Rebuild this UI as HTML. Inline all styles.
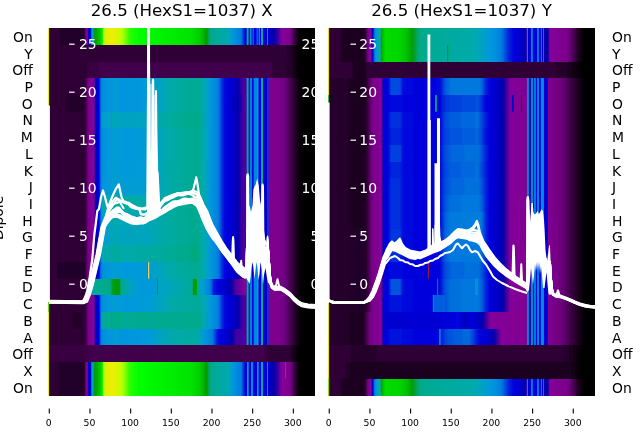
<!DOCTYPE html><html><head><meta charset="utf-8"><title>26.5 (HexS1=1037)</title><style>html,body{margin:0;padding:0;background:#fff}svg{display:block}</style></head><body><svg width="640" height="440" viewBox="0 0 640 440" font-family="'DejaVu Sans', 'Liberation Sans', sans-serif"><defs><linearGradient id="l0"><stop offset="0.0000" stop-color="#2f0035"/><stop offset="0.1332" stop-color="#2f0035"/><stop offset="0.1370" stop-color="#670075"/><stop offset="0.1388" stop-color="#7a008b"/><stop offset="0.1445" stop-color="#860097"/><stop offset="0.1482" stop-color="#0000b5"/><stop offset="0.1520" stop-color="#0000cd"/><stop offset="0.1557" stop-color="#0000dd"/><stop offset="0.1576" stop-color="#0013dd"/><stop offset="0.1595" stop-color="#0067dd"/><stop offset="0.1614" stop-color="#0092dd"/><stop offset="0.1651" stop-color="#00aa9d"/><stop offset="0.1689" stop-color="#00a13d"/><stop offset="0.1707" stop-color="#009d1d"/><stop offset="0.1726" stop-color="#009a08"/><stop offset="0.1764" stop-color="#00a400"/><stop offset="0.1895" stop-color="#00c200"/><stop offset="0.2008" stop-color="#00f400"/><stop offset="0.2026" stop-color="#58ff00"/><stop offset="0.2045" stop-color="#c0fd00"/><stop offset="0.2308" stop-color="#efed00"/><stop offset="0.2420" stop-color="#ecef00"/><stop offset="0.2739" stop-color="#bcff00"/><stop offset="0.2758" stop-color="#b0ff00"/><stop offset="0.2777" stop-color="#b0ff00"/><stop offset="0.2795" stop-color="#a1ff00"/><stop offset="0.2814" stop-color="#a1ff00"/><stop offset="0.2852" stop-color="#84ff00"/><stop offset="0.2871" stop-color="#84ff00"/><stop offset="0.2908" stop-color="#67ff00"/><stop offset="0.2927" stop-color="#67ff00"/><stop offset="0.2964" stop-color="#49ff00"/><stop offset="0.2983" stop-color="#49ff00"/><stop offset="0.3021" stop-color="#2cff00"/><stop offset="0.3058" stop-color="#2cff00"/><stop offset="0.3077" stop-color="#1dff00"/><stop offset="0.3171" stop-color="#1dff00"/><stop offset="0.3189" stop-color="#0fff00"/><stop offset="0.3302" stop-color="#0fff00"/><stop offset="0.3321" stop-color="#00ff00"/><stop offset="0.5347" stop-color="#00e200"/><stop offset="0.5666" stop-color="#00cc00"/><stop offset="0.5779" stop-color="#00ba00"/><stop offset="0.5910" stop-color="#009a00"/><stop offset="0.5929" stop-color="#009a08"/><stop offset="0.5985" stop-color="#00a248"/><stop offset="0.6023" stop-color="#00a668"/><stop offset="0.6041" stop-color="#00a97d"/><stop offset="0.6098" stop-color="#00aa90"/><stop offset="0.6754" stop-color="#00a7b3"/><stop offset="0.6886" stop-color="#0098dd"/><stop offset="0.7205" stop-color="#007ddd"/><stop offset="0.7223" stop-color="#0078dd"/><stop offset="0.7298" stop-color="#0038dd"/><stop offset="0.7373" stop-color="#0000dd"/><stop offset="0.7411" stop-color="#0000dd"/><stop offset="0.7430" stop-color="#00aa95"/><stop offset="0.7486" stop-color="#00aa95"/><stop offset="0.7505" stop-color="#0000dd"/><stop offset="0.7542" stop-color="#0000dd"/><stop offset="0.7561" stop-color="#008add"/><stop offset="0.7598" stop-color="#008add"/><stop offset="0.7617" stop-color="#0000dd"/><stop offset="0.7636" stop-color="#0000dd"/><stop offset="0.7655" stop-color="#008add"/><stop offset="0.7674" stop-color="#008add"/><stop offset="0.7692" stop-color="#0000dd"/><stop offset="0.7786" stop-color="#0000dd"/><stop offset="0.7805" stop-color="#008add"/><stop offset="0.7824" stop-color="#008add"/><stop offset="0.7842" stop-color="#0000dd"/><stop offset="0.7861" stop-color="#0000dd"/><stop offset="0.7880" stop-color="#008add"/><stop offset="0.7917" stop-color="#008add"/><stop offset="0.7936" stop-color="#0000dd"/><stop offset="0.7955" stop-color="#0000dd"/><stop offset="0.7974" stop-color="#00aa95"/><stop offset="0.8030" stop-color="#00aa95"/><stop offset="0.8049" stop-color="#0000dd"/><stop offset="0.8180" stop-color="#0000dd"/><stop offset="0.8199" stop-color="#0085dd"/><stop offset="0.8218" stop-color="#0085dd"/><stop offset="0.8236" stop-color="#0000cd"/><stop offset="0.8443" stop-color="#0300aa"/><stop offset="0.8499" stop-color="#1800a7"/><stop offset="0.8518" stop-color="#1800a7"/><stop offset="0.8555" stop-color="#2d00a4"/><stop offset="0.8574" stop-color="#2d00a4"/><stop offset="0.8687" stop-color="#6d009c"/><stop offset="0.8705" stop-color="#6d009c"/><stop offset="0.8762" stop-color="#870098"/><stop offset="0.9081" stop-color="#770088"/><stop offset="0.9174" stop-color="#4b0055"/><stop offset="0.9212" stop-color="#41004b"/><stop offset="0.9268" stop-color="#25002b"/><stop offset="0.9287" stop-color="#25002b"/><stop offset="0.9325" stop-color="#130015"/><stop offset="0.9381" stop-color="#09000b"/><stop offset="0.9400" stop-color="#000000"/><stop offset="1.0000" stop-color="#000000"/></linearGradient><linearGradient id="l1"><stop offset="0.0000" stop-color="#2f0035"/><stop offset="0.8912" stop-color="#2f0035"/><stop offset="0.8949" stop-color="#25002b"/><stop offset="0.9081" stop-color="#25002b"/><stop offset="0.9099" stop-color="#1c0020"/><stop offset="0.9193" stop-color="#1c0020"/><stop offset="0.9212" stop-color="#130015"/><stop offset="0.9268" stop-color="#130015"/><stop offset="0.9287" stop-color="#09000b"/><stop offset="0.9362" stop-color="#09000b"/><stop offset="0.9381" stop-color="#000000"/><stop offset="1.0000" stop-color="#000000"/></linearGradient><linearGradient id="l2"><stop offset="0.0000" stop-color="#2f0035"/><stop offset="0.1426" stop-color="#2f0035"/><stop offset="0.1445" stop-color="#380040"/><stop offset="0.1857" stop-color="#380040"/><stop offset="0.1876" stop-color="#41004b"/><stop offset="0.8349" stop-color="#41004b"/><stop offset="0.8368" stop-color="#380040"/><stop offset="0.8386" stop-color="#380040"/><stop offset="0.8405" stop-color="#2f0035"/><stop offset="0.8874" stop-color="#2f0035"/><stop offset="0.8912" stop-color="#25002b"/><stop offset="0.9118" stop-color="#25002b"/><stop offset="0.9137" stop-color="#1c0020"/><stop offset="0.9193" stop-color="#1c0020"/><stop offset="0.9212" stop-color="#130015"/><stop offset="0.9268" stop-color="#130015"/><stop offset="0.9287" stop-color="#09000b"/><stop offset="0.9343" stop-color="#09000b"/><stop offset="0.9362" stop-color="#000000"/><stop offset="1.0000" stop-color="#000000"/></linearGradient><linearGradient id="l3"><stop offset="0.0000" stop-color="#2f0035"/><stop offset="0.1332" stop-color="#2f0035"/><stop offset="0.1351" stop-color="#380040"/><stop offset="0.1370" stop-color="#380040"/><stop offset="0.1426" stop-color="#540060"/><stop offset="0.1445" stop-color="#670075"/><stop offset="0.1482" stop-color="#79008a"/><stop offset="0.1651" stop-color="#870098"/><stop offset="0.1689" stop-color="#83009a"/><stop offset="0.1707" stop-color="#63009e"/><stop offset="0.1745" stop-color="#0d00a8"/><stop offset="0.1764" stop-color="#0000b5"/><stop offset="0.1820" stop-color="#0000d5"/><stop offset="0.1857" stop-color="#0000dd"/><stop offset="0.1895" stop-color="#0013dd"/><stop offset="0.1932" stop-color="#005ddd"/><stop offset="0.1951" stop-color="#007add"/><stop offset="0.2026" stop-color="#0090dd"/><stop offset="0.2364" stop-color="#0098dd"/><stop offset="0.2533" stop-color="#009cd3"/><stop offset="0.2720" stop-color="#0095dd"/><stop offset="0.3752" stop-color="#009adb"/><stop offset="0.4559" stop-color="#00aaa8"/><stop offset="0.5553" stop-color="#00aa93"/><stop offset="0.5835" stop-color="#00a8af"/><stop offset="0.6041" stop-color="#009adb"/><stop offset="0.6323" stop-color="#0082dd"/><stop offset="0.6398" stop-color="#0070dd"/><stop offset="0.6417" stop-color="#005ddd"/><stop offset="0.6473" stop-color="#0041dd"/><stop offset="0.6510" stop-color="#0025dd"/><stop offset="0.6548" stop-color="#001cdd"/><stop offset="0.6585" stop-color="#0009dd"/><stop offset="0.6642" stop-color="#0009dd"/><stop offset="0.6679" stop-color="#0000dd"/><stop offset="0.6904" stop-color="#0000d1"/><stop offset="0.7111" stop-color="#0300aa"/><stop offset="0.7167" stop-color="#2300a6"/><stop offset="0.7186" stop-color="#2300a6"/><stop offset="0.7223" stop-color="#3800a3"/><stop offset="0.7242" stop-color="#3800a3"/><stop offset="0.7261" stop-color="#4300a2"/><stop offset="0.7317" stop-color="#4300a2"/><stop offset="0.7355" stop-color="#4d00a0"/><stop offset="0.7411" stop-color="#4d00a0"/><stop offset="0.7430" stop-color="#00aaa0"/><stop offset="0.7486" stop-color="#00aaa0"/><stop offset="0.7505" stop-color="#0000d1"/><stop offset="0.7542" stop-color="#0000d1"/><stop offset="0.7561" stop-color="#0080dd"/><stop offset="0.7617" stop-color="#0080dd"/><stop offset="0.7636" stop-color="#0000dd"/><stop offset="0.7674" stop-color="#0000dd"/><stop offset="0.7692" stop-color="#0085dd"/><stop offset="0.7805" stop-color="#0085dd"/><stop offset="0.7824" stop-color="#00aa88"/><stop offset="0.7842" stop-color="#00aa88"/><stop offset="0.7861" stop-color="#007ddd"/><stop offset="0.7880" stop-color="#0000dd"/><stop offset="0.7955" stop-color="#0000dd"/><stop offset="0.7974" stop-color="#00aa98"/><stop offset="0.8030" stop-color="#00aa98"/><stop offset="0.8049" stop-color="#0000cd"/><stop offset="0.8180" stop-color="#0000cd"/><stop offset="0.8199" stop-color="#0038dd"/><stop offset="0.8236" stop-color="#0038dd"/><stop offset="0.8255" stop-color="#830094"/><stop offset="0.8349" stop-color="#7d008e"/><stop offset="0.8780" stop-color="#770088"/><stop offset="0.8818" stop-color="#700080"/><stop offset="0.8837" stop-color="#700080"/><stop offset="0.8856" stop-color="#670075"/><stop offset="0.8893" stop-color="#670075"/><stop offset="0.8931" stop-color="#5d006b"/><stop offset="0.8949" stop-color="#5d006b"/><stop offset="0.8968" stop-color="#540060"/><stop offset="0.9006" stop-color="#540060"/><stop offset="0.9024" stop-color="#4b0055"/><stop offset="0.9099" stop-color="#41004b"/><stop offset="0.9118" stop-color="#380040"/><stop offset="0.9156" stop-color="#380040"/><stop offset="0.9174" stop-color="#2f0035"/><stop offset="0.9250" stop-color="#25002b"/><stop offset="0.9268" stop-color="#1c0020"/><stop offset="0.9306" stop-color="#1c0020"/><stop offset="0.9325" stop-color="#130015"/><stop offset="0.9362" stop-color="#130015"/><stop offset="0.9400" stop-color="#09000b"/><stop offset="0.9418" stop-color="#09000b"/><stop offset="0.9437" stop-color="#000000"/><stop offset="1.0000" stop-color="#000000"/></linearGradient><linearGradient id="l5"><stop offset="0.0000" stop-color="#2f0035"/><stop offset="0.1332" stop-color="#2f0035"/><stop offset="0.1351" stop-color="#380040"/><stop offset="0.1370" stop-color="#380040"/><stop offset="0.1426" stop-color="#540060"/><stop offset="0.1445" stop-color="#670075"/><stop offset="0.1482" stop-color="#79008a"/><stop offset="0.1651" stop-color="#870098"/><stop offset="0.1689" stop-color="#83009a"/><stop offset="0.1707" stop-color="#63009e"/><stop offset="0.1745" stop-color="#0d00a8"/><stop offset="0.1764" stop-color="#0000b5"/><stop offset="0.1820" stop-color="#0000d5"/><stop offset="0.1857" stop-color="#0000dd"/><stop offset="0.1895" stop-color="#0013dd"/><stop offset="0.1932" stop-color="#005ddd"/><stop offset="0.1951" stop-color="#007add"/><stop offset="0.1989" stop-color="#0092dd"/><stop offset="0.2026" stop-color="#009ecf"/><stop offset="0.2326" stop-color="#00a0c7"/><stop offset="0.2458" stop-color="#00a6b7"/><stop offset="0.2608" stop-color="#00a4bb"/><stop offset="0.2702" stop-color="#00a2c3"/><stop offset="0.3734" stop-color="#00a3bf"/><stop offset="0.4315" stop-color="#00aaa3"/><stop offset="0.5535" stop-color="#00aa88"/><stop offset="0.5722" stop-color="#00aa98"/><stop offset="0.5966" stop-color="#009ecf"/><stop offset="0.6060" stop-color="#0098dd"/><stop offset="0.6323" stop-color="#0082dd"/><stop offset="0.6398" stop-color="#0070dd"/><stop offset="0.6417" stop-color="#005ddd"/><stop offset="0.6473" stop-color="#0041dd"/><stop offset="0.6510" stop-color="#0025dd"/><stop offset="0.6548" stop-color="#001cdd"/><stop offset="0.6585" stop-color="#0009dd"/><stop offset="0.6642" stop-color="#0009dd"/><stop offset="0.6679" stop-color="#0000dd"/><stop offset="0.6904" stop-color="#0000d1"/><stop offset="0.7111" stop-color="#0300aa"/><stop offset="0.7167" stop-color="#2300a6"/><stop offset="0.7186" stop-color="#2300a6"/><stop offset="0.7223" stop-color="#3800a3"/><stop offset="0.7242" stop-color="#3800a3"/><stop offset="0.7261" stop-color="#4300a2"/><stop offset="0.7317" stop-color="#4300a2"/><stop offset="0.7355" stop-color="#4d00a0"/><stop offset="0.7411" stop-color="#4d00a0"/><stop offset="0.7430" stop-color="#00aaa0"/><stop offset="0.7486" stop-color="#00aaa0"/><stop offset="0.7505" stop-color="#0000d1"/><stop offset="0.7542" stop-color="#0000d1"/><stop offset="0.7561" stop-color="#0080dd"/><stop offset="0.7617" stop-color="#0080dd"/><stop offset="0.7636" stop-color="#0000dd"/><stop offset="0.7674" stop-color="#0000dd"/><stop offset="0.7692" stop-color="#0085dd"/><stop offset="0.7805" stop-color="#0085dd"/><stop offset="0.7824" stop-color="#00aa88"/><stop offset="0.7842" stop-color="#00aa88"/><stop offset="0.7861" stop-color="#007ddd"/><stop offset="0.7880" stop-color="#0000dd"/><stop offset="0.7955" stop-color="#0000dd"/><stop offset="0.7974" stop-color="#00aa98"/><stop offset="0.8030" stop-color="#00aa98"/><stop offset="0.8049" stop-color="#0000cd"/><stop offset="0.8180" stop-color="#0000cd"/><stop offset="0.8199" stop-color="#0038dd"/><stop offset="0.8236" stop-color="#0038dd"/><stop offset="0.8255" stop-color="#830094"/><stop offset="0.8349" stop-color="#7d008e"/><stop offset="0.8780" stop-color="#770088"/><stop offset="0.8818" stop-color="#700080"/><stop offset="0.8837" stop-color="#700080"/><stop offset="0.8856" stop-color="#670075"/><stop offset="0.8893" stop-color="#670075"/><stop offset="0.8931" stop-color="#5d006b"/><stop offset="0.8949" stop-color="#5d006b"/><stop offset="0.8968" stop-color="#540060"/><stop offset="0.9006" stop-color="#540060"/><stop offset="0.9024" stop-color="#4b0055"/><stop offset="0.9099" stop-color="#41004b"/><stop offset="0.9118" stop-color="#380040"/><stop offset="0.9156" stop-color="#380040"/><stop offset="0.9174" stop-color="#2f0035"/><stop offset="0.9250" stop-color="#25002b"/><stop offset="0.9268" stop-color="#1c0020"/><stop offset="0.9306" stop-color="#1c0020"/><stop offset="0.9325" stop-color="#130015"/><stop offset="0.9362" stop-color="#130015"/><stop offset="0.9400" stop-color="#09000b"/><stop offset="0.9418" stop-color="#09000b"/><stop offset="0.9437" stop-color="#000000"/><stop offset="1.0000" stop-color="#000000"/></linearGradient><linearGradient id="l6"><stop offset="0.0000" stop-color="#2f0035"/><stop offset="0.1332" stop-color="#2f0035"/><stop offset="0.1351" stop-color="#380040"/><stop offset="0.1370" stop-color="#380040"/><stop offset="0.1426" stop-color="#540060"/><stop offset="0.1445" stop-color="#670075"/><stop offset="0.1482" stop-color="#79008a"/><stop offset="0.1651" stop-color="#870098"/><stop offset="0.1689" stop-color="#83009a"/><stop offset="0.1707" stop-color="#63009e"/><stop offset="0.1745" stop-color="#0d00a8"/><stop offset="0.1764" stop-color="#0000b5"/><stop offset="0.1820" stop-color="#0000d5"/><stop offset="0.1857" stop-color="#0000dd"/><stop offset="0.1895" stop-color="#0013dd"/><stop offset="0.1932" stop-color="#005ddd"/><stop offset="0.1951" stop-color="#007add"/><stop offset="0.2026" stop-color="#0092dd"/><stop offset="0.2364" stop-color="#009adb"/><stop offset="0.2477" stop-color="#009ecf"/><stop offset="0.2627" stop-color="#009bd7"/><stop offset="0.2852" stop-color="#0098dd"/><stop offset="0.3752" stop-color="#009bd7"/><stop offset="0.4503" stop-color="#00aaa8"/><stop offset="0.5535" stop-color="#00aa90"/><stop offset="0.5816" stop-color="#00aaab"/><stop offset="0.6041" stop-color="#009adb"/><stop offset="0.6323" stop-color="#0082dd"/><stop offset="0.6398" stop-color="#0070dd"/><stop offset="0.6417" stop-color="#005ddd"/><stop offset="0.6473" stop-color="#0041dd"/><stop offset="0.6510" stop-color="#0025dd"/><stop offset="0.6548" stop-color="#001cdd"/><stop offset="0.6585" stop-color="#0009dd"/><stop offset="0.6642" stop-color="#0009dd"/><stop offset="0.6679" stop-color="#0000dd"/><stop offset="0.6904" stop-color="#0000d1"/><stop offset="0.7111" stop-color="#0300aa"/><stop offset="0.7167" stop-color="#2300a6"/><stop offset="0.7186" stop-color="#2300a6"/><stop offset="0.7223" stop-color="#3800a3"/><stop offset="0.7242" stop-color="#3800a3"/><stop offset="0.7261" stop-color="#4300a2"/><stop offset="0.7317" stop-color="#4300a2"/><stop offset="0.7355" stop-color="#4d00a0"/><stop offset="0.7411" stop-color="#4d00a0"/><stop offset="0.7430" stop-color="#00aaa0"/><stop offset="0.7486" stop-color="#00aaa0"/><stop offset="0.7505" stop-color="#0000d1"/><stop offset="0.7542" stop-color="#0000d1"/><stop offset="0.7561" stop-color="#0080dd"/><stop offset="0.7617" stop-color="#0080dd"/><stop offset="0.7636" stop-color="#0000dd"/><stop offset="0.7674" stop-color="#0000dd"/><stop offset="0.7692" stop-color="#0085dd"/><stop offset="0.7805" stop-color="#0085dd"/><stop offset="0.7824" stop-color="#00aa88"/><stop offset="0.7842" stop-color="#00aa88"/><stop offset="0.7861" stop-color="#007ddd"/><stop offset="0.7880" stop-color="#0000dd"/><stop offset="0.7955" stop-color="#0000dd"/><stop offset="0.7974" stop-color="#00aa98"/><stop offset="0.8030" stop-color="#00aa98"/><stop offset="0.8049" stop-color="#0000cd"/><stop offset="0.8180" stop-color="#0000cd"/><stop offset="0.8199" stop-color="#0038dd"/><stop offset="0.8236" stop-color="#0038dd"/><stop offset="0.8255" stop-color="#830094"/><stop offset="0.8349" stop-color="#7d008e"/><stop offset="0.8780" stop-color="#770088"/><stop offset="0.8818" stop-color="#700080"/><stop offset="0.8837" stop-color="#700080"/><stop offset="0.8856" stop-color="#670075"/><stop offset="0.8893" stop-color="#670075"/><stop offset="0.8931" stop-color="#5d006b"/><stop offset="0.8949" stop-color="#5d006b"/><stop offset="0.8968" stop-color="#540060"/><stop offset="0.9006" stop-color="#540060"/><stop offset="0.9024" stop-color="#4b0055"/><stop offset="0.9099" stop-color="#41004b"/><stop offset="0.9118" stop-color="#380040"/><stop offset="0.9156" stop-color="#380040"/><stop offset="0.9174" stop-color="#2f0035"/><stop offset="0.9250" stop-color="#25002b"/><stop offset="0.9268" stop-color="#1c0020"/><stop offset="0.9306" stop-color="#1c0020"/><stop offset="0.9325" stop-color="#130015"/><stop offset="0.9362" stop-color="#130015"/><stop offset="0.9400" stop-color="#09000b"/><stop offset="0.9418" stop-color="#09000b"/><stop offset="0.9437" stop-color="#000000"/><stop offset="1.0000" stop-color="#000000"/></linearGradient><linearGradient id="l8"><stop offset="0.0000" stop-color="#2f0035"/><stop offset="0.1332" stop-color="#2f0035"/><stop offset="0.1351" stop-color="#380040"/><stop offset="0.1370" stop-color="#380040"/><stop offset="0.1426" stop-color="#540060"/><stop offset="0.1445" stop-color="#670075"/><stop offset="0.1482" stop-color="#79008a"/><stop offset="0.1651" stop-color="#870098"/><stop offset="0.1689" stop-color="#83009a"/><stop offset="0.1707" stop-color="#63009e"/><stop offset="0.1745" stop-color="#0d00a8"/><stop offset="0.1764" stop-color="#0000b5"/><stop offset="0.1820" stop-color="#0000d5"/><stop offset="0.1857" stop-color="#0000dd"/><stop offset="0.1895" stop-color="#0013dd"/><stop offset="0.1932" stop-color="#005ddd"/><stop offset="0.1951" stop-color="#007add"/><stop offset="0.2008" stop-color="#0092dd"/><stop offset="0.2345" stop-color="#009adb"/><stop offset="0.2458" stop-color="#009ecf"/><stop offset="0.2608" stop-color="#009cd3"/><stop offset="0.2739" stop-color="#009adb"/><stop offset="0.3715" stop-color="#009bd7"/><stop offset="0.4503" stop-color="#00aaa5"/><stop offset="0.5553" stop-color="#00aa90"/><stop offset="0.5797" stop-color="#00aaa8"/><stop offset="0.6041" stop-color="#009adb"/><stop offset="0.6323" stop-color="#0082dd"/><stop offset="0.6398" stop-color="#0070dd"/><stop offset="0.6417" stop-color="#005ddd"/><stop offset="0.6473" stop-color="#0041dd"/><stop offset="0.6510" stop-color="#0025dd"/><stop offset="0.6548" stop-color="#001cdd"/><stop offset="0.6585" stop-color="#0009dd"/><stop offset="0.6642" stop-color="#0009dd"/><stop offset="0.6679" stop-color="#0000dd"/><stop offset="0.6904" stop-color="#0000d1"/><stop offset="0.7111" stop-color="#0300aa"/><stop offset="0.7167" stop-color="#2300a6"/><stop offset="0.7186" stop-color="#2300a6"/><stop offset="0.7223" stop-color="#3800a3"/><stop offset="0.7242" stop-color="#3800a3"/><stop offset="0.7261" stop-color="#4300a2"/><stop offset="0.7317" stop-color="#4300a2"/><stop offset="0.7355" stop-color="#4d00a0"/><stop offset="0.7411" stop-color="#4d00a0"/><stop offset="0.7430" stop-color="#00aaa0"/><stop offset="0.7486" stop-color="#00aaa0"/><stop offset="0.7505" stop-color="#0000d1"/><stop offset="0.7542" stop-color="#0000d1"/><stop offset="0.7561" stop-color="#0080dd"/><stop offset="0.7617" stop-color="#0080dd"/><stop offset="0.7636" stop-color="#0000dd"/><stop offset="0.7674" stop-color="#0000dd"/><stop offset="0.7692" stop-color="#0085dd"/><stop offset="0.7805" stop-color="#0085dd"/><stop offset="0.7824" stop-color="#00aa88"/><stop offset="0.7842" stop-color="#00aa88"/><stop offset="0.7861" stop-color="#007ddd"/><stop offset="0.7880" stop-color="#0000dd"/><stop offset="0.7955" stop-color="#0000dd"/><stop offset="0.7974" stop-color="#00aa98"/><stop offset="0.8030" stop-color="#00aa98"/><stop offset="0.8049" stop-color="#0000cd"/><stop offset="0.8180" stop-color="#0000cd"/><stop offset="0.8199" stop-color="#0038dd"/><stop offset="0.8236" stop-color="#0038dd"/><stop offset="0.8255" stop-color="#830094"/><stop offset="0.8349" stop-color="#7d008e"/><stop offset="0.8780" stop-color="#770088"/><stop offset="0.8818" stop-color="#700080"/><stop offset="0.8837" stop-color="#700080"/><stop offset="0.8856" stop-color="#670075"/><stop offset="0.8893" stop-color="#670075"/><stop offset="0.8931" stop-color="#5d006b"/><stop offset="0.8949" stop-color="#5d006b"/><stop offset="0.8968" stop-color="#540060"/><stop offset="0.9006" stop-color="#540060"/><stop offset="0.9024" stop-color="#4b0055"/><stop offset="0.9099" stop-color="#41004b"/><stop offset="0.9118" stop-color="#380040"/><stop offset="0.9156" stop-color="#380040"/><stop offset="0.9174" stop-color="#2f0035"/><stop offset="0.9250" stop-color="#25002b"/><stop offset="0.9268" stop-color="#1c0020"/><stop offset="0.9306" stop-color="#1c0020"/><stop offset="0.9325" stop-color="#130015"/><stop offset="0.9362" stop-color="#130015"/><stop offset="0.9400" stop-color="#09000b"/><stop offset="0.9418" stop-color="#09000b"/><stop offset="0.9437" stop-color="#000000"/><stop offset="1.0000" stop-color="#000000"/></linearGradient><linearGradient id="l9"><stop offset="0.0000" stop-color="#2f0035"/><stop offset="0.1332" stop-color="#2f0035"/><stop offset="0.1351" stop-color="#380040"/><stop offset="0.1370" stop-color="#380040"/><stop offset="0.1426" stop-color="#540060"/><stop offset="0.1445" stop-color="#670075"/><stop offset="0.1482" stop-color="#79008a"/><stop offset="0.1651" stop-color="#870098"/><stop offset="0.1689" stop-color="#83009a"/><stop offset="0.1707" stop-color="#63009e"/><stop offset="0.1745" stop-color="#0d00a8"/><stop offset="0.1764" stop-color="#0000b5"/><stop offset="0.1820" stop-color="#0000d5"/><stop offset="0.1857" stop-color="#0000dd"/><stop offset="0.1895" stop-color="#0013dd"/><stop offset="0.1932" stop-color="#005ddd"/><stop offset="0.1951" stop-color="#007add"/><stop offset="0.2026" stop-color="#0095dd"/><stop offset="0.2345" stop-color="#009bd7"/><stop offset="0.2495" stop-color="#009fcb"/><stop offset="0.2627" stop-color="#009cd3"/><stop offset="0.3734" stop-color="#009cd3"/><stop offset="0.4447" stop-color="#00aaa8"/><stop offset="0.5553" stop-color="#00aa90"/><stop offset="0.5797" stop-color="#00aaa8"/><stop offset="0.6041" stop-color="#009adb"/><stop offset="0.6323" stop-color="#0082dd"/><stop offset="0.6398" stop-color="#0070dd"/><stop offset="0.6417" stop-color="#005ddd"/><stop offset="0.6473" stop-color="#0041dd"/><stop offset="0.6510" stop-color="#0025dd"/><stop offset="0.6548" stop-color="#001cdd"/><stop offset="0.6585" stop-color="#0009dd"/><stop offset="0.6642" stop-color="#0009dd"/><stop offset="0.6679" stop-color="#0000dd"/><stop offset="0.6904" stop-color="#0000d1"/><stop offset="0.7111" stop-color="#0300aa"/><stop offset="0.7167" stop-color="#2300a6"/><stop offset="0.7186" stop-color="#2300a6"/><stop offset="0.7223" stop-color="#3800a3"/><stop offset="0.7242" stop-color="#3800a3"/><stop offset="0.7261" stop-color="#4300a2"/><stop offset="0.7317" stop-color="#4300a2"/><stop offset="0.7355" stop-color="#4d00a0"/><stop offset="0.7411" stop-color="#4d00a0"/><stop offset="0.7430" stop-color="#00aaa0"/><stop offset="0.7486" stop-color="#00aaa0"/><stop offset="0.7505" stop-color="#0000d1"/><stop offset="0.7542" stop-color="#0000d1"/><stop offset="0.7561" stop-color="#0080dd"/><stop offset="0.7617" stop-color="#0080dd"/><stop offset="0.7636" stop-color="#0000dd"/><stop offset="0.7674" stop-color="#0000dd"/><stop offset="0.7692" stop-color="#0085dd"/><stop offset="0.7805" stop-color="#0085dd"/><stop offset="0.7824" stop-color="#00aa88"/><stop offset="0.7842" stop-color="#00aa88"/><stop offset="0.7861" stop-color="#007ddd"/><stop offset="0.7880" stop-color="#0000dd"/><stop offset="0.7955" stop-color="#0000dd"/><stop offset="0.7974" stop-color="#00aa98"/><stop offset="0.8030" stop-color="#00aa98"/><stop offset="0.8049" stop-color="#0000cd"/><stop offset="0.8180" stop-color="#0000cd"/><stop offset="0.8199" stop-color="#0038dd"/><stop offset="0.8236" stop-color="#0038dd"/><stop offset="0.8255" stop-color="#830094"/><stop offset="0.8349" stop-color="#7d008e"/><stop offset="0.8780" stop-color="#770088"/><stop offset="0.8818" stop-color="#700080"/><stop offset="0.8837" stop-color="#700080"/><stop offset="0.8856" stop-color="#670075"/><stop offset="0.8893" stop-color="#670075"/><stop offset="0.8931" stop-color="#5d006b"/><stop offset="0.8949" stop-color="#5d006b"/><stop offset="0.8968" stop-color="#540060"/><stop offset="0.9006" stop-color="#540060"/><stop offset="0.9024" stop-color="#4b0055"/><stop offset="0.9099" stop-color="#41004b"/><stop offset="0.9118" stop-color="#380040"/><stop offset="0.9156" stop-color="#380040"/><stop offset="0.9174" stop-color="#2f0035"/><stop offset="0.9250" stop-color="#25002b"/><stop offset="0.9268" stop-color="#1c0020"/><stop offset="0.9306" stop-color="#1c0020"/><stop offset="0.9325" stop-color="#130015"/><stop offset="0.9362" stop-color="#130015"/><stop offset="0.9400" stop-color="#09000b"/><stop offset="0.9418" stop-color="#09000b"/><stop offset="0.9437" stop-color="#000000"/><stop offset="1.0000" stop-color="#000000"/></linearGradient><linearGradient id="l10"><stop offset="0.0000" stop-color="#2f0035"/><stop offset="0.1332" stop-color="#2f0035"/><stop offset="0.1351" stop-color="#380040"/><stop offset="0.1370" stop-color="#380040"/><stop offset="0.1426" stop-color="#540060"/><stop offset="0.1445" stop-color="#670075"/><stop offset="0.1482" stop-color="#79008a"/><stop offset="0.1651" stop-color="#870098"/><stop offset="0.1689" stop-color="#83009a"/><stop offset="0.1707" stop-color="#63009e"/><stop offset="0.1745" stop-color="#0d00a8"/><stop offset="0.1764" stop-color="#0000b5"/><stop offset="0.1820" stop-color="#0000d5"/><stop offset="0.1857" stop-color="#0000dd"/><stop offset="0.1895" stop-color="#0013dd"/><stop offset="0.1932" stop-color="#005ddd"/><stop offset="0.1951" stop-color="#007add"/><stop offset="0.1989" stop-color="#009bd7"/><stop offset="0.2008" stop-color="#00a4bb"/><stop offset="0.2045" stop-color="#00a7b3"/><stop offset="0.2345" stop-color="#00aaab"/><stop offset="0.2514" stop-color="#00aaa0"/><stop offset="0.2777" stop-color="#00aaab"/><stop offset="0.4109" stop-color="#00aaa3"/><stop offset="0.5572" stop-color="#00aa8d"/><stop offset="0.5779" stop-color="#00aaa3"/><stop offset="0.6041" stop-color="#009adb"/><stop offset="0.6323" stop-color="#0082dd"/><stop offset="0.6398" stop-color="#0070dd"/><stop offset="0.6417" stop-color="#005ddd"/><stop offset="0.6473" stop-color="#0041dd"/><stop offset="0.6510" stop-color="#0025dd"/><stop offset="0.6548" stop-color="#001cdd"/><stop offset="0.6585" stop-color="#0009dd"/><stop offset="0.6642" stop-color="#0009dd"/><stop offset="0.6679" stop-color="#0000dd"/><stop offset="0.6904" stop-color="#0000d1"/><stop offset="0.7111" stop-color="#0300aa"/><stop offset="0.7167" stop-color="#2300a6"/><stop offset="0.7186" stop-color="#2300a6"/><stop offset="0.7223" stop-color="#3800a3"/><stop offset="0.7242" stop-color="#3800a3"/><stop offset="0.7261" stop-color="#4300a2"/><stop offset="0.7317" stop-color="#4300a2"/><stop offset="0.7355" stop-color="#4d00a0"/><stop offset="0.7411" stop-color="#4d00a0"/><stop offset="0.7430" stop-color="#00aaa0"/><stop offset="0.7486" stop-color="#00aaa0"/><stop offset="0.7505" stop-color="#0000d1"/><stop offset="0.7542" stop-color="#0000d1"/><stop offset="0.7561" stop-color="#0080dd"/><stop offset="0.7617" stop-color="#0080dd"/><stop offset="0.7636" stop-color="#0000dd"/><stop offset="0.7674" stop-color="#0000dd"/><stop offset="0.7692" stop-color="#0085dd"/><stop offset="0.7805" stop-color="#0085dd"/><stop offset="0.7824" stop-color="#00aa88"/><stop offset="0.7842" stop-color="#00aa88"/><stop offset="0.7861" stop-color="#007ddd"/><stop offset="0.7880" stop-color="#0000dd"/><stop offset="0.7955" stop-color="#0000dd"/><stop offset="0.7974" stop-color="#00aa98"/><stop offset="0.8030" stop-color="#00aa98"/><stop offset="0.8049" stop-color="#0000cd"/><stop offset="0.8180" stop-color="#0000cd"/><stop offset="0.8199" stop-color="#0038dd"/><stop offset="0.8236" stop-color="#0038dd"/><stop offset="0.8255" stop-color="#830094"/><stop offset="0.8349" stop-color="#7d008e"/><stop offset="0.8780" stop-color="#770088"/><stop offset="0.8818" stop-color="#700080"/><stop offset="0.8837" stop-color="#700080"/><stop offset="0.8856" stop-color="#670075"/><stop offset="0.8893" stop-color="#670075"/><stop offset="0.8931" stop-color="#5d006b"/><stop offset="0.8949" stop-color="#5d006b"/><stop offset="0.8968" stop-color="#540060"/><stop offset="0.9006" stop-color="#540060"/><stop offset="0.9024" stop-color="#4b0055"/><stop offset="0.9099" stop-color="#41004b"/><stop offset="0.9118" stop-color="#380040"/><stop offset="0.9156" stop-color="#380040"/><stop offset="0.9174" stop-color="#2f0035"/><stop offset="0.9250" stop-color="#25002b"/><stop offset="0.9268" stop-color="#1c0020"/><stop offset="0.9306" stop-color="#1c0020"/><stop offset="0.9325" stop-color="#130015"/><stop offset="0.9362" stop-color="#130015"/><stop offset="0.9400" stop-color="#09000b"/><stop offset="0.9418" stop-color="#09000b"/><stop offset="0.9437" stop-color="#000000"/><stop offset="1.0000" stop-color="#000000"/></linearGradient><linearGradient id="l11"><stop offset="0.0000" stop-color="#2f0035"/><stop offset="0.1332" stop-color="#2f0035"/><stop offset="0.1351" stop-color="#380040"/><stop offset="0.1370" stop-color="#380040"/><stop offset="0.1426" stop-color="#540060"/><stop offset="0.1445" stop-color="#670075"/><stop offset="0.1482" stop-color="#79008a"/><stop offset="0.1651" stop-color="#870098"/><stop offset="0.1689" stop-color="#83009a"/><stop offset="0.1707" stop-color="#63009e"/><stop offset="0.1745" stop-color="#0d00a8"/><stop offset="0.1764" stop-color="#0000b5"/><stop offset="0.1820" stop-color="#0000d5"/><stop offset="0.1857" stop-color="#0000dd"/><stop offset="0.1895" stop-color="#0013dd"/><stop offset="0.1932" stop-color="#005ddd"/><stop offset="0.1951" stop-color="#007add"/><stop offset="0.1989" stop-color="#0098dd"/><stop offset="0.2026" stop-color="#00a2c3"/><stop offset="0.2326" stop-color="#00a4bb"/><stop offset="0.2477" stop-color="#00aaab"/><stop offset="0.2627" stop-color="#00a7b3"/><stop offset="0.2720" stop-color="#00a4bb"/><stop offset="0.3696" stop-color="#00a6b7"/><stop offset="0.4634" stop-color="#00aa9d"/><stop offset="0.5553" stop-color="#00aa8d"/><stop offset="0.5816" stop-color="#00aaab"/><stop offset="0.6041" stop-color="#009adb"/><stop offset="0.6323" stop-color="#0082dd"/><stop offset="0.6398" stop-color="#0070dd"/><stop offset="0.6417" stop-color="#005ddd"/><stop offset="0.6473" stop-color="#0041dd"/><stop offset="0.6510" stop-color="#0025dd"/><stop offset="0.6548" stop-color="#001cdd"/><stop offset="0.6585" stop-color="#0009dd"/><stop offset="0.6642" stop-color="#0009dd"/><stop offset="0.6679" stop-color="#0000dd"/><stop offset="0.6904" stop-color="#0000d1"/><stop offset="0.7111" stop-color="#0300aa"/><stop offset="0.7167" stop-color="#2300a6"/><stop offset="0.7186" stop-color="#2300a6"/><stop offset="0.7223" stop-color="#3800a3"/><stop offset="0.7242" stop-color="#3800a3"/><stop offset="0.7261" stop-color="#4300a2"/><stop offset="0.7317" stop-color="#4300a2"/><stop offset="0.7355" stop-color="#4d00a0"/><stop offset="0.7411" stop-color="#4d00a0"/><stop offset="0.7430" stop-color="#00aaa0"/><stop offset="0.7486" stop-color="#00aaa0"/><stop offset="0.7505" stop-color="#0000d1"/><stop offset="0.7542" stop-color="#0000d1"/><stop offset="0.7561" stop-color="#0080dd"/><stop offset="0.7617" stop-color="#0080dd"/><stop offset="0.7636" stop-color="#0000dd"/><stop offset="0.7674" stop-color="#0000dd"/><stop offset="0.7692" stop-color="#0085dd"/><stop offset="0.7805" stop-color="#0085dd"/><stop offset="0.7824" stop-color="#00aa88"/><stop offset="0.7842" stop-color="#00aa88"/><stop offset="0.7861" stop-color="#007ddd"/><stop offset="0.7880" stop-color="#0000dd"/><stop offset="0.7955" stop-color="#0000dd"/><stop offset="0.7974" stop-color="#00aa98"/><stop offset="0.8030" stop-color="#00aa98"/><stop offset="0.8049" stop-color="#0000cd"/><stop offset="0.8180" stop-color="#0000cd"/><stop offset="0.8199" stop-color="#0038dd"/><stop offset="0.8236" stop-color="#0038dd"/><stop offset="0.8255" stop-color="#830094"/><stop offset="0.8349" stop-color="#7d008e"/><stop offset="0.8780" stop-color="#770088"/><stop offset="0.8818" stop-color="#700080"/><stop offset="0.8837" stop-color="#700080"/><stop offset="0.8856" stop-color="#670075"/><stop offset="0.8893" stop-color="#670075"/><stop offset="0.8931" stop-color="#5d006b"/><stop offset="0.8949" stop-color="#5d006b"/><stop offset="0.8968" stop-color="#540060"/><stop offset="0.9006" stop-color="#540060"/><stop offset="0.9024" stop-color="#4b0055"/><stop offset="0.9099" stop-color="#41004b"/><stop offset="0.9118" stop-color="#380040"/><stop offset="0.9156" stop-color="#380040"/><stop offset="0.9174" stop-color="#2f0035"/><stop offset="0.9250" stop-color="#25002b"/><stop offset="0.9268" stop-color="#1c0020"/><stop offset="0.9306" stop-color="#1c0020"/><stop offset="0.9325" stop-color="#130015"/><stop offset="0.9362" stop-color="#130015"/><stop offset="0.9400" stop-color="#09000b"/><stop offset="0.9418" stop-color="#09000b"/><stop offset="0.9437" stop-color="#000000"/><stop offset="1.0000" stop-color="#000000"/></linearGradient><linearGradient id="l12"><stop offset="0.0000" stop-color="#2f0035"/><stop offset="0.1332" stop-color="#2f0035"/><stop offset="0.1351" stop-color="#380040"/><stop offset="0.1370" stop-color="#380040"/><stop offset="0.1426" stop-color="#540060"/><stop offset="0.1445" stop-color="#670075"/><stop offset="0.1482" stop-color="#79008a"/><stop offset="0.1651" stop-color="#870098"/><stop offset="0.1689" stop-color="#83009a"/><stop offset="0.1707" stop-color="#63009e"/><stop offset="0.1745" stop-color="#0d00a8"/><stop offset="0.1764" stop-color="#0000b5"/><stop offset="0.1820" stop-color="#0000d5"/><stop offset="0.1857" stop-color="#0000dd"/><stop offset="0.1895" stop-color="#0013dd"/><stop offset="0.1932" stop-color="#005ddd"/><stop offset="0.1951" stop-color="#007add"/><stop offset="0.1989" stop-color="#0095dd"/><stop offset="0.2026" stop-color="#009fcb"/><stop offset="0.2345" stop-color="#00a3bf"/><stop offset="0.2495" stop-color="#00a8af"/><stop offset="0.2608" stop-color="#00a6b7"/><stop offset="0.2739" stop-color="#00a3bf"/><stop offset="0.3734" stop-color="#00a4bb"/><stop offset="0.4503" stop-color="#00aaa0"/><stop offset="0.5553" stop-color="#00aa8d"/><stop offset="0.5816" stop-color="#00aaab"/><stop offset="0.6041" stop-color="#009adb"/><stop offset="0.6323" stop-color="#0082dd"/><stop offset="0.6398" stop-color="#0070dd"/><stop offset="0.6417" stop-color="#005ddd"/><stop offset="0.6473" stop-color="#0041dd"/><stop offset="0.6510" stop-color="#0025dd"/><stop offset="0.6548" stop-color="#001cdd"/><stop offset="0.6585" stop-color="#0009dd"/><stop offset="0.6642" stop-color="#0009dd"/><stop offset="0.6679" stop-color="#0000dd"/><stop offset="0.6904" stop-color="#0000d1"/><stop offset="0.7111" stop-color="#0300aa"/><stop offset="0.7167" stop-color="#2300a6"/><stop offset="0.7186" stop-color="#2300a6"/><stop offset="0.7223" stop-color="#3800a3"/><stop offset="0.7242" stop-color="#3800a3"/><stop offset="0.7261" stop-color="#4300a2"/><stop offset="0.7317" stop-color="#4300a2"/><stop offset="0.7355" stop-color="#4d00a0"/><stop offset="0.7411" stop-color="#4d00a0"/><stop offset="0.7430" stop-color="#00aaa0"/><stop offset="0.7486" stop-color="#00aaa0"/><stop offset="0.7505" stop-color="#0000d1"/><stop offset="0.7542" stop-color="#0000d1"/><stop offset="0.7561" stop-color="#0080dd"/><stop offset="0.7617" stop-color="#0080dd"/><stop offset="0.7636" stop-color="#0000dd"/><stop offset="0.7674" stop-color="#0000dd"/><stop offset="0.7692" stop-color="#0085dd"/><stop offset="0.7805" stop-color="#0085dd"/><stop offset="0.7824" stop-color="#00aa88"/><stop offset="0.7842" stop-color="#00aa88"/><stop offset="0.7861" stop-color="#007ddd"/><stop offset="0.7880" stop-color="#0000dd"/><stop offset="0.7955" stop-color="#0000dd"/><stop offset="0.7974" stop-color="#00aa98"/><stop offset="0.8030" stop-color="#00aa98"/><stop offset="0.8049" stop-color="#0000cd"/><stop offset="0.8180" stop-color="#0000cd"/><stop offset="0.8199" stop-color="#0038dd"/><stop offset="0.8236" stop-color="#0038dd"/><stop offset="0.8255" stop-color="#830094"/><stop offset="0.8349" stop-color="#7d008e"/><stop offset="0.8780" stop-color="#770088"/><stop offset="0.8818" stop-color="#700080"/><stop offset="0.8837" stop-color="#700080"/><stop offset="0.8856" stop-color="#670075"/><stop offset="0.8893" stop-color="#670075"/><stop offset="0.8931" stop-color="#5d006b"/><stop offset="0.8949" stop-color="#5d006b"/><stop offset="0.8968" stop-color="#540060"/><stop offset="0.9006" stop-color="#540060"/><stop offset="0.9024" stop-color="#4b0055"/><stop offset="0.9099" stop-color="#41004b"/><stop offset="0.9118" stop-color="#380040"/><stop offset="0.9156" stop-color="#380040"/><stop offset="0.9174" stop-color="#2f0035"/><stop offset="0.9250" stop-color="#25002b"/><stop offset="0.9268" stop-color="#1c0020"/><stop offset="0.9306" stop-color="#1c0020"/><stop offset="0.9325" stop-color="#130015"/><stop offset="0.9362" stop-color="#130015"/><stop offset="0.9400" stop-color="#09000b"/><stop offset="0.9418" stop-color="#09000b"/><stop offset="0.9437" stop-color="#000000"/><stop offset="1.0000" stop-color="#000000"/></linearGradient><linearGradient id="l13"><stop offset="0.0000" stop-color="#2f0035"/><stop offset="0.1332" stop-color="#2f0035"/><stop offset="0.1351" stop-color="#380040"/><stop offset="0.1370" stop-color="#380040"/><stop offset="0.1426" stop-color="#540060"/><stop offset="0.1445" stop-color="#670075"/><stop offset="0.1482" stop-color="#79008a"/><stop offset="0.1651" stop-color="#870098"/><stop offset="0.1689" stop-color="#83009a"/><stop offset="0.1707" stop-color="#63009e"/><stop offset="0.1745" stop-color="#0d00a8"/><stop offset="0.1764" stop-color="#0000b5"/><stop offset="0.1820" stop-color="#0000d5"/><stop offset="0.1857" stop-color="#0000dd"/><stop offset="0.1895" stop-color="#0013dd"/><stop offset="0.1932" stop-color="#005ddd"/><stop offset="0.1970" stop-color="#008ddd"/><stop offset="0.1989" stop-color="#009cd3"/><stop offset="0.2008" stop-color="#00a6b7"/><stop offset="0.2045" stop-color="#00a8af"/><stop offset="0.2383" stop-color="#00aaa3"/><stop offset="0.2570" stop-color="#00aa9d"/><stop offset="0.2777" stop-color="#00aaa8"/><stop offset="0.3996" stop-color="#00aaa0"/><stop offset="0.5366" stop-color="#00aa88"/><stop offset="0.5385" stop-color="#00a97d"/><stop offset="0.5553" stop-color="#00a97d"/><stop offset="0.5572" stop-color="#00aa88"/><stop offset="0.5722" stop-color="#00aa98"/><stop offset="0.5872" stop-color="#00a6b7"/><stop offset="0.6041" stop-color="#009adb"/><stop offset="0.6323" stop-color="#0082dd"/><stop offset="0.6398" stop-color="#0070dd"/><stop offset="0.6417" stop-color="#005ddd"/><stop offset="0.6473" stop-color="#0041dd"/><stop offset="0.6510" stop-color="#0025dd"/><stop offset="0.6548" stop-color="#001cdd"/><stop offset="0.6585" stop-color="#0009dd"/><stop offset="0.6642" stop-color="#0009dd"/><stop offset="0.6679" stop-color="#0000dd"/><stop offset="0.6904" stop-color="#0000d1"/><stop offset="0.7111" stop-color="#0300aa"/><stop offset="0.7167" stop-color="#2300a6"/><stop offset="0.7186" stop-color="#2300a6"/><stop offset="0.7223" stop-color="#3800a3"/><stop offset="0.7242" stop-color="#3800a3"/><stop offset="0.7261" stop-color="#4300a2"/><stop offset="0.7317" stop-color="#4300a2"/><stop offset="0.7355" stop-color="#4d00a0"/><stop offset="0.7411" stop-color="#4d00a0"/><stop offset="0.7430" stop-color="#00aaa0"/><stop offset="0.7486" stop-color="#00aaa0"/><stop offset="0.7505" stop-color="#0000d1"/><stop offset="0.7542" stop-color="#0000d1"/><stop offset="0.7561" stop-color="#0080dd"/><stop offset="0.7617" stop-color="#0080dd"/><stop offset="0.7636" stop-color="#0000dd"/><stop offset="0.7674" stop-color="#0000dd"/><stop offset="0.7692" stop-color="#0085dd"/><stop offset="0.7805" stop-color="#0085dd"/><stop offset="0.7824" stop-color="#00aa88"/><stop offset="0.7842" stop-color="#00aa88"/><stop offset="0.7861" stop-color="#007ddd"/><stop offset="0.7880" stop-color="#0000dd"/><stop offset="0.7955" stop-color="#0000dd"/><stop offset="0.7974" stop-color="#00aa98"/><stop offset="0.8030" stop-color="#00aa98"/><stop offset="0.8049" stop-color="#0000cd"/><stop offset="0.8180" stop-color="#0000cd"/><stop offset="0.8199" stop-color="#0038dd"/><stop offset="0.8236" stop-color="#0038dd"/><stop offset="0.8255" stop-color="#830094"/><stop offset="0.8349" stop-color="#7d008e"/><stop offset="0.8780" stop-color="#770088"/><stop offset="0.8818" stop-color="#700080"/><stop offset="0.8837" stop-color="#700080"/><stop offset="0.8856" stop-color="#670075"/><stop offset="0.8893" stop-color="#670075"/><stop offset="0.8931" stop-color="#5d006b"/><stop offset="0.8949" stop-color="#5d006b"/><stop offset="0.8968" stop-color="#540060"/><stop offset="0.9006" stop-color="#540060"/><stop offset="0.9024" stop-color="#4b0055"/><stop offset="0.9099" stop-color="#41004b"/><stop offset="0.9118" stop-color="#380040"/><stop offset="0.9156" stop-color="#380040"/><stop offset="0.9174" stop-color="#2f0035"/><stop offset="0.9250" stop-color="#25002b"/><stop offset="0.9268" stop-color="#1c0020"/><stop offset="0.9306" stop-color="#1c0020"/><stop offset="0.9325" stop-color="#130015"/><stop offset="0.9362" stop-color="#130015"/><stop offset="0.9400" stop-color="#09000b"/><stop offset="0.9418" stop-color="#09000b"/><stop offset="0.9437" stop-color="#000000"/><stop offset="1.0000" stop-color="#000000"/></linearGradient><linearGradient id="l14"><stop offset="0.0000" stop-color="#2f0035"/><stop offset="0.1332" stop-color="#2f0035"/><stop offset="0.1351" stop-color="#380040"/><stop offset="0.1370" stop-color="#380040"/><stop offset="0.1426" stop-color="#540060"/><stop offset="0.1445" stop-color="#670075"/><stop offset="0.1482" stop-color="#79008a"/><stop offset="0.1651" stop-color="#870098"/><stop offset="0.1689" stop-color="#83009a"/><stop offset="0.1707" stop-color="#63009e"/><stop offset="0.1745" stop-color="#0d00a8"/><stop offset="0.1764" stop-color="#0000b5"/><stop offset="0.1820" stop-color="#0000d5"/><stop offset="0.1857" stop-color="#0000dd"/><stop offset="0.1895" stop-color="#0013dd"/><stop offset="0.1932" stop-color="#005ddd"/><stop offset="0.1951" stop-color="#007add"/><stop offset="0.2026" stop-color="#0092dd"/><stop offset="0.2364" stop-color="#009adb"/><stop offset="0.2477" stop-color="#009ecf"/><stop offset="0.2627" stop-color="#009bd7"/><stop offset="0.2852" stop-color="#0098dd"/><stop offset="0.3752" stop-color="#009bd7"/><stop offset="0.4540" stop-color="#00aaa8"/><stop offset="0.5553" stop-color="#00aa93"/><stop offset="0.5835" stop-color="#00a8af"/><stop offset="0.6041" stop-color="#009adb"/><stop offset="0.6323" stop-color="#0082dd"/><stop offset="0.6398" stop-color="#0070dd"/><stop offset="0.6417" stop-color="#005ddd"/><stop offset="0.6473" stop-color="#0041dd"/><stop offset="0.6510" stop-color="#0025dd"/><stop offset="0.6548" stop-color="#001cdd"/><stop offset="0.6585" stop-color="#0009dd"/><stop offset="0.6642" stop-color="#0009dd"/><stop offset="0.6679" stop-color="#0000dd"/><stop offset="0.6904" stop-color="#0000d1"/><stop offset="0.7111" stop-color="#0300aa"/><stop offset="0.7167" stop-color="#2300a6"/><stop offset="0.7186" stop-color="#2300a6"/><stop offset="0.7223" stop-color="#3800a3"/><stop offset="0.7242" stop-color="#3800a3"/><stop offset="0.7261" stop-color="#4300a2"/><stop offset="0.7317" stop-color="#4300a2"/><stop offset="0.7355" stop-color="#4d00a0"/><stop offset="0.7411" stop-color="#4d00a0"/><stop offset="0.7430" stop-color="#00aaa0"/><stop offset="0.7486" stop-color="#00aaa0"/><stop offset="0.7505" stop-color="#0000d1"/><stop offset="0.7542" stop-color="#0000d1"/><stop offset="0.7561" stop-color="#0080dd"/><stop offset="0.7617" stop-color="#0080dd"/><stop offset="0.7636" stop-color="#0000dd"/><stop offset="0.7674" stop-color="#0000dd"/><stop offset="0.7692" stop-color="#0085dd"/><stop offset="0.7805" stop-color="#0085dd"/><stop offset="0.7824" stop-color="#00aa88"/><stop offset="0.7842" stop-color="#00aa88"/><stop offset="0.7861" stop-color="#007ddd"/><stop offset="0.7880" stop-color="#0000dd"/><stop offset="0.7955" stop-color="#0000dd"/><stop offset="0.7974" stop-color="#00aa98"/><stop offset="0.8030" stop-color="#00aa98"/><stop offset="0.8049" stop-color="#0000cd"/><stop offset="0.8180" stop-color="#0000cd"/><stop offset="0.8199" stop-color="#0038dd"/><stop offset="0.8236" stop-color="#0038dd"/><stop offset="0.8255" stop-color="#830094"/><stop offset="0.8349" stop-color="#7d008e"/><stop offset="0.8780" stop-color="#770088"/><stop offset="0.8818" stop-color="#700080"/><stop offset="0.8837" stop-color="#700080"/><stop offset="0.8856" stop-color="#670075"/><stop offset="0.8893" stop-color="#670075"/><stop offset="0.8931" stop-color="#5d006b"/><stop offset="0.8949" stop-color="#5d006b"/><stop offset="0.8968" stop-color="#540060"/><stop offset="0.9006" stop-color="#540060"/><stop offset="0.9024" stop-color="#4b0055"/><stop offset="0.9099" stop-color="#41004b"/><stop offset="0.9118" stop-color="#380040"/><stop offset="0.9156" stop-color="#380040"/><stop offset="0.9174" stop-color="#2f0035"/><stop offset="0.9250" stop-color="#25002b"/><stop offset="0.9268" stop-color="#1c0020"/><stop offset="0.9306" stop-color="#1c0020"/><stop offset="0.9325" stop-color="#130015"/><stop offset="0.9362" stop-color="#130015"/><stop offset="0.9400" stop-color="#09000b"/><stop offset="0.9418" stop-color="#09000b"/><stop offset="0.9437" stop-color="#000000"/><stop offset="1.0000" stop-color="#000000"/></linearGradient><linearGradient id="l15"><stop offset="0.0000" stop-color="#2f0035"/><stop offset="0.1388" stop-color="#2f0035"/><stop offset="0.1426" stop-color="#7a008b"/><stop offset="0.1463" stop-color="#83009a"/><stop offset="0.1501" stop-color="#0300aa"/><stop offset="0.1538" stop-color="#0000d5"/><stop offset="0.1557" stop-color="#002fdd"/><stop offset="0.1576" stop-color="#0078dd"/><stop offset="0.1614" stop-color="#009bd7"/><stop offset="0.1651" stop-color="#00aaa0"/><stop offset="0.1801" stop-color="#00aa90"/><stop offset="0.2308" stop-color="#00aa88"/><stop offset="0.2326" stop-color="#00a668"/><stop offset="0.2364" stop-color="#00a13d"/><stop offset="0.2383" stop-color="#009d1d"/><stop offset="0.2420" stop-color="#009d1d"/><stop offset="0.2458" stop-color="#009b13"/><stop offset="0.2514" stop-color="#009b13"/><stop offset="0.2533" stop-color="#009a08"/><stop offset="0.2627" stop-color="#009a08"/><stop offset="0.2645" stop-color="#009a00"/><stop offset="0.2664" stop-color="#009e28"/><stop offset="0.2702" stop-color="#00aa8b"/><stop offset="0.3039" stop-color="#00a4bb"/><stop offset="0.3152" stop-color="#009fcb"/><stop offset="0.3490" stop-color="#0098dd"/><stop offset="0.3996" stop-color="#009bd7"/><stop offset="0.4034" stop-color="#009cd3"/><stop offset="0.4053" stop-color="#00a4bb"/><stop offset="0.4071" stop-color="#009d1d"/><stop offset="0.4090" stop-color="#009d1d"/><stop offset="0.4109" stop-color="#00a4bb"/><stop offset="0.4128" stop-color="#00a0c7"/><stop offset="0.4859" stop-color="#00a8af"/><stop offset="0.5366" stop-color="#00aa95"/><stop offset="0.5385" stop-color="#00aa8b"/><stop offset="0.5422" stop-color="#009b13"/><stop offset="0.5441" stop-color="#009a00"/><stop offset="0.5535" stop-color="#009f00"/><stop offset="0.5553" stop-color="#009f33"/><stop offset="0.5572" stop-color="#00aa8d"/><stop offset="0.5666" stop-color="#00a4bb"/><stop offset="0.5816" stop-color="#009adb"/><stop offset="0.6060" stop-color="#007add"/><stop offset="0.6098" stop-color="#0067dd"/><stop offset="0.6173" stop-color="#0025dd"/><stop offset="0.6210" stop-color="#0013dd"/><stop offset="0.6248" stop-color="#0013dd"/><stop offset="0.6285" stop-color="#0009dd"/><stop offset="0.6323" stop-color="#0009dd"/><stop offset="0.6360" stop-color="#0000dd"/><stop offset="0.6585" stop-color="#0000cd"/><stop offset="0.6848" stop-color="#0300aa"/><stop offset="0.6886" stop-color="#1800a7"/><stop offset="0.6904" stop-color="#1800a7"/><stop offset="0.6998" stop-color="#4d00a0"/><stop offset="0.7017" stop-color="#4d00a0"/><stop offset="0.7036" stop-color="#58009f"/><stop offset="0.7073" stop-color="#58009f"/><stop offset="0.7092" stop-color="#63009e"/><stop offset="0.7148" stop-color="#63009e"/><stop offset="0.7167" stop-color="#6d009c"/><stop offset="0.7205" stop-color="#6d009c"/><stop offset="0.7223" stop-color="#78009b"/><stop offset="0.7280" stop-color="#78009b"/><stop offset="0.7298" stop-color="#83009a"/><stop offset="0.7392" stop-color="#870098"/><stop offset="0.7411" stop-color="#4d00a0"/><stop offset="0.7430" stop-color="#00aaa0"/><stop offset="0.7486" stop-color="#00aaa0"/><stop offset="0.7505" stop-color="#0000d1"/><stop offset="0.7542" stop-color="#0000d1"/><stop offset="0.7561" stop-color="#0080dd"/><stop offset="0.7617" stop-color="#0080dd"/><stop offset="0.7636" stop-color="#0000dd"/><stop offset="0.7674" stop-color="#0000dd"/><stop offset="0.7692" stop-color="#0085dd"/><stop offset="0.7805" stop-color="#0085dd"/><stop offset="0.7824" stop-color="#00aa88"/><stop offset="0.7842" stop-color="#00aa88"/><stop offset="0.7861" stop-color="#007ddd"/><stop offset="0.7880" stop-color="#0000dd"/><stop offset="0.7955" stop-color="#0000dd"/><stop offset="0.7974" stop-color="#00aa98"/><stop offset="0.8030" stop-color="#00aa98"/><stop offset="0.8049" stop-color="#0000cd"/><stop offset="0.8180" stop-color="#0000cd"/><stop offset="0.8199" stop-color="#0038dd"/><stop offset="0.8236" stop-color="#0038dd"/><stop offset="0.8255" stop-color="#830094"/><stop offset="0.8349" stop-color="#7d008e"/><stop offset="0.8780" stop-color="#770088"/><stop offset="0.8818" stop-color="#700080"/><stop offset="0.8837" stop-color="#700080"/><stop offset="0.8856" stop-color="#670075"/><stop offset="0.8893" stop-color="#670075"/><stop offset="0.8931" stop-color="#5d006b"/><stop offset="0.8949" stop-color="#5d006b"/><stop offset="0.8968" stop-color="#540060"/><stop offset="0.9006" stop-color="#540060"/><stop offset="0.9024" stop-color="#4b0055"/><stop offset="0.9099" stop-color="#41004b"/><stop offset="0.9118" stop-color="#380040"/><stop offset="0.9156" stop-color="#380040"/><stop offset="0.9174" stop-color="#2f0035"/><stop offset="0.9250" stop-color="#25002b"/><stop offset="0.9268" stop-color="#1c0020"/><stop offset="0.9306" stop-color="#1c0020"/><stop offset="0.9325" stop-color="#130015"/><stop offset="0.9362" stop-color="#130015"/><stop offset="0.9400" stop-color="#09000b"/><stop offset="0.9418" stop-color="#09000b"/><stop offset="0.9437" stop-color="#000000"/><stop offset="1.0000" stop-color="#000000"/></linearGradient><linearGradient id="l16"><stop offset="0.0000" stop-color="#2f0035"/><stop offset="0.1332" stop-color="#2f0035"/><stop offset="0.1351" stop-color="#380040"/><stop offset="0.1370" stop-color="#380040"/><stop offset="0.1426" stop-color="#540060"/><stop offset="0.1445" stop-color="#670075"/><stop offset="0.1482" stop-color="#79008a"/><stop offset="0.1651" stop-color="#870098"/><stop offset="0.1689" stop-color="#83009a"/><stop offset="0.1707" stop-color="#63009e"/><stop offset="0.1745" stop-color="#0d00a8"/><stop offset="0.1764" stop-color="#0000b5"/><stop offset="0.1820" stop-color="#0000d5"/><stop offset="0.1857" stop-color="#0000dd"/><stop offset="0.1895" stop-color="#0013dd"/><stop offset="0.1932" stop-color="#005ddd"/><stop offset="0.1951" stop-color="#007add"/><stop offset="0.2026" stop-color="#0092dd"/><stop offset="0.2364" stop-color="#009adb"/><stop offset="0.2477" stop-color="#009ecf"/><stop offset="0.2627" stop-color="#009bd7"/><stop offset="0.2852" stop-color="#0098dd"/><stop offset="0.3752" stop-color="#009bd7"/><stop offset="0.4615" stop-color="#00aaa8"/><stop offset="0.5572" stop-color="#00aa98"/><stop offset="0.5835" stop-color="#00a8af"/><stop offset="0.6041" stop-color="#009adb"/><stop offset="0.6323" stop-color="#0082dd"/><stop offset="0.6398" stop-color="#0070dd"/><stop offset="0.6417" stop-color="#005ddd"/><stop offset="0.6473" stop-color="#0041dd"/><stop offset="0.6510" stop-color="#0025dd"/><stop offset="0.6548" stop-color="#001cdd"/><stop offset="0.6585" stop-color="#0009dd"/><stop offset="0.6642" stop-color="#0009dd"/><stop offset="0.6679" stop-color="#0000dd"/><stop offset="0.6904" stop-color="#0000d1"/><stop offset="0.7111" stop-color="#0300aa"/><stop offset="0.7167" stop-color="#2300a6"/><stop offset="0.7186" stop-color="#2300a6"/><stop offset="0.7223" stop-color="#3800a3"/><stop offset="0.7242" stop-color="#3800a3"/><stop offset="0.7261" stop-color="#4300a2"/><stop offset="0.7317" stop-color="#4300a2"/><stop offset="0.7355" stop-color="#4d00a0"/><stop offset="0.7411" stop-color="#4d00a0"/><stop offset="0.7430" stop-color="#00aaa0"/><stop offset="0.7486" stop-color="#00aaa0"/><stop offset="0.7505" stop-color="#0000d1"/><stop offset="0.7542" stop-color="#0000d1"/><stop offset="0.7561" stop-color="#0080dd"/><stop offset="0.7617" stop-color="#0080dd"/><stop offset="0.7636" stop-color="#0000dd"/><stop offset="0.7674" stop-color="#0000dd"/><stop offset="0.7692" stop-color="#0085dd"/><stop offset="0.7805" stop-color="#0085dd"/><stop offset="0.7824" stop-color="#00aa88"/><stop offset="0.7842" stop-color="#00aa88"/><stop offset="0.7861" stop-color="#007ddd"/><stop offset="0.7880" stop-color="#0000dd"/><stop offset="0.7955" stop-color="#0000dd"/><stop offset="0.7974" stop-color="#00aa98"/><stop offset="0.8030" stop-color="#00aa98"/><stop offset="0.8049" stop-color="#0000cd"/><stop offset="0.8180" stop-color="#0000cd"/><stop offset="0.8199" stop-color="#0038dd"/><stop offset="0.8236" stop-color="#0038dd"/><stop offset="0.8255" stop-color="#830094"/><stop offset="0.8349" stop-color="#7d008e"/><stop offset="0.8780" stop-color="#770088"/><stop offset="0.8818" stop-color="#700080"/><stop offset="0.8837" stop-color="#700080"/><stop offset="0.8856" stop-color="#670075"/><stop offset="0.8893" stop-color="#670075"/><stop offset="0.8931" stop-color="#5d006b"/><stop offset="0.8949" stop-color="#5d006b"/><stop offset="0.8968" stop-color="#540060"/><stop offset="0.9006" stop-color="#540060"/><stop offset="0.9024" stop-color="#4b0055"/><stop offset="0.9099" stop-color="#41004b"/><stop offset="0.9118" stop-color="#380040"/><stop offset="0.9156" stop-color="#380040"/><stop offset="0.9174" stop-color="#2f0035"/><stop offset="0.9250" stop-color="#25002b"/><stop offset="0.9268" stop-color="#1c0020"/><stop offset="0.9306" stop-color="#1c0020"/><stop offset="0.9325" stop-color="#130015"/><stop offset="0.9362" stop-color="#130015"/><stop offset="0.9400" stop-color="#09000b"/><stop offset="0.9418" stop-color="#09000b"/><stop offset="0.9437" stop-color="#000000"/><stop offset="1.0000" stop-color="#000000"/></linearGradient><linearGradient id="l17"><stop offset="0.0000" stop-color="#2f0035"/><stop offset="0.1332" stop-color="#2f0035"/><stop offset="0.1351" stop-color="#380040"/><stop offset="0.1370" stop-color="#380040"/><stop offset="0.1426" stop-color="#540060"/><stop offset="0.1445" stop-color="#670075"/><stop offset="0.1482" stop-color="#79008a"/><stop offset="0.1651" stop-color="#870098"/><stop offset="0.1689" stop-color="#83009a"/><stop offset="0.1707" stop-color="#63009e"/><stop offset="0.1745" stop-color="#0d00a8"/><stop offset="0.1764" stop-color="#0000b5"/><stop offset="0.1820" stop-color="#0000d5"/><stop offset="0.1857" stop-color="#0000dd"/><stop offset="0.1895" stop-color="#0013dd"/><stop offset="0.1932" stop-color="#005ddd"/><stop offset="0.1970" stop-color="#0092dd"/><stop offset="0.2008" stop-color="#00aaa0"/><stop offset="0.2045" stop-color="#00aa98"/><stop offset="0.2364" stop-color="#00aa90"/><stop offset="0.2552" stop-color="#00aa88"/><stop offset="0.2758" stop-color="#00aa93"/><stop offset="0.5197" stop-color="#00aa90"/><stop offset="0.5572" stop-color="#00aa8b"/><stop offset="0.5760" stop-color="#00aaa0"/><stop offset="0.6041" stop-color="#009adb"/><stop offset="0.6323" stop-color="#0082dd"/><stop offset="0.6398" stop-color="#0070dd"/><stop offset="0.6417" stop-color="#005ddd"/><stop offset="0.6473" stop-color="#0041dd"/><stop offset="0.6510" stop-color="#0025dd"/><stop offset="0.6548" stop-color="#001cdd"/><stop offset="0.6585" stop-color="#0009dd"/><stop offset="0.6642" stop-color="#0009dd"/><stop offset="0.6679" stop-color="#0000dd"/><stop offset="0.6904" stop-color="#0000d1"/><stop offset="0.7111" stop-color="#0300aa"/><stop offset="0.7167" stop-color="#2300a6"/><stop offset="0.7186" stop-color="#2300a6"/><stop offset="0.7223" stop-color="#3800a3"/><stop offset="0.7242" stop-color="#3800a3"/><stop offset="0.7261" stop-color="#4300a2"/><stop offset="0.7317" stop-color="#4300a2"/><stop offset="0.7355" stop-color="#4d00a0"/><stop offset="0.7411" stop-color="#4d00a0"/><stop offset="0.7430" stop-color="#00aaa0"/><stop offset="0.7486" stop-color="#00aaa0"/><stop offset="0.7505" stop-color="#0000d1"/><stop offset="0.7542" stop-color="#0000d1"/><stop offset="0.7561" stop-color="#0080dd"/><stop offset="0.7617" stop-color="#0080dd"/><stop offset="0.7636" stop-color="#0000dd"/><stop offset="0.7674" stop-color="#0000dd"/><stop offset="0.7692" stop-color="#0085dd"/><stop offset="0.7805" stop-color="#0085dd"/><stop offset="0.7824" stop-color="#00aa88"/><stop offset="0.7842" stop-color="#00aa88"/><stop offset="0.7861" stop-color="#007ddd"/><stop offset="0.7880" stop-color="#0000dd"/><stop offset="0.7955" stop-color="#0000dd"/><stop offset="0.7974" stop-color="#00aa98"/><stop offset="0.8030" stop-color="#00aa98"/><stop offset="0.8049" stop-color="#0000cd"/><stop offset="0.8180" stop-color="#0000cd"/><stop offset="0.8199" stop-color="#0038dd"/><stop offset="0.8236" stop-color="#0038dd"/><stop offset="0.8255" stop-color="#830094"/><stop offset="0.8349" stop-color="#7d008e"/><stop offset="0.8780" stop-color="#770088"/><stop offset="0.8818" stop-color="#700080"/><stop offset="0.8837" stop-color="#700080"/><stop offset="0.8856" stop-color="#670075"/><stop offset="0.8893" stop-color="#670075"/><stop offset="0.8931" stop-color="#5d006b"/><stop offset="0.8949" stop-color="#5d006b"/><stop offset="0.8968" stop-color="#540060"/><stop offset="0.9006" stop-color="#540060"/><stop offset="0.9024" stop-color="#4b0055"/><stop offset="0.9099" stop-color="#41004b"/><stop offset="0.9118" stop-color="#380040"/><stop offset="0.9156" stop-color="#380040"/><stop offset="0.9174" stop-color="#2f0035"/><stop offset="0.9250" stop-color="#25002b"/><stop offset="0.9268" stop-color="#1c0020"/><stop offset="0.9306" stop-color="#1c0020"/><stop offset="0.9325" stop-color="#130015"/><stop offset="0.9362" stop-color="#130015"/><stop offset="0.9400" stop-color="#09000b"/><stop offset="0.9418" stop-color="#09000b"/><stop offset="0.9437" stop-color="#000000"/><stop offset="1.0000" stop-color="#000000"/></linearGradient><linearGradient id="l18"><stop offset="0.0000" stop-color="#2f0035"/><stop offset="0.1332" stop-color="#2f0035"/><stop offset="0.1351" stop-color="#380040"/><stop offset="0.1370" stop-color="#380040"/><stop offset="0.1426" stop-color="#540060"/><stop offset="0.1445" stop-color="#670075"/><stop offset="0.1482" stop-color="#79008a"/><stop offset="0.1651" stop-color="#870098"/><stop offset="0.1689" stop-color="#83009a"/><stop offset="0.1707" stop-color="#63009e"/><stop offset="0.1745" stop-color="#0d00a8"/><stop offset="0.1764" stop-color="#0000b5"/><stop offset="0.1820" stop-color="#0000d5"/><stop offset="0.1857" stop-color="#0000dd"/><stop offset="0.1895" stop-color="#0013dd"/><stop offset="0.1932" stop-color="#005ddd"/><stop offset="0.1951" stop-color="#007add"/><stop offset="0.2026" stop-color="#0090dd"/><stop offset="0.2364" stop-color="#0098dd"/><stop offset="0.2533" stop-color="#009cd3"/><stop offset="0.2720" stop-color="#0095dd"/><stop offset="0.3771" stop-color="#009adb"/><stop offset="0.4184" stop-color="#00a2c3"/><stop offset="0.4203" stop-color="#00aaa3"/><stop offset="0.4221" stop-color="#00aaa3"/><stop offset="0.4240" stop-color="#00a3bf"/><stop offset="0.4803" stop-color="#00aaa8"/><stop offset="0.5347" stop-color="#00aaa0"/><stop offset="0.5460" stop-color="#00aaa0"/><stop offset="0.5553" stop-color="#00aaa0"/><stop offset="0.5797" stop-color="#009adb"/><stop offset="0.6098" stop-color="#0082dd"/><stop offset="0.6173" stop-color="#0070dd"/><stop offset="0.6210" stop-color="#0054dd"/><stop offset="0.6248" stop-color="#0041dd"/><stop offset="0.6285" stop-color="#0025dd"/><stop offset="0.6323" stop-color="#001cdd"/><stop offset="0.6360" stop-color="#0009dd"/><stop offset="0.6417" stop-color="#0009dd"/><stop offset="0.6454" stop-color="#0000dd"/><stop offset="0.6679" stop-color="#0000d1"/><stop offset="0.6886" stop-color="#0300aa"/><stop offset="0.6942" stop-color="#2300a6"/><stop offset="0.6979" stop-color="#2d00a4"/><stop offset="0.6998" stop-color="#3800a3"/><stop offset="0.7017" stop-color="#3800a3"/><stop offset="0.7036" stop-color="#4300a2"/><stop offset="0.7205" stop-color="#4300a2"/><stop offset="0.7242" stop-color="#4d00a0"/><stop offset="0.7411" stop-color="#4d00a0"/><stop offset="0.7430" stop-color="#00aaa0"/><stop offset="0.7486" stop-color="#00aaa0"/><stop offset="0.7505" stop-color="#0000d1"/><stop offset="0.7542" stop-color="#0000d1"/><stop offset="0.7561" stop-color="#0080dd"/><stop offset="0.7617" stop-color="#0080dd"/><stop offset="0.7636" stop-color="#0000dd"/><stop offset="0.7674" stop-color="#0000dd"/><stop offset="0.7692" stop-color="#0085dd"/><stop offset="0.7805" stop-color="#0085dd"/><stop offset="0.7824" stop-color="#00aa88"/><stop offset="0.7842" stop-color="#00aa88"/><stop offset="0.7861" stop-color="#007ddd"/><stop offset="0.7880" stop-color="#0000dd"/><stop offset="0.7955" stop-color="#0000dd"/><stop offset="0.7974" stop-color="#00aa98"/><stop offset="0.8030" stop-color="#00aa98"/><stop offset="0.8049" stop-color="#0000cd"/><stop offset="0.8180" stop-color="#0000cd"/><stop offset="0.8199" stop-color="#0038dd"/><stop offset="0.8236" stop-color="#0038dd"/><stop offset="0.8255" stop-color="#830094"/><stop offset="0.8349" stop-color="#7d008e"/><stop offset="0.8780" stop-color="#770088"/><stop offset="0.8818" stop-color="#700080"/><stop offset="0.8837" stop-color="#700080"/><stop offset="0.8856" stop-color="#670075"/><stop offset="0.8893" stop-color="#670075"/><stop offset="0.8931" stop-color="#5d006b"/><stop offset="0.8949" stop-color="#5d006b"/><stop offset="0.8968" stop-color="#540060"/><stop offset="0.9006" stop-color="#540060"/><stop offset="0.9024" stop-color="#4b0055"/><stop offset="0.9099" stop-color="#41004b"/><stop offset="0.9118" stop-color="#380040"/><stop offset="0.9156" stop-color="#380040"/><stop offset="0.9174" stop-color="#2f0035"/><stop offset="0.9250" stop-color="#25002b"/><stop offset="0.9268" stop-color="#1c0020"/><stop offset="0.9306" stop-color="#1c0020"/><stop offset="0.9325" stop-color="#130015"/><stop offset="0.9362" stop-color="#130015"/><stop offset="0.9400" stop-color="#09000b"/><stop offset="0.9418" stop-color="#09000b"/><stop offset="0.9437" stop-color="#000000"/><stop offset="1.0000" stop-color="#000000"/></linearGradient><linearGradient id="l19"><stop offset="0.0000" stop-color="#380040"/><stop offset="0.1445" stop-color="#380040"/><stop offset="0.1463" stop-color="#41004b"/><stop offset="0.8049" stop-color="#41004b"/><stop offset="0.8068" stop-color="#380040"/><stop offset="0.8218" stop-color="#380040"/><stop offset="0.8236" stop-color="#2f0035"/><stop offset="0.9043" stop-color="#2f0035"/><stop offset="0.9081" stop-color="#25002b"/><stop offset="0.9118" stop-color="#25002b"/><stop offset="0.9137" stop-color="#1c0020"/><stop offset="0.9193" stop-color="#1c0020"/><stop offset="0.9212" stop-color="#130015"/><stop offset="0.9268" stop-color="#130015"/><stop offset="0.9287" stop-color="#09000b"/><stop offset="0.9343" stop-color="#09000b"/><stop offset="0.9362" stop-color="#000000"/><stop offset="1.0000" stop-color="#000000"/></linearGradient><linearGradient id="l20"><stop offset="0.0000" stop-color="#2f0035"/><stop offset="0.1332" stop-color="#2f0035"/><stop offset="0.1370" stop-color="#670075"/><stop offset="0.1388" stop-color="#7a008b"/><stop offset="0.1445" stop-color="#860097"/><stop offset="0.1482" stop-color="#0000b5"/><stop offset="0.1520" stop-color="#0000cd"/><stop offset="0.1557" stop-color="#0000dd"/><stop offset="0.1576" stop-color="#0013dd"/><stop offset="0.1595" stop-color="#0067dd"/><stop offset="0.1614" stop-color="#0092dd"/><stop offset="0.1651" stop-color="#00aa9d"/><stop offset="0.1689" stop-color="#00a13d"/><stop offset="0.1707" stop-color="#009d1d"/><stop offset="0.1726" stop-color="#009a08"/><stop offset="0.1764" stop-color="#00a400"/><stop offset="0.1895" stop-color="#00c200"/><stop offset="0.2008" stop-color="#00f400"/><stop offset="0.2026" stop-color="#58ff00"/><stop offset="0.2045" stop-color="#c0fd00"/><stop offset="0.2308" stop-color="#efed00"/><stop offset="0.2420" stop-color="#ecef00"/><stop offset="0.2739" stop-color="#bcff00"/><stop offset="0.2758" stop-color="#b0ff00"/><stop offset="0.2777" stop-color="#b0ff00"/><stop offset="0.2795" stop-color="#a1ff00"/><stop offset="0.2814" stop-color="#a1ff00"/><stop offset="0.2852" stop-color="#84ff00"/><stop offset="0.2871" stop-color="#84ff00"/><stop offset="0.2908" stop-color="#67ff00"/><stop offset="0.2927" stop-color="#67ff00"/><stop offset="0.2964" stop-color="#49ff00"/><stop offset="0.2983" stop-color="#49ff00"/><stop offset="0.3021" stop-color="#2cff00"/><stop offset="0.3058" stop-color="#2cff00"/><stop offset="0.3077" stop-color="#1dff00"/><stop offset="0.3171" stop-color="#1dff00"/><stop offset="0.3189" stop-color="#0fff00"/><stop offset="0.3302" stop-color="#0fff00"/><stop offset="0.3321" stop-color="#00ff00"/><stop offset="0.5347" stop-color="#00e200"/><stop offset="0.5666" stop-color="#00cc00"/><stop offset="0.5779" stop-color="#00ba00"/><stop offset="0.5910" stop-color="#009a00"/><stop offset="0.5929" stop-color="#009a08"/><stop offset="0.5985" stop-color="#00a248"/><stop offset="0.6023" stop-color="#00a668"/><stop offset="0.6041" stop-color="#00a97d"/><stop offset="0.6098" stop-color="#00aa90"/><stop offset="0.6754" stop-color="#00a7b3"/><stop offset="0.6886" stop-color="#0098dd"/><stop offset="0.7205" stop-color="#007ddd"/><stop offset="0.7223" stop-color="#0078dd"/><stop offset="0.7298" stop-color="#0038dd"/><stop offset="0.7373" stop-color="#0000dd"/><stop offset="0.7430" stop-color="#0000d9"/><stop offset="0.7448" stop-color="#00a3bf"/><stop offset="0.7486" stop-color="#00a3bf"/><stop offset="0.7505" stop-color="#0000dd"/><stop offset="0.7580" stop-color="#0000dd"/><stop offset="0.7598" stop-color="#008add"/><stop offset="0.7655" stop-color="#008add"/><stop offset="0.7674" stop-color="#0000dd"/><stop offset="0.7805" stop-color="#0000dd"/><stop offset="0.7824" stop-color="#0098dd"/><stop offset="0.7861" stop-color="#0098dd"/><stop offset="0.7880" stop-color="#0000dd"/><stop offset="0.7955" stop-color="#0000dd"/><stop offset="0.7974" stop-color="#00a7b3"/><stop offset="0.8030" stop-color="#00a7b3"/><stop offset="0.8049" stop-color="#0000dd"/><stop offset="0.8180" stop-color="#0000dd"/><stop offset="0.8199" stop-color="#0085dd"/><stop offset="0.8218" stop-color="#0085dd"/><stop offset="0.8236" stop-color="#0000cd"/><stop offset="0.8443" stop-color="#0300aa"/><stop offset="0.8499" stop-color="#1800a7"/><stop offset="0.8518" stop-color="#1800a7"/><stop offset="0.8555" stop-color="#2d00a4"/><stop offset="0.8574" stop-color="#2d00a4"/><stop offset="0.8687" stop-color="#6d009c"/><stop offset="0.8705" stop-color="#6d009c"/><stop offset="0.8762" stop-color="#870098"/><stop offset="0.9081" stop-color="#770088"/><stop offset="0.9174" stop-color="#4b0055"/><stop offset="0.9212" stop-color="#41004b"/><stop offset="0.9268" stop-color="#25002b"/><stop offset="0.9287" stop-color="#25002b"/><stop offset="0.9325" stop-color="#130015"/><stop offset="0.9381" stop-color="#09000b"/><stop offset="0.9400" stop-color="#000000"/><stop offset="1.0000" stop-color="#000000"/></linearGradient><linearGradient id="r0"><stop offset="0.0000" stop-color="#2f0035"/><stop offset="0.0414" stop-color="#2f0035"/><stop offset="0.0451" stop-color="#25002b"/><stop offset="0.0470" stop-color="#25002b"/><stop offset="0.0489" stop-color="#1c0020"/><stop offset="0.1335" stop-color="#1c0020"/><stop offset="0.1410" stop-color="#41004b"/><stop offset="0.1466" stop-color="#79008a"/><stop offset="0.1579" stop-color="#870098"/><stop offset="0.1598" stop-color="#63009e"/><stop offset="0.1617" stop-color="#1800a7"/><stop offset="0.1635" stop-color="#0000b9"/><stop offset="0.1654" stop-color="#0000d5"/><stop offset="0.1692" stop-color="#0041dd"/><stop offset="0.1711" stop-color="#0070dd"/><stop offset="0.1748" stop-color="#0088dd"/><stop offset="0.1805" stop-color="#009bd7"/><stop offset="0.1917" stop-color="#00aa93"/><stop offset="0.1936" stop-color="#00aa88"/><stop offset="0.1955" stop-color="#00a55d"/><stop offset="0.1974" stop-color="#009d1d"/><stop offset="0.1992" stop-color="#00a200"/><stop offset="0.2030" stop-color="#00bf00"/><stop offset="0.2124" stop-color="#00dc00"/><stop offset="0.2613" stop-color="#00d700"/><stop offset="0.2914" stop-color="#00c200"/><stop offset="0.3102" stop-color="#00a200"/><stop offset="0.3139" stop-color="#009a08"/><stop offset="0.3233" stop-color="#00a13d"/><stop offset="0.3252" stop-color="#00a13d"/><stop offset="0.3327" stop-color="#00a668"/><stop offset="0.3346" stop-color="#00a668"/><stop offset="0.3365" stop-color="#00a773"/><stop offset="0.3421" stop-color="#00a97d"/><stop offset="0.3440" stop-color="#00aa88"/><stop offset="0.3797" stop-color="#00aa95"/><stop offset="0.5451" stop-color="#00aaab"/><stop offset="0.5752" stop-color="#00a2c3"/><stop offset="0.6071" stop-color="#0098dd"/><stop offset="0.6353" stop-color="#0088dd"/><stop offset="0.6504" stop-color="#0078dd"/><stop offset="0.6560" stop-color="#0067dd"/><stop offset="0.6598" stop-color="#0054dd"/><stop offset="0.6635" stop-color="#004bdd"/><stop offset="0.6692" stop-color="#0038dd"/><stop offset="0.6729" stop-color="#002fdd"/><stop offset="0.6786" stop-color="#001cdd"/><stop offset="0.6861" stop-color="#0013dd"/><stop offset="0.6898" stop-color="#0009dd"/><stop offset="0.6974" stop-color="#0000dd"/><stop offset="0.7237" stop-color="#0000c9"/><stop offset="0.7368" stop-color="#0300aa"/><stop offset="0.7387" stop-color="#0d00a8"/><stop offset="0.7406" stop-color="#2300a6"/><stop offset="0.7425" stop-color="#2300a6"/><stop offset="0.7444" stop-color="#0085dd"/><stop offset="0.7481" stop-color="#0085dd"/><stop offset="0.7500" stop-color="#0000d5"/><stop offset="0.7575" stop-color="#0000d5"/><stop offset="0.7594" stop-color="#0078dd"/><stop offset="0.7650" stop-color="#0078dd"/><stop offset="0.7669" stop-color="#0000dd"/><stop offset="0.7820" stop-color="#0000dd"/><stop offset="0.7838" stop-color="#0078dd"/><stop offset="0.7876" stop-color="#0078dd"/><stop offset="0.7895" stop-color="#0000dd"/><stop offset="0.7951" stop-color="#0000dd"/><stop offset="0.7970" stop-color="#007ddd"/><stop offset="0.7989" stop-color="#007ddd"/><stop offset="0.8008" stop-color="#0000dd"/><stop offset="0.8045" stop-color="#0000dd"/><stop offset="0.8064" stop-color="#0078dd"/><stop offset="0.8083" stop-color="#0078dd"/><stop offset="0.8102" stop-color="#0300aa"/><stop offset="0.8233" stop-color="#0300aa"/><stop offset="0.8252" stop-color="#2300a6"/><stop offset="0.8271" stop-color="#6d009c"/><stop offset="0.8327" stop-color="#870098"/><stop offset="0.8985" stop-color="#770088"/><stop offset="0.9060" stop-color="#670075"/><stop offset="0.9117" stop-color="#5d006b"/><stop offset="0.9135" stop-color="#540060"/><stop offset="0.9154" stop-color="#540060"/><stop offset="0.9173" stop-color="#4b0055"/><stop offset="0.9229" stop-color="#41004b"/><stop offset="0.9248" stop-color="#380040"/><stop offset="0.9267" stop-color="#380040"/><stop offset="0.9286" stop-color="#2f0035"/><stop offset="0.9342" stop-color="#25002b"/><stop offset="0.9361" stop-color="#1c0020"/><stop offset="0.9398" stop-color="#1c0020"/><stop offset="0.9417" stop-color="#130015"/><stop offset="0.9455" stop-color="#130015"/><stop offset="0.9474" stop-color="#09000b"/><stop offset="0.9530" stop-color="#09000b"/><stop offset="0.9549" stop-color="#000000"/><stop offset="1.0000" stop-color="#000000"/></linearGradient><linearGradient id="r2"><stop offset="0.0000" stop-color="#2f0035"/><stop offset="0.0865" stop-color="#2f0035"/><stop offset="0.0921" stop-color="#1c0020"/><stop offset="0.1353" stop-color="#1c0020"/><stop offset="0.1372" stop-color="#25002b"/><stop offset="0.1447" stop-color="#2f0035"/><stop offset="0.8515" stop-color="#2f0035"/><stop offset="0.8553" stop-color="#25002b"/><stop offset="0.8929" stop-color="#25002b"/><stop offset="0.8947" stop-color="#1c0020"/><stop offset="0.9135" stop-color="#1c0020"/><stop offset="0.9154" stop-color="#130015"/><stop offset="0.9286" stop-color="#130015"/><stop offset="0.9323" stop-color="#09000b"/><stop offset="0.9417" stop-color="#09000b"/><stop offset="0.9436" stop-color="#000000"/><stop offset="1.0000" stop-color="#000000"/></linearGradient><linearGradient id="r3"><stop offset="0.0000" stop-color="#25002b"/><stop offset="0.0752" stop-color="#25002b"/><stop offset="0.0771" stop-color="#1c0020"/><stop offset="0.1372" stop-color="#1c0020"/><stop offset="0.1391" stop-color="#25002b"/><stop offset="0.1429" stop-color="#2f0035"/><stop offset="0.1447" stop-color="#380040"/><stop offset="0.1466" stop-color="#380040"/><stop offset="0.1523" stop-color="#540060"/><stop offset="0.1541" stop-color="#540060"/><stop offset="0.1617" stop-color="#770088"/><stop offset="0.1955" stop-color="#870098"/><stop offset="0.1992" stop-color="#63009e"/><stop offset="0.2011" stop-color="#4300a2"/><stop offset="0.2030" stop-color="#0300aa"/><stop offset="0.2049" stop-color="#0000c9"/><stop offset="0.2086" stop-color="#0000d9"/><stop offset="0.2199" stop-color="#0000dd"/><stop offset="0.2237" stop-color="#0009dd"/><stop offset="0.2274" stop-color="#0013dd"/><stop offset="0.2312" stop-color="#0038dd"/><stop offset="0.2350" stop-color="#004bdd"/><stop offset="0.2669" stop-color="#004bdd"/><stop offset="0.2744" stop-color="#0025dd"/><stop offset="0.2782" stop-color="#0009dd"/><stop offset="0.3158" stop-color="#0009dd"/><stop offset="0.3195" stop-color="#0000dd"/><stop offset="0.4023" stop-color="#0000dd"/><stop offset="0.4060" stop-color="#0009dd"/><stop offset="0.4173" stop-color="#0009dd"/><stop offset="0.4248" stop-color="#0025dd"/><stop offset="0.4305" stop-color="#0041dd"/><stop offset="0.4342" stop-color="#004bdd"/><stop offset="0.4380" stop-color="#005ddd"/><stop offset="0.4417" stop-color="#005ddd"/><stop offset="0.4455" stop-color="#0067dd"/><stop offset="0.4492" stop-color="#0067dd"/><stop offset="0.4530" stop-color="#0070dd"/><stop offset="0.4624" stop-color="#0078dd"/><stop offset="0.5677" stop-color="#0078dd"/><stop offset="0.5771" stop-color="#005ddd"/><stop offset="0.5865" stop-color="#002fdd"/><stop offset="0.5902" stop-color="#0025dd"/><stop offset="0.6053" stop-color="#0000dd"/><stop offset="0.6372" stop-color="#0000c5"/><stop offset="0.6541" stop-color="#0300aa"/><stop offset="0.6579" stop-color="#1800a7"/><stop offset="0.6598" stop-color="#1800a7"/><stop offset="0.6673" stop-color="#4300a2"/><stop offset="0.6711" stop-color="#4d00a0"/><stop offset="0.6805" stop-color="#83009a"/><stop offset="0.7425" stop-color="#810092"/><stop offset="0.7444" stop-color="#0085dd"/><stop offset="0.7500" stop-color="#0085dd"/><stop offset="0.7519" stop-color="#2d00a4"/><stop offset="0.7575" stop-color="#2d00a4"/><stop offset="0.7594" stop-color="#0085dd"/><stop offset="0.7669" stop-color="#0085dd"/><stop offset="0.7688" stop-color="#0000dd"/><stop offset="0.7707" stop-color="#0000dd"/><stop offset="0.7726" stop-color="#0080dd"/><stop offset="0.7763" stop-color="#0080dd"/><stop offset="0.7782" stop-color="#0000dd"/><stop offset="0.7801" stop-color="#0000dd"/><stop offset="0.7820" stop-color="#0080dd"/><stop offset="0.7895" stop-color="#0080dd"/><stop offset="0.7914" stop-color="#0000dd"/><stop offset="0.7951" stop-color="#0000dd"/><stop offset="0.7970" stop-color="#008ddd"/><stop offset="0.8064" stop-color="#008ddd"/><stop offset="0.8083" stop-color="#0000d1"/><stop offset="0.8233" stop-color="#0000d1"/><stop offset="0.8252" stop-color="#810092"/><stop offset="0.8402" stop-color="#79008a"/><stop offset="0.8590" stop-color="#770088"/><stop offset="0.8628" stop-color="#700080"/><stop offset="0.8703" stop-color="#700080"/><stop offset="0.8722" stop-color="#670075"/><stop offset="0.8797" stop-color="#670075"/><stop offset="0.8835" stop-color="#5d006b"/><stop offset="0.8853" stop-color="#5d006b"/><stop offset="0.8872" stop-color="#540060"/><stop offset="0.8929" stop-color="#540060"/><stop offset="0.8947" stop-color="#4b0055"/><stop offset="0.9004" stop-color="#4b0055"/><stop offset="0.9041" stop-color="#41004b"/><stop offset="0.9079" stop-color="#41004b"/><stop offset="0.9098" stop-color="#380040"/><stop offset="0.9154" stop-color="#380040"/><stop offset="0.9173" stop-color="#2f0035"/><stop offset="0.9229" stop-color="#2f0035"/><stop offset="0.9267" stop-color="#25002b"/><stop offset="0.9305" stop-color="#25002b"/><stop offset="0.9323" stop-color="#1c0020"/><stop offset="0.9380" stop-color="#1c0020"/><stop offset="0.9398" stop-color="#130015"/><stop offset="0.9455" stop-color="#130015"/><stop offset="0.9474" stop-color="#09000b"/><stop offset="0.9530" stop-color="#09000b"/><stop offset="0.9549" stop-color="#000000"/><stop offset="1.0000" stop-color="#000000"/></linearGradient><linearGradient id="r4"><stop offset="0.0000" stop-color="#25002b"/><stop offset="0.0752" stop-color="#25002b"/><stop offset="0.0771" stop-color="#1c0020"/><stop offset="0.1372" stop-color="#1c0020"/><stop offset="0.1391" stop-color="#25002b"/><stop offset="0.1429" stop-color="#2f0035"/><stop offset="0.1447" stop-color="#380040"/><stop offset="0.1466" stop-color="#380040"/><stop offset="0.1523" stop-color="#540060"/><stop offset="0.1541" stop-color="#540060"/><stop offset="0.1617" stop-color="#770088"/><stop offset="0.1955" stop-color="#870098"/><stop offset="0.1992" stop-color="#63009e"/><stop offset="0.2011" stop-color="#4300a2"/><stop offset="0.2030" stop-color="#0300aa"/><stop offset="0.2049" stop-color="#0000c9"/><stop offset="0.2068" stop-color="#0000d5"/><stop offset="0.2256" stop-color="#0000dd"/><stop offset="0.2293" stop-color="#0009dd"/><stop offset="0.2763" stop-color="#0009dd"/><stop offset="0.2801" stop-color="#0000dd"/><stop offset="0.4173" stop-color="#0000dd"/><stop offset="0.4267" stop-color="#001cdd"/><stop offset="0.4323" stop-color="#0025dd"/><stop offset="0.4361" stop-color="#002fdd"/><stop offset="0.4436" stop-color="#0038dd"/><stop offset="0.4530" stop-color="#0038dd"/><stop offset="0.4568" stop-color="#0041dd"/><stop offset="0.5000" stop-color="#0041dd"/><stop offset="0.5038" stop-color="#004bdd"/><stop offset="0.5508" stop-color="#004bdd"/><stop offset="0.5545" stop-color="#0054dd"/><stop offset="0.5602" stop-color="#0054dd"/><stop offset="0.5733" stop-color="#002fdd"/><stop offset="0.5808" stop-color="#001cdd"/><stop offset="0.5865" stop-color="#0009dd"/><stop offset="0.5902" stop-color="#0000dd"/><stop offset="0.6203" stop-color="#0000d5"/><stop offset="0.6447" stop-color="#0000b9"/><stop offset="0.6541" stop-color="#0300aa"/><stop offset="0.6579" stop-color="#1800a7"/><stop offset="0.6598" stop-color="#1800a7"/><stop offset="0.6673" stop-color="#4300a2"/><stop offset="0.6711" stop-color="#4d00a0"/><stop offset="0.6805" stop-color="#83009a"/><stop offset="0.7425" stop-color="#810092"/><stop offset="0.7444" stop-color="#0085dd"/><stop offset="0.7500" stop-color="#0085dd"/><stop offset="0.7519" stop-color="#2d00a4"/><stop offset="0.7575" stop-color="#2d00a4"/><stop offset="0.7594" stop-color="#0085dd"/><stop offset="0.7669" stop-color="#0085dd"/><stop offset="0.7688" stop-color="#0000dd"/><stop offset="0.7707" stop-color="#0000dd"/><stop offset="0.7726" stop-color="#0080dd"/><stop offset="0.7763" stop-color="#0080dd"/><stop offset="0.7782" stop-color="#0000dd"/><stop offset="0.7801" stop-color="#0000dd"/><stop offset="0.7820" stop-color="#0080dd"/><stop offset="0.7895" stop-color="#0080dd"/><stop offset="0.7914" stop-color="#0000dd"/><stop offset="0.7951" stop-color="#0000dd"/><stop offset="0.7970" stop-color="#008ddd"/><stop offset="0.8064" stop-color="#008ddd"/><stop offset="0.8083" stop-color="#0000d1"/><stop offset="0.8233" stop-color="#0000d1"/><stop offset="0.8252" stop-color="#810092"/><stop offset="0.8402" stop-color="#79008a"/><stop offset="0.8590" stop-color="#770088"/><stop offset="0.8628" stop-color="#700080"/><stop offset="0.8703" stop-color="#700080"/><stop offset="0.8722" stop-color="#670075"/><stop offset="0.8797" stop-color="#670075"/><stop offset="0.8835" stop-color="#5d006b"/><stop offset="0.8853" stop-color="#5d006b"/><stop offset="0.8872" stop-color="#540060"/><stop offset="0.8929" stop-color="#540060"/><stop offset="0.8947" stop-color="#4b0055"/><stop offset="0.9004" stop-color="#4b0055"/><stop offset="0.9041" stop-color="#41004b"/><stop offset="0.9079" stop-color="#41004b"/><stop offset="0.9098" stop-color="#380040"/><stop offset="0.9154" stop-color="#380040"/><stop offset="0.9173" stop-color="#2f0035"/><stop offset="0.9229" stop-color="#2f0035"/><stop offset="0.9267" stop-color="#25002b"/><stop offset="0.9305" stop-color="#25002b"/><stop offset="0.9323" stop-color="#1c0020"/><stop offset="0.9380" stop-color="#1c0020"/><stop offset="0.9398" stop-color="#130015"/><stop offset="0.9455" stop-color="#130015"/><stop offset="0.9474" stop-color="#09000b"/><stop offset="0.9530" stop-color="#09000b"/><stop offset="0.9549" stop-color="#000000"/><stop offset="1.0000" stop-color="#000000"/></linearGradient><linearGradient id="r5"><stop offset="0.0000" stop-color="#25002b"/><stop offset="0.0752" stop-color="#25002b"/><stop offset="0.0771" stop-color="#1c0020"/><stop offset="0.1372" stop-color="#1c0020"/><stop offset="0.1391" stop-color="#25002b"/><stop offset="0.1429" stop-color="#2f0035"/><stop offset="0.1447" stop-color="#380040"/><stop offset="0.1466" stop-color="#380040"/><stop offset="0.1523" stop-color="#540060"/><stop offset="0.1541" stop-color="#540060"/><stop offset="0.1617" stop-color="#770088"/><stop offset="0.1955" stop-color="#870098"/><stop offset="0.1992" stop-color="#63009e"/><stop offset="0.2011" stop-color="#4300a2"/><stop offset="0.2030" stop-color="#0300aa"/><stop offset="0.2049" stop-color="#0000c9"/><stop offset="0.2086" stop-color="#0000d9"/><stop offset="0.2199" stop-color="#0000dd"/><stop offset="0.2237" stop-color="#0009dd"/><stop offset="0.2274" stop-color="#0013dd"/><stop offset="0.2331" stop-color="#002fdd"/><stop offset="0.2688" stop-color="#002fdd"/><stop offset="0.2726" stop-color="#001cdd"/><stop offset="0.2763" stop-color="#0013dd"/><stop offset="0.2801" stop-color="#0009dd"/><stop offset="0.3158" stop-color="#0009dd"/><stop offset="0.3195" stop-color="#0000dd"/><stop offset="0.4023" stop-color="#0000dd"/><stop offset="0.4060" stop-color="#0009dd"/><stop offset="0.4192" stop-color="#0009dd"/><stop offset="0.4229" stop-color="#001cdd"/><stop offset="0.4267" stop-color="#0025dd"/><stop offset="0.4342" stop-color="#0041dd"/><stop offset="0.4398" stop-color="#004bdd"/><stop offset="0.4436" stop-color="#004bdd"/><stop offset="0.4474" stop-color="#0054dd"/><stop offset="0.4530" stop-color="#0054dd"/><stop offset="0.4568" stop-color="#005ddd"/><stop offset="0.4962" stop-color="#005ddd"/><stop offset="0.5000" stop-color="#0067dd"/><stop offset="0.5470" stop-color="#0067dd"/><stop offset="0.5508" stop-color="#0070dd"/><stop offset="0.5602" stop-color="#0070dd"/><stop offset="0.5733" stop-color="#004bdd"/><stop offset="0.5808" stop-color="#0038dd"/><stop offset="0.5902" stop-color="#001cdd"/><stop offset="0.5940" stop-color="#0013dd"/><stop offset="0.5959" stop-color="#0013dd"/><stop offset="0.5996" stop-color="#0009dd"/><stop offset="0.6071" stop-color="#0000d9"/><stop offset="0.6335" stop-color="#0000c9"/><stop offset="0.6541" stop-color="#0300aa"/><stop offset="0.6579" stop-color="#1800a7"/><stop offset="0.6598" stop-color="#1800a7"/><stop offset="0.6673" stop-color="#4300a2"/><stop offset="0.6711" stop-color="#4d00a0"/><stop offset="0.6805" stop-color="#83009a"/><stop offset="0.7425" stop-color="#810092"/><stop offset="0.7444" stop-color="#0085dd"/><stop offset="0.7500" stop-color="#0085dd"/><stop offset="0.7519" stop-color="#2d00a4"/><stop offset="0.7575" stop-color="#2d00a4"/><stop offset="0.7594" stop-color="#0085dd"/><stop offset="0.7669" stop-color="#0085dd"/><stop offset="0.7688" stop-color="#0000dd"/><stop offset="0.7707" stop-color="#0000dd"/><stop offset="0.7726" stop-color="#0080dd"/><stop offset="0.7763" stop-color="#0080dd"/><stop offset="0.7782" stop-color="#0000dd"/><stop offset="0.7801" stop-color="#0000dd"/><stop offset="0.7820" stop-color="#0080dd"/><stop offset="0.7895" stop-color="#0080dd"/><stop offset="0.7914" stop-color="#0000dd"/><stop offset="0.7951" stop-color="#0000dd"/><stop offset="0.7970" stop-color="#008ddd"/><stop offset="0.8064" stop-color="#008ddd"/><stop offset="0.8083" stop-color="#0000d1"/><stop offset="0.8233" stop-color="#0000d1"/><stop offset="0.8252" stop-color="#810092"/><stop offset="0.8402" stop-color="#79008a"/><stop offset="0.8590" stop-color="#770088"/><stop offset="0.8628" stop-color="#700080"/><stop offset="0.8703" stop-color="#700080"/><stop offset="0.8722" stop-color="#670075"/><stop offset="0.8797" stop-color="#670075"/><stop offset="0.8835" stop-color="#5d006b"/><stop offset="0.8853" stop-color="#5d006b"/><stop offset="0.8872" stop-color="#540060"/><stop offset="0.8929" stop-color="#540060"/><stop offset="0.8947" stop-color="#4b0055"/><stop offset="0.9004" stop-color="#4b0055"/><stop offset="0.9041" stop-color="#41004b"/><stop offset="0.9079" stop-color="#41004b"/><stop offset="0.9098" stop-color="#380040"/><stop offset="0.9154" stop-color="#380040"/><stop offset="0.9173" stop-color="#2f0035"/><stop offset="0.9229" stop-color="#2f0035"/><stop offset="0.9267" stop-color="#25002b"/><stop offset="0.9305" stop-color="#25002b"/><stop offset="0.9323" stop-color="#1c0020"/><stop offset="0.9380" stop-color="#1c0020"/><stop offset="0.9398" stop-color="#130015"/><stop offset="0.9455" stop-color="#130015"/><stop offset="0.9474" stop-color="#09000b"/><stop offset="0.9530" stop-color="#09000b"/><stop offset="0.9549" stop-color="#000000"/><stop offset="1.0000" stop-color="#000000"/></linearGradient><linearGradient id="r6"><stop offset="0.0000" stop-color="#25002b"/><stop offset="0.0752" stop-color="#25002b"/><stop offset="0.0771" stop-color="#1c0020"/><stop offset="0.1372" stop-color="#1c0020"/><stop offset="0.1391" stop-color="#25002b"/><stop offset="0.1429" stop-color="#2f0035"/><stop offset="0.1447" stop-color="#380040"/><stop offset="0.1466" stop-color="#380040"/><stop offset="0.1523" stop-color="#540060"/><stop offset="0.1541" stop-color="#540060"/><stop offset="0.1617" stop-color="#770088"/><stop offset="0.1955" stop-color="#870098"/><stop offset="0.1992" stop-color="#63009e"/><stop offset="0.2011" stop-color="#4300a2"/><stop offset="0.2030" stop-color="#0300aa"/><stop offset="0.2049" stop-color="#0000c9"/><stop offset="0.2086" stop-color="#0000d9"/><stop offset="0.2199" stop-color="#0000dd"/><stop offset="0.2237" stop-color="#0009dd"/><stop offset="0.2274" stop-color="#0009dd"/><stop offset="0.2312" stop-color="#001cdd"/><stop offset="0.2387" stop-color="#0025dd"/><stop offset="0.2669" stop-color="#0025dd"/><stop offset="0.2744" stop-color="#0013dd"/><stop offset="0.2820" stop-color="#0009dd"/><stop offset="0.3158" stop-color="#0009dd"/><stop offset="0.3195" stop-color="#0000dd"/><stop offset="0.4023" stop-color="#0000dd"/><stop offset="0.4060" stop-color="#0009dd"/><stop offset="0.4192" stop-color="#0009dd"/><stop offset="0.4229" stop-color="#001cdd"/><stop offset="0.4286" stop-color="#0025dd"/><stop offset="0.4323" stop-color="#0038dd"/><stop offset="0.4398" stop-color="#0041dd"/><stop offset="0.4474" stop-color="#004bdd"/><stop offset="0.4530" stop-color="#004bdd"/><stop offset="0.4568" stop-color="#0054dd"/><stop offset="0.4981" stop-color="#0054dd"/><stop offset="0.5019" stop-color="#005ddd"/><stop offset="0.5489" stop-color="#005ddd"/><stop offset="0.5526" stop-color="#0067dd"/><stop offset="0.5602" stop-color="#0067dd"/><stop offset="0.5658" stop-color="#0054dd"/><stop offset="0.5714" stop-color="#004bdd"/><stop offset="0.5771" stop-color="#0038dd"/><stop offset="0.5808" stop-color="#002fdd"/><stop offset="0.5827" stop-color="#0025dd"/><stop offset="0.5865" stop-color="#001cdd"/><stop offset="0.5902" stop-color="#0013dd"/><stop offset="0.5959" stop-color="#0009dd"/><stop offset="0.5996" stop-color="#0009dd"/><stop offset="0.6034" stop-color="#0000dd"/><stop offset="0.6372" stop-color="#0000c5"/><stop offset="0.6541" stop-color="#0300aa"/><stop offset="0.6579" stop-color="#1800a7"/><stop offset="0.6598" stop-color="#1800a7"/><stop offset="0.6673" stop-color="#4300a2"/><stop offset="0.6711" stop-color="#4d00a0"/><stop offset="0.6805" stop-color="#83009a"/><stop offset="0.7425" stop-color="#810092"/><stop offset="0.7444" stop-color="#0085dd"/><stop offset="0.7500" stop-color="#0085dd"/><stop offset="0.7519" stop-color="#2d00a4"/><stop offset="0.7575" stop-color="#2d00a4"/><stop offset="0.7594" stop-color="#0085dd"/><stop offset="0.7669" stop-color="#0085dd"/><stop offset="0.7688" stop-color="#0000dd"/><stop offset="0.7707" stop-color="#0000dd"/><stop offset="0.7726" stop-color="#0080dd"/><stop offset="0.7763" stop-color="#0080dd"/><stop offset="0.7782" stop-color="#0000dd"/><stop offset="0.7801" stop-color="#0000dd"/><stop offset="0.7820" stop-color="#0080dd"/><stop offset="0.7895" stop-color="#0080dd"/><stop offset="0.7914" stop-color="#0000dd"/><stop offset="0.7951" stop-color="#0000dd"/><stop offset="0.7970" stop-color="#008ddd"/><stop offset="0.8064" stop-color="#008ddd"/><stop offset="0.8083" stop-color="#0000d1"/><stop offset="0.8233" stop-color="#0000d1"/><stop offset="0.8252" stop-color="#810092"/><stop offset="0.8402" stop-color="#79008a"/><stop offset="0.8590" stop-color="#770088"/><stop offset="0.8628" stop-color="#700080"/><stop offset="0.8703" stop-color="#700080"/><stop offset="0.8722" stop-color="#670075"/><stop offset="0.8797" stop-color="#670075"/><stop offset="0.8835" stop-color="#5d006b"/><stop offset="0.8853" stop-color="#5d006b"/><stop offset="0.8872" stop-color="#540060"/><stop offset="0.8929" stop-color="#540060"/><stop offset="0.8947" stop-color="#4b0055"/><stop offset="0.9004" stop-color="#4b0055"/><stop offset="0.9041" stop-color="#41004b"/><stop offset="0.9079" stop-color="#41004b"/><stop offset="0.9098" stop-color="#380040"/><stop offset="0.9154" stop-color="#380040"/><stop offset="0.9173" stop-color="#2f0035"/><stop offset="0.9229" stop-color="#2f0035"/><stop offset="0.9267" stop-color="#25002b"/><stop offset="0.9305" stop-color="#25002b"/><stop offset="0.9323" stop-color="#1c0020"/><stop offset="0.9380" stop-color="#1c0020"/><stop offset="0.9398" stop-color="#130015"/><stop offset="0.9455" stop-color="#130015"/><stop offset="0.9474" stop-color="#09000b"/><stop offset="0.9530" stop-color="#09000b"/><stop offset="0.9549" stop-color="#000000"/><stop offset="1.0000" stop-color="#000000"/></linearGradient><linearGradient id="r7"><stop offset="0.0000" stop-color="#25002b"/><stop offset="0.0752" stop-color="#25002b"/><stop offset="0.0771" stop-color="#1c0020"/><stop offset="0.1372" stop-color="#1c0020"/><stop offset="0.1391" stop-color="#25002b"/><stop offset="0.1429" stop-color="#2f0035"/><stop offset="0.1447" stop-color="#380040"/><stop offset="0.1466" stop-color="#380040"/><stop offset="0.1523" stop-color="#540060"/><stop offset="0.1541" stop-color="#540060"/><stop offset="0.1617" stop-color="#770088"/><stop offset="0.1955" stop-color="#870098"/><stop offset="0.1992" stop-color="#63009e"/><stop offset="0.2011" stop-color="#4300a2"/><stop offset="0.2030" stop-color="#0300aa"/><stop offset="0.2049" stop-color="#0000c9"/><stop offset="0.2086" stop-color="#0000d9"/><stop offset="0.2199" stop-color="#0000dd"/><stop offset="0.2237" stop-color="#0009dd"/><stop offset="0.2274" stop-color="#0013dd"/><stop offset="0.2331" stop-color="#0041dd"/><stop offset="0.2688" stop-color="#0041dd"/><stop offset="0.2763" stop-color="#0013dd"/><stop offset="0.2801" stop-color="#0009dd"/><stop offset="0.3158" stop-color="#0009dd"/><stop offset="0.3195" stop-color="#0000dd"/><stop offset="0.4023" stop-color="#0000dd"/><stop offset="0.4060" stop-color="#0009dd"/><stop offset="0.4173" stop-color="#0009dd"/><stop offset="0.4248" stop-color="#0025dd"/><stop offset="0.4286" stop-color="#002fdd"/><stop offset="0.4361" stop-color="#004bdd"/><stop offset="0.4398" stop-color="#004bdd"/><stop offset="0.4436" stop-color="#0054dd"/><stop offset="0.4474" stop-color="#0054dd"/><stop offset="0.4511" stop-color="#005ddd"/><stop offset="0.4568" stop-color="#005ddd"/><stop offset="0.4605" stop-color="#0067dd"/><stop offset="0.5075" stop-color="#0067dd"/><stop offset="0.5113" stop-color="#0070dd"/><stop offset="0.5639" stop-color="#0070dd"/><stop offset="0.5771" stop-color="#004bdd"/><stop offset="0.5827" stop-color="#0038dd"/><stop offset="0.5865" stop-color="#002fdd"/><stop offset="0.5921" stop-color="#001cdd"/><stop offset="0.5977" stop-color="#0013dd"/><stop offset="0.6034" stop-color="#0000dd"/><stop offset="0.6372" stop-color="#0000c5"/><stop offset="0.6541" stop-color="#0300aa"/><stop offset="0.6579" stop-color="#1800a7"/><stop offset="0.6598" stop-color="#1800a7"/><stop offset="0.6673" stop-color="#4300a2"/><stop offset="0.6711" stop-color="#4d00a0"/><stop offset="0.6805" stop-color="#83009a"/><stop offset="0.7425" stop-color="#810092"/><stop offset="0.7444" stop-color="#0085dd"/><stop offset="0.7500" stop-color="#0085dd"/><stop offset="0.7519" stop-color="#2d00a4"/><stop offset="0.7575" stop-color="#2d00a4"/><stop offset="0.7594" stop-color="#0085dd"/><stop offset="0.7669" stop-color="#0085dd"/><stop offset="0.7688" stop-color="#0000dd"/><stop offset="0.7707" stop-color="#0000dd"/><stop offset="0.7726" stop-color="#0080dd"/><stop offset="0.7763" stop-color="#0080dd"/><stop offset="0.7782" stop-color="#0000dd"/><stop offset="0.7801" stop-color="#0000dd"/><stop offset="0.7820" stop-color="#0080dd"/><stop offset="0.7895" stop-color="#0080dd"/><stop offset="0.7914" stop-color="#0000dd"/><stop offset="0.7951" stop-color="#0000dd"/><stop offset="0.7970" stop-color="#008ddd"/><stop offset="0.8064" stop-color="#008ddd"/><stop offset="0.8083" stop-color="#0000d1"/><stop offset="0.8233" stop-color="#0000d1"/><stop offset="0.8252" stop-color="#810092"/><stop offset="0.8402" stop-color="#79008a"/><stop offset="0.8590" stop-color="#770088"/><stop offset="0.8628" stop-color="#700080"/><stop offset="0.8703" stop-color="#700080"/><stop offset="0.8722" stop-color="#670075"/><stop offset="0.8797" stop-color="#670075"/><stop offset="0.8835" stop-color="#5d006b"/><stop offset="0.8853" stop-color="#5d006b"/><stop offset="0.8872" stop-color="#540060"/><stop offset="0.8929" stop-color="#540060"/><stop offset="0.8947" stop-color="#4b0055"/><stop offset="0.9004" stop-color="#4b0055"/><stop offset="0.9041" stop-color="#41004b"/><stop offset="0.9079" stop-color="#41004b"/><stop offset="0.9098" stop-color="#380040"/><stop offset="0.9154" stop-color="#380040"/><stop offset="0.9173" stop-color="#2f0035"/><stop offset="0.9229" stop-color="#2f0035"/><stop offset="0.9267" stop-color="#25002b"/><stop offset="0.9305" stop-color="#25002b"/><stop offset="0.9323" stop-color="#1c0020"/><stop offset="0.9380" stop-color="#1c0020"/><stop offset="0.9398" stop-color="#130015"/><stop offset="0.9455" stop-color="#130015"/><stop offset="0.9474" stop-color="#09000b"/><stop offset="0.9530" stop-color="#09000b"/><stop offset="0.9549" stop-color="#000000"/><stop offset="1.0000" stop-color="#000000"/></linearGradient><linearGradient id="r8"><stop offset="0.0000" stop-color="#25002b"/><stop offset="0.0752" stop-color="#25002b"/><stop offset="0.0771" stop-color="#1c0020"/><stop offset="0.1372" stop-color="#1c0020"/><stop offset="0.1391" stop-color="#25002b"/><stop offset="0.1429" stop-color="#2f0035"/><stop offset="0.1447" stop-color="#380040"/><stop offset="0.1466" stop-color="#380040"/><stop offset="0.1523" stop-color="#540060"/><stop offset="0.1541" stop-color="#540060"/><stop offset="0.1617" stop-color="#770088"/><stop offset="0.1955" stop-color="#870098"/><stop offset="0.1992" stop-color="#63009e"/><stop offset="0.2011" stop-color="#4300a2"/><stop offset="0.2030" stop-color="#0300aa"/><stop offset="0.2049" stop-color="#0000c9"/><stop offset="0.2086" stop-color="#0000d9"/><stop offset="0.2199" stop-color="#0000dd"/><stop offset="0.2237" stop-color="#0009dd"/><stop offset="0.2274" stop-color="#0009dd"/><stop offset="0.2312" stop-color="#001cdd"/><stop offset="0.2387" stop-color="#0025dd"/><stop offset="0.2669" stop-color="#0025dd"/><stop offset="0.2744" stop-color="#0013dd"/><stop offset="0.2820" stop-color="#0009dd"/><stop offset="0.3158" stop-color="#0009dd"/><stop offset="0.3195" stop-color="#0000dd"/><stop offset="0.4023" stop-color="#0000dd"/><stop offset="0.4060" stop-color="#0009dd"/><stop offset="0.4192" stop-color="#0009dd"/><stop offset="0.4229" stop-color="#001cdd"/><stop offset="0.4267" stop-color="#0025dd"/><stop offset="0.4342" stop-color="#0041dd"/><stop offset="0.4398" stop-color="#004bdd"/><stop offset="0.4436" stop-color="#004bdd"/><stop offset="0.4474" stop-color="#0054dd"/><stop offset="0.4530" stop-color="#0054dd"/><stop offset="0.4568" stop-color="#005ddd"/><stop offset="0.4962" stop-color="#005ddd"/><stop offset="0.5000" stop-color="#0067dd"/><stop offset="0.5470" stop-color="#0067dd"/><stop offset="0.5508" stop-color="#0070dd"/><stop offset="0.5602" stop-color="#0070dd"/><stop offset="0.5733" stop-color="#004bdd"/><stop offset="0.5808" stop-color="#0038dd"/><stop offset="0.5902" stop-color="#001cdd"/><stop offset="0.5940" stop-color="#0013dd"/><stop offset="0.5959" stop-color="#0013dd"/><stop offset="0.5996" stop-color="#0009dd"/><stop offset="0.6071" stop-color="#0000d9"/><stop offset="0.6335" stop-color="#0000c9"/><stop offset="0.6541" stop-color="#0300aa"/><stop offset="0.6579" stop-color="#1800a7"/><stop offset="0.6598" stop-color="#1800a7"/><stop offset="0.6673" stop-color="#4300a2"/><stop offset="0.6711" stop-color="#4d00a0"/><stop offset="0.6805" stop-color="#83009a"/><stop offset="0.7425" stop-color="#810092"/><stop offset="0.7444" stop-color="#0085dd"/><stop offset="0.7500" stop-color="#0085dd"/><stop offset="0.7519" stop-color="#2d00a4"/><stop offset="0.7575" stop-color="#2d00a4"/><stop offset="0.7594" stop-color="#0085dd"/><stop offset="0.7669" stop-color="#0085dd"/><stop offset="0.7688" stop-color="#0000dd"/><stop offset="0.7707" stop-color="#0000dd"/><stop offset="0.7726" stop-color="#0080dd"/><stop offset="0.7763" stop-color="#0080dd"/><stop offset="0.7782" stop-color="#0000dd"/><stop offset="0.7801" stop-color="#0000dd"/><stop offset="0.7820" stop-color="#0080dd"/><stop offset="0.7895" stop-color="#0080dd"/><stop offset="0.7914" stop-color="#0000dd"/><stop offset="0.7951" stop-color="#0000dd"/><stop offset="0.7970" stop-color="#008ddd"/><stop offset="0.8064" stop-color="#008ddd"/><stop offset="0.8083" stop-color="#0000d1"/><stop offset="0.8233" stop-color="#0000d1"/><stop offset="0.8252" stop-color="#810092"/><stop offset="0.8402" stop-color="#79008a"/><stop offset="0.8590" stop-color="#770088"/><stop offset="0.8628" stop-color="#700080"/><stop offset="0.8703" stop-color="#700080"/><stop offset="0.8722" stop-color="#670075"/><stop offset="0.8797" stop-color="#670075"/><stop offset="0.8835" stop-color="#5d006b"/><stop offset="0.8853" stop-color="#5d006b"/><stop offset="0.8872" stop-color="#540060"/><stop offset="0.8929" stop-color="#540060"/><stop offset="0.8947" stop-color="#4b0055"/><stop offset="0.9004" stop-color="#4b0055"/><stop offset="0.9041" stop-color="#41004b"/><stop offset="0.9079" stop-color="#41004b"/><stop offset="0.9098" stop-color="#380040"/><stop offset="0.9154" stop-color="#380040"/><stop offset="0.9173" stop-color="#2f0035"/><stop offset="0.9229" stop-color="#2f0035"/><stop offset="0.9267" stop-color="#25002b"/><stop offset="0.9305" stop-color="#25002b"/><stop offset="0.9323" stop-color="#1c0020"/><stop offset="0.9380" stop-color="#1c0020"/><stop offset="0.9398" stop-color="#130015"/><stop offset="0.9455" stop-color="#130015"/><stop offset="0.9474" stop-color="#09000b"/><stop offset="0.9530" stop-color="#09000b"/><stop offset="0.9549" stop-color="#000000"/><stop offset="1.0000" stop-color="#000000"/></linearGradient><linearGradient id="r9"><stop offset="0.0000" stop-color="#25002b"/><stop offset="0.0752" stop-color="#25002b"/><stop offset="0.0771" stop-color="#1c0020"/><stop offset="0.1372" stop-color="#1c0020"/><stop offset="0.1391" stop-color="#25002b"/><stop offset="0.1429" stop-color="#2f0035"/><stop offset="0.1447" stop-color="#380040"/><stop offset="0.1466" stop-color="#380040"/><stop offset="0.1523" stop-color="#540060"/><stop offset="0.1541" stop-color="#540060"/><stop offset="0.1617" stop-color="#770088"/><stop offset="0.1955" stop-color="#870098"/><stop offset="0.1992" stop-color="#63009e"/><stop offset="0.2011" stop-color="#4300a2"/><stop offset="0.2030" stop-color="#0300aa"/><stop offset="0.2049" stop-color="#0000c9"/><stop offset="0.2086" stop-color="#0000d9"/><stop offset="0.2199" stop-color="#0000dd"/><stop offset="0.2237" stop-color="#0009dd"/><stop offset="0.2274" stop-color="#0013dd"/><stop offset="0.2331" stop-color="#002fdd"/><stop offset="0.2669" stop-color="#002fdd"/><stop offset="0.2744" stop-color="#0013dd"/><stop offset="0.2820" stop-color="#0009dd"/><stop offset="0.3158" stop-color="#0009dd"/><stop offset="0.3195" stop-color="#0000dd"/><stop offset="0.4023" stop-color="#0000dd"/><stop offset="0.4060" stop-color="#0009dd"/><stop offset="0.4173" stop-color="#0009dd"/><stop offset="0.4248" stop-color="#0025dd"/><stop offset="0.4286" stop-color="#002fdd"/><stop offset="0.4361" stop-color="#004bdd"/><stop offset="0.4398" stop-color="#004bdd"/><stop offset="0.4436" stop-color="#0054dd"/><stop offset="0.4474" stop-color="#0054dd"/><stop offset="0.4511" stop-color="#005ddd"/><stop offset="0.4568" stop-color="#005ddd"/><stop offset="0.4605" stop-color="#0067dd"/><stop offset="0.5075" stop-color="#0067dd"/><stop offset="0.5113" stop-color="#0070dd"/><stop offset="0.5639" stop-color="#0070dd"/><stop offset="0.5771" stop-color="#004bdd"/><stop offset="0.5827" stop-color="#0038dd"/><stop offset="0.5865" stop-color="#002fdd"/><stop offset="0.5921" stop-color="#001cdd"/><stop offset="0.5977" stop-color="#0013dd"/><stop offset="0.6034" stop-color="#0000dd"/><stop offset="0.6372" stop-color="#0000c5"/><stop offset="0.6541" stop-color="#0300aa"/><stop offset="0.6579" stop-color="#1800a7"/><stop offset="0.6598" stop-color="#1800a7"/><stop offset="0.6673" stop-color="#4300a2"/><stop offset="0.6711" stop-color="#4d00a0"/><stop offset="0.6805" stop-color="#83009a"/><stop offset="0.7425" stop-color="#810092"/><stop offset="0.7444" stop-color="#0085dd"/><stop offset="0.7500" stop-color="#0085dd"/><stop offset="0.7519" stop-color="#2d00a4"/><stop offset="0.7575" stop-color="#2d00a4"/><stop offset="0.7594" stop-color="#0085dd"/><stop offset="0.7669" stop-color="#0085dd"/><stop offset="0.7688" stop-color="#0000dd"/><stop offset="0.7707" stop-color="#0000dd"/><stop offset="0.7726" stop-color="#0080dd"/><stop offset="0.7763" stop-color="#0080dd"/><stop offset="0.7782" stop-color="#0000dd"/><stop offset="0.7801" stop-color="#0000dd"/><stop offset="0.7820" stop-color="#0080dd"/><stop offset="0.7895" stop-color="#0080dd"/><stop offset="0.7914" stop-color="#0000dd"/><stop offset="0.7951" stop-color="#0000dd"/><stop offset="0.7970" stop-color="#008ddd"/><stop offset="0.8064" stop-color="#008ddd"/><stop offset="0.8083" stop-color="#0000d1"/><stop offset="0.8233" stop-color="#0000d1"/><stop offset="0.8252" stop-color="#810092"/><stop offset="0.8402" stop-color="#79008a"/><stop offset="0.8590" stop-color="#770088"/><stop offset="0.8628" stop-color="#700080"/><stop offset="0.8703" stop-color="#700080"/><stop offset="0.8722" stop-color="#670075"/><stop offset="0.8797" stop-color="#670075"/><stop offset="0.8835" stop-color="#5d006b"/><stop offset="0.8853" stop-color="#5d006b"/><stop offset="0.8872" stop-color="#540060"/><stop offset="0.8929" stop-color="#540060"/><stop offset="0.8947" stop-color="#4b0055"/><stop offset="0.9004" stop-color="#4b0055"/><stop offset="0.9041" stop-color="#41004b"/><stop offset="0.9079" stop-color="#41004b"/><stop offset="0.9098" stop-color="#380040"/><stop offset="0.9154" stop-color="#380040"/><stop offset="0.9173" stop-color="#2f0035"/><stop offset="0.9229" stop-color="#2f0035"/><stop offset="0.9267" stop-color="#25002b"/><stop offset="0.9305" stop-color="#25002b"/><stop offset="0.9323" stop-color="#1c0020"/><stop offset="0.9380" stop-color="#1c0020"/><stop offset="0.9398" stop-color="#130015"/><stop offset="0.9455" stop-color="#130015"/><stop offset="0.9474" stop-color="#09000b"/><stop offset="0.9530" stop-color="#09000b"/><stop offset="0.9549" stop-color="#000000"/><stop offset="1.0000" stop-color="#000000"/></linearGradient><linearGradient id="r10"><stop offset="0.0000" stop-color="#25002b"/><stop offset="0.0752" stop-color="#25002b"/><stop offset="0.0771" stop-color="#1c0020"/><stop offset="0.1372" stop-color="#1c0020"/><stop offset="0.1391" stop-color="#25002b"/><stop offset="0.1429" stop-color="#2f0035"/><stop offset="0.1447" stop-color="#380040"/><stop offset="0.1466" stop-color="#380040"/><stop offset="0.1523" stop-color="#540060"/><stop offset="0.1541" stop-color="#540060"/><stop offset="0.1617" stop-color="#770088"/><stop offset="0.1955" stop-color="#870098"/><stop offset="0.1992" stop-color="#63009e"/><stop offset="0.2011" stop-color="#4300a2"/><stop offset="0.2030" stop-color="#0300aa"/><stop offset="0.2049" stop-color="#0000c9"/><stop offset="0.2086" stop-color="#0000d9"/><stop offset="0.2199" stop-color="#0000dd"/><stop offset="0.2237" stop-color="#0009dd"/><stop offset="0.2274" stop-color="#0013dd"/><stop offset="0.2331" stop-color="#002fdd"/><stop offset="0.2669" stop-color="#002fdd"/><stop offset="0.2744" stop-color="#0013dd"/><stop offset="0.2820" stop-color="#0009dd"/><stop offset="0.3158" stop-color="#0009dd"/><stop offset="0.3195" stop-color="#0000dd"/><stop offset="0.4023" stop-color="#0000dd"/><stop offset="0.4060" stop-color="#0009dd"/><stop offset="0.4173" stop-color="#0009dd"/><stop offset="0.4248" stop-color="#0025dd"/><stop offset="0.4286" stop-color="#0038dd"/><stop offset="0.4323" stop-color="#0041dd"/><stop offset="0.4361" stop-color="#0054dd"/><stop offset="0.4398" stop-color="#0054dd"/><stop offset="0.4436" stop-color="#005ddd"/><stop offset="0.4511" stop-color="#0067dd"/><stop offset="0.4586" stop-color="#0070dd"/><stop offset="0.4944" stop-color="#0070dd"/><stop offset="0.4981" stop-color="#0078dd"/><stop offset="0.5639" stop-color="#0078dd"/><stop offset="0.5714" stop-color="#0067dd"/><stop offset="0.5752" stop-color="#005ddd"/><stop offset="0.5789" stop-color="#004bdd"/><stop offset="0.5827" stop-color="#0041dd"/><stop offset="0.5883" stop-color="#0025dd"/><stop offset="0.5977" stop-color="#0013dd"/><stop offset="0.6034" stop-color="#0000dd"/><stop offset="0.6372" stop-color="#0000c5"/><stop offset="0.6541" stop-color="#0300aa"/><stop offset="0.6579" stop-color="#1800a7"/><stop offset="0.6598" stop-color="#1800a7"/><stop offset="0.6673" stop-color="#4300a2"/><stop offset="0.6711" stop-color="#4d00a0"/><stop offset="0.6805" stop-color="#83009a"/><stop offset="0.7425" stop-color="#810092"/><stop offset="0.7444" stop-color="#0085dd"/><stop offset="0.7500" stop-color="#0085dd"/><stop offset="0.7519" stop-color="#2d00a4"/><stop offset="0.7575" stop-color="#2d00a4"/><stop offset="0.7594" stop-color="#0085dd"/><stop offset="0.7669" stop-color="#0085dd"/><stop offset="0.7688" stop-color="#0000dd"/><stop offset="0.7707" stop-color="#0000dd"/><stop offset="0.7726" stop-color="#0080dd"/><stop offset="0.7763" stop-color="#0080dd"/><stop offset="0.7782" stop-color="#0000dd"/><stop offset="0.7801" stop-color="#0000dd"/><stop offset="0.7820" stop-color="#0080dd"/><stop offset="0.7895" stop-color="#0080dd"/><stop offset="0.7914" stop-color="#0000dd"/><stop offset="0.7951" stop-color="#0000dd"/><stop offset="0.7970" stop-color="#008ddd"/><stop offset="0.8064" stop-color="#008ddd"/><stop offset="0.8083" stop-color="#0000d1"/><stop offset="0.8233" stop-color="#0000d1"/><stop offset="0.8252" stop-color="#810092"/><stop offset="0.8402" stop-color="#79008a"/><stop offset="0.8590" stop-color="#770088"/><stop offset="0.8628" stop-color="#700080"/><stop offset="0.8703" stop-color="#700080"/><stop offset="0.8722" stop-color="#670075"/><stop offset="0.8797" stop-color="#670075"/><stop offset="0.8835" stop-color="#5d006b"/><stop offset="0.8853" stop-color="#5d006b"/><stop offset="0.8872" stop-color="#540060"/><stop offset="0.8929" stop-color="#540060"/><stop offset="0.8947" stop-color="#4b0055"/><stop offset="0.9004" stop-color="#4b0055"/><stop offset="0.9041" stop-color="#41004b"/><stop offset="0.9079" stop-color="#41004b"/><stop offset="0.9098" stop-color="#380040"/><stop offset="0.9154" stop-color="#380040"/><stop offset="0.9173" stop-color="#2f0035"/><stop offset="0.9229" stop-color="#2f0035"/><stop offset="0.9267" stop-color="#25002b"/><stop offset="0.9305" stop-color="#25002b"/><stop offset="0.9323" stop-color="#1c0020"/><stop offset="0.9380" stop-color="#1c0020"/><stop offset="0.9398" stop-color="#130015"/><stop offset="0.9455" stop-color="#130015"/><stop offset="0.9474" stop-color="#09000b"/><stop offset="0.9530" stop-color="#09000b"/><stop offset="0.9549" stop-color="#000000"/><stop offset="1.0000" stop-color="#000000"/></linearGradient><linearGradient id="r11"><stop offset="0.0000" stop-color="#25002b"/><stop offset="0.0752" stop-color="#25002b"/><stop offset="0.0771" stop-color="#1c0020"/><stop offset="0.1372" stop-color="#1c0020"/><stop offset="0.1391" stop-color="#25002b"/><stop offset="0.1429" stop-color="#2f0035"/><stop offset="0.1447" stop-color="#380040"/><stop offset="0.1466" stop-color="#380040"/><stop offset="0.1523" stop-color="#540060"/><stop offset="0.1541" stop-color="#540060"/><stop offset="0.1617" stop-color="#770088"/><stop offset="0.1955" stop-color="#870098"/><stop offset="0.1992" stop-color="#63009e"/><stop offset="0.2011" stop-color="#4300a2"/><stop offset="0.2030" stop-color="#0300aa"/><stop offset="0.2049" stop-color="#0000c9"/><stop offset="0.2086" stop-color="#0000d9"/><stop offset="0.2199" stop-color="#0000dd"/><stop offset="0.2237" stop-color="#0009dd"/><stop offset="0.2274" stop-color="#0013dd"/><stop offset="0.2331" stop-color="#002fdd"/><stop offset="0.2669" stop-color="#002fdd"/><stop offset="0.2744" stop-color="#0013dd"/><stop offset="0.2820" stop-color="#0009dd"/><stop offset="0.3158" stop-color="#0009dd"/><stop offset="0.3195" stop-color="#0000dd"/><stop offset="0.4023" stop-color="#0000dd"/><stop offset="0.4060" stop-color="#0009dd"/><stop offset="0.4173" stop-color="#0009dd"/><stop offset="0.4211" stop-color="#001cdd"/><stop offset="0.4248" stop-color="#0025dd"/><stop offset="0.4361" stop-color="#005ddd"/><stop offset="0.4436" stop-color="#0067dd"/><stop offset="0.4474" stop-color="#0070dd"/><stop offset="0.4586" stop-color="#007add"/><stop offset="0.5639" stop-color="#007ddd"/><stop offset="0.5714" stop-color="#0078dd"/><stop offset="0.5771" stop-color="#0067dd"/><stop offset="0.5921" stop-color="#001cdd"/><stop offset="0.5977" stop-color="#0013dd"/><stop offset="0.6034" stop-color="#0000dd"/><stop offset="0.6372" stop-color="#0000c5"/><stop offset="0.6541" stop-color="#0300aa"/><stop offset="0.6579" stop-color="#1800a7"/><stop offset="0.6598" stop-color="#1800a7"/><stop offset="0.6673" stop-color="#4300a2"/><stop offset="0.6711" stop-color="#4d00a0"/><stop offset="0.6805" stop-color="#83009a"/><stop offset="0.7425" stop-color="#810092"/><stop offset="0.7444" stop-color="#0085dd"/><stop offset="0.7500" stop-color="#0085dd"/><stop offset="0.7519" stop-color="#2d00a4"/><stop offset="0.7575" stop-color="#2d00a4"/><stop offset="0.7594" stop-color="#0085dd"/><stop offset="0.7669" stop-color="#0085dd"/><stop offset="0.7688" stop-color="#0000dd"/><stop offset="0.7707" stop-color="#0000dd"/><stop offset="0.7726" stop-color="#0080dd"/><stop offset="0.7763" stop-color="#0080dd"/><stop offset="0.7782" stop-color="#0000dd"/><stop offset="0.7801" stop-color="#0000dd"/><stop offset="0.7820" stop-color="#0080dd"/><stop offset="0.7895" stop-color="#0080dd"/><stop offset="0.7914" stop-color="#0000dd"/><stop offset="0.7951" stop-color="#0000dd"/><stop offset="0.7970" stop-color="#008ddd"/><stop offset="0.8064" stop-color="#008ddd"/><stop offset="0.8083" stop-color="#0000d1"/><stop offset="0.8233" stop-color="#0000d1"/><stop offset="0.8252" stop-color="#810092"/><stop offset="0.8402" stop-color="#79008a"/><stop offset="0.8590" stop-color="#770088"/><stop offset="0.8628" stop-color="#700080"/><stop offset="0.8703" stop-color="#700080"/><stop offset="0.8722" stop-color="#670075"/><stop offset="0.8797" stop-color="#670075"/><stop offset="0.8835" stop-color="#5d006b"/><stop offset="0.8853" stop-color="#5d006b"/><stop offset="0.8872" stop-color="#540060"/><stop offset="0.8929" stop-color="#540060"/><stop offset="0.8947" stop-color="#4b0055"/><stop offset="0.9004" stop-color="#4b0055"/><stop offset="0.9041" stop-color="#41004b"/><stop offset="0.9079" stop-color="#41004b"/><stop offset="0.9098" stop-color="#380040"/><stop offset="0.9154" stop-color="#380040"/><stop offset="0.9173" stop-color="#2f0035"/><stop offset="0.9229" stop-color="#2f0035"/><stop offset="0.9267" stop-color="#25002b"/><stop offset="0.9305" stop-color="#25002b"/><stop offset="0.9323" stop-color="#1c0020"/><stop offset="0.9380" stop-color="#1c0020"/><stop offset="0.9398" stop-color="#130015"/><stop offset="0.9455" stop-color="#130015"/><stop offset="0.9474" stop-color="#09000b"/><stop offset="0.9530" stop-color="#09000b"/><stop offset="0.9549" stop-color="#000000"/><stop offset="1.0000" stop-color="#000000"/></linearGradient><linearGradient id="r12"><stop offset="0.0000" stop-color="#25002b"/><stop offset="0.0752" stop-color="#25002b"/><stop offset="0.0771" stop-color="#1c0020"/><stop offset="0.1372" stop-color="#1c0020"/><stop offset="0.1391" stop-color="#25002b"/><stop offset="0.1429" stop-color="#2f0035"/><stop offset="0.1447" stop-color="#380040"/><stop offset="0.1466" stop-color="#380040"/><stop offset="0.1523" stop-color="#540060"/><stop offset="0.1541" stop-color="#540060"/><stop offset="0.1617" stop-color="#770088"/><stop offset="0.1955" stop-color="#870098"/><stop offset="0.1992" stop-color="#63009e"/><stop offset="0.2011" stop-color="#4300a2"/><stop offset="0.2030" stop-color="#0300aa"/><stop offset="0.2049" stop-color="#0000c9"/><stop offset="0.2086" stop-color="#0000d9"/><stop offset="0.2199" stop-color="#0000dd"/><stop offset="0.2237" stop-color="#0009dd"/><stop offset="0.2274" stop-color="#0013dd"/><stop offset="0.2312" stop-color="#0025dd"/><stop offset="0.2331" stop-color="#0038dd"/><stop offset="0.2669" stop-color="#0038dd"/><stop offset="0.2726" stop-color="#0025dd"/><stop offset="0.2782" stop-color="#0009dd"/><stop offset="0.3158" stop-color="#0009dd"/><stop offset="0.3195" stop-color="#0000dd"/><stop offset="0.4023" stop-color="#0000dd"/><stop offset="0.4060" stop-color="#0009dd"/><stop offset="0.4173" stop-color="#0009dd"/><stop offset="0.4248" stop-color="#002fdd"/><stop offset="0.4286" stop-color="#0038dd"/><stop offset="0.4380" stop-color="#0067dd"/><stop offset="0.4417" stop-color="#0067dd"/><stop offset="0.4455" stop-color="#0070dd"/><stop offset="0.4568" stop-color="#007add"/><stop offset="0.5658" stop-color="#007ddd"/><stop offset="0.5733" stop-color="#0078dd"/><stop offset="0.5921" stop-color="#001cdd"/><stop offset="0.5977" stop-color="#0013dd"/><stop offset="0.6034" stop-color="#0000dd"/><stop offset="0.6372" stop-color="#0000c5"/><stop offset="0.6541" stop-color="#0300aa"/><stop offset="0.6579" stop-color="#1800a7"/><stop offset="0.6598" stop-color="#1800a7"/><stop offset="0.6673" stop-color="#4300a2"/><stop offset="0.6711" stop-color="#4d00a0"/><stop offset="0.6805" stop-color="#83009a"/><stop offset="0.7425" stop-color="#810092"/><stop offset="0.7444" stop-color="#0085dd"/><stop offset="0.7500" stop-color="#0085dd"/><stop offset="0.7519" stop-color="#2d00a4"/><stop offset="0.7575" stop-color="#2d00a4"/><stop offset="0.7594" stop-color="#0085dd"/><stop offset="0.7669" stop-color="#0085dd"/><stop offset="0.7688" stop-color="#0000dd"/><stop offset="0.7707" stop-color="#0000dd"/><stop offset="0.7726" stop-color="#0080dd"/><stop offset="0.7763" stop-color="#0080dd"/><stop offset="0.7782" stop-color="#0000dd"/><stop offset="0.7801" stop-color="#0000dd"/><stop offset="0.7820" stop-color="#0080dd"/><stop offset="0.7895" stop-color="#0080dd"/><stop offset="0.7914" stop-color="#0000dd"/><stop offset="0.7951" stop-color="#0000dd"/><stop offset="0.7970" stop-color="#008ddd"/><stop offset="0.8064" stop-color="#008ddd"/><stop offset="0.8083" stop-color="#0000d1"/><stop offset="0.8233" stop-color="#0000d1"/><stop offset="0.8252" stop-color="#810092"/><stop offset="0.8402" stop-color="#79008a"/><stop offset="0.8590" stop-color="#770088"/><stop offset="0.8628" stop-color="#700080"/><stop offset="0.8703" stop-color="#700080"/><stop offset="0.8722" stop-color="#670075"/><stop offset="0.8797" stop-color="#670075"/><stop offset="0.8835" stop-color="#5d006b"/><stop offset="0.8853" stop-color="#5d006b"/><stop offset="0.8872" stop-color="#540060"/><stop offset="0.8929" stop-color="#540060"/><stop offset="0.8947" stop-color="#4b0055"/><stop offset="0.9004" stop-color="#4b0055"/><stop offset="0.9041" stop-color="#41004b"/><stop offset="0.9079" stop-color="#41004b"/><stop offset="0.9098" stop-color="#380040"/><stop offset="0.9154" stop-color="#380040"/><stop offset="0.9173" stop-color="#2f0035"/><stop offset="0.9229" stop-color="#2f0035"/><stop offset="0.9267" stop-color="#25002b"/><stop offset="0.9305" stop-color="#25002b"/><stop offset="0.9323" stop-color="#1c0020"/><stop offset="0.9380" stop-color="#1c0020"/><stop offset="0.9398" stop-color="#130015"/><stop offset="0.9455" stop-color="#130015"/><stop offset="0.9474" stop-color="#09000b"/><stop offset="0.9530" stop-color="#09000b"/><stop offset="0.9549" stop-color="#000000"/><stop offset="1.0000" stop-color="#000000"/></linearGradient><linearGradient id="r13"><stop offset="0.0000" stop-color="#25002b"/><stop offset="0.0752" stop-color="#25002b"/><stop offset="0.0771" stop-color="#1c0020"/><stop offset="0.1372" stop-color="#1c0020"/><stop offset="0.1391" stop-color="#25002b"/><stop offset="0.1429" stop-color="#2f0035"/><stop offset="0.1447" stop-color="#380040"/><stop offset="0.1466" stop-color="#380040"/><stop offset="0.1523" stop-color="#540060"/><stop offset="0.1541" stop-color="#540060"/><stop offset="0.1617" stop-color="#770088"/><stop offset="0.1955" stop-color="#870098"/><stop offset="0.1992" stop-color="#63009e"/><stop offset="0.2011" stop-color="#4300a2"/><stop offset="0.2030" stop-color="#0300aa"/><stop offset="0.2049" stop-color="#0000c9"/><stop offset="0.2086" stop-color="#0000d9"/><stop offset="0.2199" stop-color="#0000dd"/><stop offset="0.2237" stop-color="#0009dd"/><stop offset="0.2274" stop-color="#0013dd"/><stop offset="0.2331" stop-color="#002fdd"/><stop offset="0.2669" stop-color="#002fdd"/><stop offset="0.2744" stop-color="#0013dd"/><stop offset="0.2820" stop-color="#0009dd"/><stop offset="0.3158" stop-color="#0009dd"/><stop offset="0.3195" stop-color="#0000dd"/><stop offset="0.4023" stop-color="#0000dd"/><stop offset="0.4060" stop-color="#0009dd"/><stop offset="0.4173" stop-color="#0009dd"/><stop offset="0.4211" stop-color="#001cdd"/><stop offset="0.4248" stop-color="#0025dd"/><stop offset="0.4342" stop-color="#0054dd"/><stop offset="0.4398" stop-color="#005ddd"/><stop offset="0.4436" stop-color="#0067dd"/><stop offset="0.4568" stop-color="#0078dd"/><stop offset="0.5695" stop-color="#0078dd"/><stop offset="0.5752" stop-color="#0067dd"/><stop offset="0.5789" stop-color="#0054dd"/><stop offset="0.5827" stop-color="#004bdd"/><stop offset="0.5921" stop-color="#001cdd"/><stop offset="0.5977" stop-color="#0013dd"/><stop offset="0.6034" stop-color="#0000dd"/><stop offset="0.6372" stop-color="#0000c5"/><stop offset="0.6541" stop-color="#0300aa"/><stop offset="0.6579" stop-color="#1800a7"/><stop offset="0.6598" stop-color="#1800a7"/><stop offset="0.6673" stop-color="#4300a2"/><stop offset="0.6711" stop-color="#4d00a0"/><stop offset="0.6805" stop-color="#83009a"/><stop offset="0.7425" stop-color="#810092"/><stop offset="0.7444" stop-color="#0085dd"/><stop offset="0.7500" stop-color="#0085dd"/><stop offset="0.7519" stop-color="#2d00a4"/><stop offset="0.7575" stop-color="#2d00a4"/><stop offset="0.7594" stop-color="#0085dd"/><stop offset="0.7669" stop-color="#0085dd"/><stop offset="0.7688" stop-color="#0000dd"/><stop offset="0.7707" stop-color="#0000dd"/><stop offset="0.7726" stop-color="#0080dd"/><stop offset="0.7763" stop-color="#0080dd"/><stop offset="0.7782" stop-color="#0000dd"/><stop offset="0.7801" stop-color="#0000dd"/><stop offset="0.7820" stop-color="#0080dd"/><stop offset="0.7895" stop-color="#0080dd"/><stop offset="0.7914" stop-color="#0000dd"/><stop offset="0.7951" stop-color="#0000dd"/><stop offset="0.7970" stop-color="#008ddd"/><stop offset="0.8064" stop-color="#008ddd"/><stop offset="0.8083" stop-color="#0000d1"/><stop offset="0.8233" stop-color="#0000d1"/><stop offset="0.8252" stop-color="#810092"/><stop offset="0.8402" stop-color="#79008a"/><stop offset="0.8590" stop-color="#770088"/><stop offset="0.8628" stop-color="#700080"/><stop offset="0.8703" stop-color="#700080"/><stop offset="0.8722" stop-color="#670075"/><stop offset="0.8797" stop-color="#670075"/><stop offset="0.8835" stop-color="#5d006b"/><stop offset="0.8853" stop-color="#5d006b"/><stop offset="0.8872" stop-color="#540060"/><stop offset="0.8929" stop-color="#540060"/><stop offset="0.8947" stop-color="#4b0055"/><stop offset="0.9004" stop-color="#4b0055"/><stop offset="0.9041" stop-color="#41004b"/><stop offset="0.9079" stop-color="#41004b"/><stop offset="0.9098" stop-color="#380040"/><stop offset="0.9154" stop-color="#380040"/><stop offset="0.9173" stop-color="#2f0035"/><stop offset="0.9229" stop-color="#2f0035"/><stop offset="0.9267" stop-color="#25002b"/><stop offset="0.9305" stop-color="#25002b"/><stop offset="0.9323" stop-color="#1c0020"/><stop offset="0.9380" stop-color="#1c0020"/><stop offset="0.9398" stop-color="#130015"/><stop offset="0.9455" stop-color="#130015"/><stop offset="0.9474" stop-color="#09000b"/><stop offset="0.9530" stop-color="#09000b"/><stop offset="0.9549" stop-color="#000000"/><stop offset="1.0000" stop-color="#000000"/></linearGradient><linearGradient id="r14"><stop offset="0.0000" stop-color="#25002b"/><stop offset="0.0752" stop-color="#25002b"/><stop offset="0.0771" stop-color="#1c0020"/><stop offset="0.1372" stop-color="#1c0020"/><stop offset="0.1391" stop-color="#25002b"/><stop offset="0.1429" stop-color="#2f0035"/><stop offset="0.1447" stop-color="#380040"/><stop offset="0.1466" stop-color="#380040"/><stop offset="0.1523" stop-color="#540060"/><stop offset="0.1541" stop-color="#540060"/><stop offset="0.1617" stop-color="#770088"/><stop offset="0.1955" stop-color="#870098"/><stop offset="0.1992" stop-color="#63009e"/><stop offset="0.2011" stop-color="#4300a2"/><stop offset="0.2030" stop-color="#0300aa"/><stop offset="0.2049" stop-color="#0000c9"/><stop offset="0.2068" stop-color="#0000d5"/><stop offset="0.2256" stop-color="#0000dd"/><stop offset="0.2293" stop-color="#0009dd"/><stop offset="0.2763" stop-color="#0009dd"/><stop offset="0.2801" stop-color="#0000dd"/><stop offset="0.4173" stop-color="#0000dd"/><stop offset="0.4229" stop-color="#001cdd"/><stop offset="0.4267" stop-color="#0025dd"/><stop offset="0.4342" stop-color="#0041dd"/><stop offset="0.4380" stop-color="#004bdd"/><stop offset="0.4455" stop-color="#0054dd"/><stop offset="0.4530" stop-color="#005ddd"/><stop offset="0.4568" stop-color="#005ddd"/><stop offset="0.4605" stop-color="#0067dd"/><stop offset="0.5075" stop-color="#0067dd"/><stop offset="0.5113" stop-color="#0070dd"/><stop offset="0.5639" stop-color="#0070dd"/><stop offset="0.5771" stop-color="#004bdd"/><stop offset="0.5827" stop-color="#0038dd"/><stop offset="0.5865" stop-color="#002fdd"/><stop offset="0.5921" stop-color="#001cdd"/><stop offset="0.5977" stop-color="#0013dd"/><stop offset="0.6034" stop-color="#0000dd"/><stop offset="0.6372" stop-color="#0000c5"/><stop offset="0.6541" stop-color="#0300aa"/><stop offset="0.6579" stop-color="#1800a7"/><stop offset="0.6598" stop-color="#1800a7"/><stop offset="0.6673" stop-color="#4300a2"/><stop offset="0.6711" stop-color="#4d00a0"/><stop offset="0.6805" stop-color="#83009a"/><stop offset="0.7425" stop-color="#810092"/><stop offset="0.7444" stop-color="#0085dd"/><stop offset="0.7500" stop-color="#0085dd"/><stop offset="0.7519" stop-color="#2d00a4"/><stop offset="0.7575" stop-color="#2d00a4"/><stop offset="0.7594" stop-color="#0085dd"/><stop offset="0.7669" stop-color="#0085dd"/><stop offset="0.7688" stop-color="#0000dd"/><stop offset="0.7707" stop-color="#0000dd"/><stop offset="0.7726" stop-color="#0080dd"/><stop offset="0.7763" stop-color="#0080dd"/><stop offset="0.7782" stop-color="#0000dd"/><stop offset="0.7801" stop-color="#0000dd"/><stop offset="0.7820" stop-color="#0080dd"/><stop offset="0.7895" stop-color="#0080dd"/><stop offset="0.7914" stop-color="#0000dd"/><stop offset="0.7951" stop-color="#0000dd"/><stop offset="0.7970" stop-color="#008ddd"/><stop offset="0.8064" stop-color="#008ddd"/><stop offset="0.8083" stop-color="#0000d1"/><stop offset="0.8233" stop-color="#0000d1"/><stop offset="0.8252" stop-color="#810092"/><stop offset="0.8402" stop-color="#79008a"/><stop offset="0.8590" stop-color="#770088"/><stop offset="0.8628" stop-color="#700080"/><stop offset="0.8703" stop-color="#700080"/><stop offset="0.8722" stop-color="#670075"/><stop offset="0.8797" stop-color="#670075"/><stop offset="0.8835" stop-color="#5d006b"/><stop offset="0.8853" stop-color="#5d006b"/><stop offset="0.8872" stop-color="#540060"/><stop offset="0.8929" stop-color="#540060"/><stop offset="0.8947" stop-color="#4b0055"/><stop offset="0.9004" stop-color="#4b0055"/><stop offset="0.9041" stop-color="#41004b"/><stop offset="0.9079" stop-color="#41004b"/><stop offset="0.9098" stop-color="#380040"/><stop offset="0.9154" stop-color="#380040"/><stop offset="0.9173" stop-color="#2f0035"/><stop offset="0.9229" stop-color="#2f0035"/><stop offset="0.9267" stop-color="#25002b"/><stop offset="0.9305" stop-color="#25002b"/><stop offset="0.9323" stop-color="#1c0020"/><stop offset="0.9380" stop-color="#1c0020"/><stop offset="0.9398" stop-color="#130015"/><stop offset="0.9455" stop-color="#130015"/><stop offset="0.9474" stop-color="#09000b"/><stop offset="0.9530" stop-color="#09000b"/><stop offset="0.9549" stop-color="#000000"/><stop offset="1.0000" stop-color="#000000"/></linearGradient><linearGradient id="r15"><stop offset="0.0000" stop-color="#25002b"/><stop offset="0.0752" stop-color="#25002b"/><stop offset="0.0771" stop-color="#1c0020"/><stop offset="0.1372" stop-color="#1c0020"/><stop offset="0.1391" stop-color="#25002b"/><stop offset="0.1429" stop-color="#2f0035"/><stop offset="0.1447" stop-color="#380040"/><stop offset="0.1466" stop-color="#380040"/><stop offset="0.1523" stop-color="#540060"/><stop offset="0.1541" stop-color="#540060"/><stop offset="0.1617" stop-color="#770088"/><stop offset="0.1955" stop-color="#870098"/><stop offset="0.1992" stop-color="#63009e"/><stop offset="0.2011" stop-color="#4300a2"/><stop offset="0.2030" stop-color="#0300aa"/><stop offset="0.2049" stop-color="#0000c9"/><stop offset="0.2086" stop-color="#0000d9"/><stop offset="0.2199" stop-color="#0000dd"/><stop offset="0.2237" stop-color="#0009dd"/><stop offset="0.2274" stop-color="#0013dd"/><stop offset="0.2331" stop-color="#004bdd"/><stop offset="0.2368" stop-color="#0054dd"/><stop offset="0.2669" stop-color="#0054dd"/><stop offset="0.2688" stop-color="#004bdd"/><stop offset="0.2726" stop-color="#002fdd"/><stop offset="0.2763" stop-color="#001cdd"/><stop offset="0.2782" stop-color="#0009dd"/><stop offset="0.3158" stop-color="#0009dd"/><stop offset="0.3195" stop-color="#0000dd"/><stop offset="0.4023" stop-color="#0000dd"/><stop offset="0.4060" stop-color="#0009dd"/><stop offset="0.4173" stop-color="#0009dd"/><stop offset="0.4248" stop-color="#0025dd"/><stop offset="0.4286" stop-color="#0038dd"/><stop offset="0.4323" stop-color="#0041dd"/><stop offset="0.4361" stop-color="#0054dd"/><stop offset="0.4398" stop-color="#0054dd"/><stop offset="0.4436" stop-color="#005ddd"/><stop offset="0.4511" stop-color="#0067dd"/><stop offset="0.4586" stop-color="#0070dd"/><stop offset="0.4944" stop-color="#0070dd"/><stop offset="0.4981" stop-color="#0078dd"/><stop offset="0.5639" stop-color="#0078dd"/><stop offset="0.5714" stop-color="#0067dd"/><stop offset="0.5752" stop-color="#005ddd"/><stop offset="0.5789" stop-color="#004bdd"/><stop offset="0.5827" stop-color="#0041dd"/><stop offset="0.5883" stop-color="#0025dd"/><stop offset="0.5977" stop-color="#0013dd"/><stop offset="0.6034" stop-color="#0000dd"/><stop offset="0.6372" stop-color="#0000c5"/><stop offset="0.6541" stop-color="#0300aa"/><stop offset="0.6579" stop-color="#1800a7"/><stop offset="0.6598" stop-color="#1800a7"/><stop offset="0.6673" stop-color="#4300a2"/><stop offset="0.6711" stop-color="#4d00a0"/><stop offset="0.6805" stop-color="#83009a"/><stop offset="0.7425" stop-color="#810092"/><stop offset="0.7444" stop-color="#0085dd"/><stop offset="0.7500" stop-color="#0085dd"/><stop offset="0.7519" stop-color="#2d00a4"/><stop offset="0.7575" stop-color="#2d00a4"/><stop offset="0.7594" stop-color="#0085dd"/><stop offset="0.7669" stop-color="#0085dd"/><stop offset="0.7688" stop-color="#0000dd"/><stop offset="0.7707" stop-color="#0000dd"/><stop offset="0.7726" stop-color="#0080dd"/><stop offset="0.7763" stop-color="#0080dd"/><stop offset="0.7782" stop-color="#0000dd"/><stop offset="0.7801" stop-color="#0000dd"/><stop offset="0.7820" stop-color="#0080dd"/><stop offset="0.7895" stop-color="#0080dd"/><stop offset="0.7914" stop-color="#0000dd"/><stop offset="0.7951" stop-color="#0000dd"/><stop offset="0.7970" stop-color="#008ddd"/><stop offset="0.8064" stop-color="#008ddd"/><stop offset="0.8083" stop-color="#0000d1"/><stop offset="0.8233" stop-color="#0000d1"/><stop offset="0.8252" stop-color="#810092"/><stop offset="0.8402" stop-color="#79008a"/><stop offset="0.8590" stop-color="#770088"/><stop offset="0.8628" stop-color="#700080"/><stop offset="0.8703" stop-color="#700080"/><stop offset="0.8722" stop-color="#670075"/><stop offset="0.8797" stop-color="#670075"/><stop offset="0.8835" stop-color="#5d006b"/><stop offset="0.8853" stop-color="#5d006b"/><stop offset="0.8872" stop-color="#540060"/><stop offset="0.8929" stop-color="#540060"/><stop offset="0.8947" stop-color="#4b0055"/><stop offset="0.9004" stop-color="#4b0055"/><stop offset="0.9041" stop-color="#41004b"/><stop offset="0.9079" stop-color="#41004b"/><stop offset="0.9098" stop-color="#380040"/><stop offset="0.9154" stop-color="#380040"/><stop offset="0.9173" stop-color="#2f0035"/><stop offset="0.9229" stop-color="#2f0035"/><stop offset="0.9267" stop-color="#25002b"/><stop offset="0.9305" stop-color="#25002b"/><stop offset="0.9323" stop-color="#1c0020"/><stop offset="0.9380" stop-color="#1c0020"/><stop offset="0.9398" stop-color="#130015"/><stop offset="0.9455" stop-color="#130015"/><stop offset="0.9474" stop-color="#09000b"/><stop offset="0.9530" stop-color="#09000b"/><stop offset="0.9549" stop-color="#000000"/><stop offset="1.0000" stop-color="#000000"/></linearGradient><linearGradient id="r16"><stop offset="0.0000" stop-color="#25002b"/><stop offset="0.0752" stop-color="#25002b"/><stop offset="0.0771" stop-color="#1c0020"/><stop offset="0.1372" stop-color="#1c0020"/><stop offset="0.1391" stop-color="#25002b"/><stop offset="0.1429" stop-color="#2f0035"/><stop offset="0.1447" stop-color="#380040"/><stop offset="0.1466" stop-color="#380040"/><stop offset="0.1523" stop-color="#540060"/><stop offset="0.1541" stop-color="#540060"/><stop offset="0.1617" stop-color="#770088"/><stop offset="0.1955" stop-color="#870098"/><stop offset="0.1992" stop-color="#63009e"/><stop offset="0.2011" stop-color="#4300a2"/><stop offset="0.2030" stop-color="#0300aa"/><stop offset="0.2049" stop-color="#0000c9"/><stop offset="0.2086" stop-color="#0000d9"/><stop offset="0.2199" stop-color="#0000dd"/><stop offset="0.2237" stop-color="#0009dd"/><stop offset="0.2274" stop-color="#0009dd"/><stop offset="0.2312" stop-color="#0013dd"/><stop offset="0.2726" stop-color="#0013dd"/><stop offset="0.2763" stop-color="#0009dd"/><stop offset="0.3158" stop-color="#0009dd"/><stop offset="0.3195" stop-color="#0000dd"/><stop offset="0.3891" stop-color="#0000dd"/><stop offset="0.3910" stop-color="#007ddd"/><stop offset="0.3947" stop-color="#007ddd"/><stop offset="0.3966" stop-color="#005ddd"/><stop offset="0.4361" stop-color="#005ddd"/><stop offset="0.4398" stop-color="#0054dd"/><stop offset="0.4436" stop-color="#005ddd"/><stop offset="0.4511" stop-color="#0067dd"/><stop offset="0.4586" stop-color="#0070dd"/><stop offset="0.4944" stop-color="#0070dd"/><stop offset="0.4981" stop-color="#0078dd"/><stop offset="0.5639" stop-color="#0078dd"/><stop offset="0.5714" stop-color="#0067dd"/><stop offset="0.5752" stop-color="#005ddd"/><stop offset="0.5789" stop-color="#004bdd"/><stop offset="0.5827" stop-color="#0041dd"/><stop offset="0.5883" stop-color="#0025dd"/><stop offset="0.5977" stop-color="#0013dd"/><stop offset="0.6034" stop-color="#0000dd"/><stop offset="0.6372" stop-color="#0000c5"/><stop offset="0.6541" stop-color="#0300aa"/><stop offset="0.6579" stop-color="#1800a7"/><stop offset="0.6598" stop-color="#1800a7"/><stop offset="0.6673" stop-color="#4300a2"/><stop offset="0.6711" stop-color="#4d00a0"/><stop offset="0.6805" stop-color="#83009a"/><stop offset="0.7425" stop-color="#810092"/><stop offset="0.7444" stop-color="#0085dd"/><stop offset="0.7500" stop-color="#0085dd"/><stop offset="0.7519" stop-color="#2d00a4"/><stop offset="0.7575" stop-color="#2d00a4"/><stop offset="0.7594" stop-color="#0085dd"/><stop offset="0.7669" stop-color="#0085dd"/><stop offset="0.7688" stop-color="#0000dd"/><stop offset="0.7707" stop-color="#0000dd"/><stop offset="0.7726" stop-color="#0080dd"/><stop offset="0.7763" stop-color="#0080dd"/><stop offset="0.7782" stop-color="#0000dd"/><stop offset="0.7801" stop-color="#0000dd"/><stop offset="0.7820" stop-color="#0080dd"/><stop offset="0.7895" stop-color="#0080dd"/><stop offset="0.7914" stop-color="#0000dd"/><stop offset="0.7951" stop-color="#0000dd"/><stop offset="0.7970" stop-color="#008ddd"/><stop offset="0.8064" stop-color="#008ddd"/><stop offset="0.8083" stop-color="#0000d1"/><stop offset="0.8233" stop-color="#0000d1"/><stop offset="0.8252" stop-color="#810092"/><stop offset="0.8402" stop-color="#79008a"/><stop offset="0.8590" stop-color="#770088"/><stop offset="0.8628" stop-color="#700080"/><stop offset="0.8703" stop-color="#700080"/><stop offset="0.8722" stop-color="#670075"/><stop offset="0.8797" stop-color="#670075"/><stop offset="0.8835" stop-color="#5d006b"/><stop offset="0.8853" stop-color="#5d006b"/><stop offset="0.8872" stop-color="#540060"/><stop offset="0.8929" stop-color="#540060"/><stop offset="0.8947" stop-color="#4b0055"/><stop offset="0.9004" stop-color="#4b0055"/><stop offset="0.9041" stop-color="#41004b"/><stop offset="0.9079" stop-color="#41004b"/><stop offset="0.9098" stop-color="#380040"/><stop offset="0.9154" stop-color="#380040"/><stop offset="0.9173" stop-color="#2f0035"/><stop offset="0.9229" stop-color="#2f0035"/><stop offset="0.9267" stop-color="#25002b"/><stop offset="0.9305" stop-color="#25002b"/><stop offset="0.9323" stop-color="#1c0020"/><stop offset="0.9380" stop-color="#1c0020"/><stop offset="0.9398" stop-color="#130015"/><stop offset="0.9455" stop-color="#130015"/><stop offset="0.9474" stop-color="#09000b"/><stop offset="0.9530" stop-color="#09000b"/><stop offset="0.9549" stop-color="#000000"/><stop offset="1.0000" stop-color="#000000"/></linearGradient><linearGradient id="r17"><stop offset="0.0000" stop-color="#25002b"/><stop offset="0.0752" stop-color="#25002b"/><stop offset="0.0771" stop-color="#1c0020"/><stop offset="0.1297" stop-color="#1c0020"/><stop offset="0.1316" stop-color="#25002b"/><stop offset="0.1353" stop-color="#2f0035"/><stop offset="0.1372" stop-color="#380040"/><stop offset="0.1391" stop-color="#380040"/><stop offset="0.1447" stop-color="#540060"/><stop offset="0.1466" stop-color="#540060"/><stop offset="0.1541" stop-color="#770088"/><stop offset="0.1955" stop-color="#870098"/><stop offset="0.1992" stop-color="#63009e"/><stop offset="0.2011" stop-color="#4300a2"/><stop offset="0.2030" stop-color="#0300aa"/><stop offset="0.2049" stop-color="#0000c9"/><stop offset="0.2086" stop-color="#0000d1"/><stop offset="0.4173" stop-color="#0000d5"/><stop offset="0.4417" stop-color="#0000d9"/><stop offset="0.4774" stop-color="#0000dd"/><stop offset="0.4812" stop-color="#0009dd"/><stop offset="0.4868" stop-color="#0009dd"/><stop offset="0.4906" stop-color="#0000dd"/><stop offset="0.5150" stop-color="#0000bd"/><stop offset="0.5301" stop-color="#0000dd"/><stop offset="0.5620" stop-color="#0000c5"/><stop offset="0.5789" stop-color="#0300aa"/><stop offset="0.5827" stop-color="#1800a7"/><stop offset="0.5846" stop-color="#1800a7"/><stop offset="0.5921" stop-color="#4300a2"/><stop offset="0.5959" stop-color="#4d00a0"/><stop offset="0.6053" stop-color="#83009a"/><stop offset="0.6711" stop-color="#820093"/><stop offset="0.7425" stop-color="#810092"/><stop offset="0.7444" stop-color="#0085dd"/><stop offset="0.7500" stop-color="#0085dd"/><stop offset="0.7519" stop-color="#2d00a4"/><stop offset="0.7575" stop-color="#2d00a4"/><stop offset="0.7594" stop-color="#0085dd"/><stop offset="0.7669" stop-color="#0085dd"/><stop offset="0.7688" stop-color="#0000dd"/><stop offset="0.7707" stop-color="#0000dd"/><stop offset="0.7726" stop-color="#0080dd"/><stop offset="0.7763" stop-color="#0080dd"/><stop offset="0.7782" stop-color="#0000dd"/><stop offset="0.7801" stop-color="#0000dd"/><stop offset="0.7820" stop-color="#0080dd"/><stop offset="0.7895" stop-color="#0080dd"/><stop offset="0.7914" stop-color="#0000dd"/><stop offset="0.7951" stop-color="#0000dd"/><stop offset="0.7970" stop-color="#008ddd"/><stop offset="0.8064" stop-color="#008ddd"/><stop offset="0.8083" stop-color="#0000d1"/><stop offset="0.8233" stop-color="#0000d1"/><stop offset="0.8252" stop-color="#810092"/><stop offset="0.8402" stop-color="#79008a"/><stop offset="0.8590" stop-color="#770088"/><stop offset="0.8628" stop-color="#700080"/><stop offset="0.8703" stop-color="#700080"/><stop offset="0.8722" stop-color="#670075"/><stop offset="0.8797" stop-color="#670075"/><stop offset="0.8835" stop-color="#5d006b"/><stop offset="0.8853" stop-color="#5d006b"/><stop offset="0.8872" stop-color="#540060"/><stop offset="0.8929" stop-color="#540060"/><stop offset="0.8947" stop-color="#4b0055"/><stop offset="0.9004" stop-color="#4b0055"/><stop offset="0.9041" stop-color="#41004b"/><stop offset="0.9079" stop-color="#41004b"/><stop offset="0.9098" stop-color="#380040"/><stop offset="0.9154" stop-color="#380040"/><stop offset="0.9173" stop-color="#2f0035"/><stop offset="0.9229" stop-color="#2f0035"/><stop offset="0.9267" stop-color="#25002b"/><stop offset="0.9305" stop-color="#25002b"/><stop offset="0.9323" stop-color="#1c0020"/><stop offset="0.9380" stop-color="#1c0020"/><stop offset="0.9398" stop-color="#130015"/><stop offset="0.9455" stop-color="#130015"/><stop offset="0.9474" stop-color="#09000b"/><stop offset="0.9530" stop-color="#09000b"/><stop offset="0.9549" stop-color="#000000"/><stop offset="1.0000" stop-color="#000000"/></linearGradient><linearGradient id="r18"><stop offset="0.0000" stop-color="#25002b"/><stop offset="0.0752" stop-color="#25002b"/><stop offset="0.0771" stop-color="#1c0020"/><stop offset="0.1297" stop-color="#1c0020"/><stop offset="0.1316" stop-color="#25002b"/><stop offset="0.1353" stop-color="#2f0035"/><stop offset="0.1372" stop-color="#380040"/><stop offset="0.1391" stop-color="#380040"/><stop offset="0.1447" stop-color="#540060"/><stop offset="0.1466" stop-color="#540060"/><stop offset="0.1541" stop-color="#770088"/><stop offset="0.1955" stop-color="#870098"/><stop offset="0.1992" stop-color="#63009e"/><stop offset="0.2011" stop-color="#4300a2"/><stop offset="0.2030" stop-color="#0300aa"/><stop offset="0.2049" stop-color="#0000c9"/><stop offset="0.2086" stop-color="#0000d9"/><stop offset="0.2199" stop-color="#0000dd"/><stop offset="0.2237" stop-color="#0009dd"/><stop offset="0.2274" stop-color="#0009dd"/><stop offset="0.2312" stop-color="#0013dd"/><stop offset="0.2726" stop-color="#0013dd"/><stop offset="0.2763" stop-color="#0009dd"/><stop offset="0.3158" stop-color="#0009dd"/><stop offset="0.3195" stop-color="#0000dd"/><stop offset="0.4023" stop-color="#0000dd"/><stop offset="0.4060" stop-color="#0009dd"/><stop offset="0.4135" stop-color="#0009dd"/><stop offset="0.4154" stop-color="#007ddd"/><stop offset="0.4192" stop-color="#007ddd"/><stop offset="0.4211" stop-color="#0013dd"/><stop offset="0.4267" stop-color="#0025dd"/><stop offset="0.4323" stop-color="#0038dd"/><stop offset="0.4380" stop-color="#0041dd"/><stop offset="0.4417" stop-color="#004bdd"/><stop offset="0.4474" stop-color="#004bdd"/><stop offset="0.4511" stop-color="#0054dd"/><stop offset="0.4662" stop-color="#0054dd"/><stop offset="0.4699" stop-color="#005ddd"/><stop offset="0.5000" stop-color="#005ddd"/><stop offset="0.5038" stop-color="#0067dd"/><stop offset="0.5282" stop-color="#0067dd"/><stop offset="0.5338" stop-color="#0054dd"/><stop offset="0.5395" stop-color="#004bdd"/><stop offset="0.5451" stop-color="#0038dd"/><stop offset="0.5489" stop-color="#002fdd"/><stop offset="0.5564" stop-color="#0013dd"/><stop offset="0.5602" stop-color="#0013dd"/><stop offset="0.5639" stop-color="#0009dd"/><stop offset="0.5714" stop-color="#0000dd"/><stop offset="0.6034" stop-color="#0000c5"/><stop offset="0.6203" stop-color="#0300aa"/><stop offset="0.6241" stop-color="#1800a7"/><stop offset="0.6259" stop-color="#1800a7"/><stop offset="0.6335" stop-color="#4300a2"/><stop offset="0.6372" stop-color="#4d00a0"/><stop offset="0.6466" stop-color="#83009a"/><stop offset="0.7124" stop-color="#820093"/><stop offset="0.7425" stop-color="#810092"/><stop offset="0.7444" stop-color="#0085dd"/><stop offset="0.7500" stop-color="#0085dd"/><stop offset="0.7519" stop-color="#2d00a4"/><stop offset="0.7575" stop-color="#2d00a4"/><stop offset="0.7594" stop-color="#0085dd"/><stop offset="0.7669" stop-color="#0085dd"/><stop offset="0.7688" stop-color="#0000dd"/><stop offset="0.7707" stop-color="#0000dd"/><stop offset="0.7726" stop-color="#0080dd"/><stop offset="0.7763" stop-color="#0080dd"/><stop offset="0.7782" stop-color="#0000dd"/><stop offset="0.7801" stop-color="#0000dd"/><stop offset="0.7820" stop-color="#0080dd"/><stop offset="0.7895" stop-color="#0080dd"/><stop offset="0.7914" stop-color="#0000dd"/><stop offset="0.7951" stop-color="#0000dd"/><stop offset="0.7970" stop-color="#008ddd"/><stop offset="0.8064" stop-color="#008ddd"/><stop offset="0.8083" stop-color="#0000d1"/><stop offset="0.8233" stop-color="#0000d1"/><stop offset="0.8252" stop-color="#810092"/><stop offset="0.8402" stop-color="#79008a"/><stop offset="0.8590" stop-color="#770088"/><stop offset="0.8628" stop-color="#700080"/><stop offset="0.8703" stop-color="#700080"/><stop offset="0.8722" stop-color="#670075"/><stop offset="0.8797" stop-color="#670075"/><stop offset="0.8835" stop-color="#5d006b"/><stop offset="0.8853" stop-color="#5d006b"/><stop offset="0.8872" stop-color="#540060"/><stop offset="0.8929" stop-color="#540060"/><stop offset="0.8947" stop-color="#4b0055"/><stop offset="0.9004" stop-color="#4b0055"/><stop offset="0.9041" stop-color="#41004b"/><stop offset="0.9079" stop-color="#41004b"/><stop offset="0.9098" stop-color="#380040"/><stop offset="0.9154" stop-color="#380040"/><stop offset="0.9173" stop-color="#2f0035"/><stop offset="0.9229" stop-color="#2f0035"/><stop offset="0.9267" stop-color="#25002b"/><stop offset="0.9305" stop-color="#25002b"/><stop offset="0.9323" stop-color="#1c0020"/><stop offset="0.9380" stop-color="#1c0020"/><stop offset="0.9398" stop-color="#130015"/><stop offset="0.9455" stop-color="#130015"/><stop offset="0.9474" stop-color="#09000b"/><stop offset="0.9530" stop-color="#09000b"/><stop offset="0.9549" stop-color="#000000"/><stop offset="1.0000" stop-color="#000000"/></linearGradient><linearGradient id="r19"><stop offset="0.0000" stop-color="#2f0035"/><stop offset="0.0808" stop-color="#2f0035"/><stop offset="0.0846" stop-color="#25002b"/><stop offset="0.1805" stop-color="#25002b"/><stop offset="0.1842" stop-color="#2f0035"/><stop offset="0.8759" stop-color="#2f0035"/><stop offset="0.8797" stop-color="#25002b"/><stop offset="0.9004" stop-color="#25002b"/><stop offset="0.9023" stop-color="#1c0020"/><stop offset="0.9154" stop-color="#1c0020"/><stop offset="0.9173" stop-color="#130015"/><stop offset="0.9286" stop-color="#130015"/><stop offset="0.9323" stop-color="#09000b"/><stop offset="0.9417" stop-color="#09000b"/><stop offset="0.9436" stop-color="#000000"/><stop offset="1.0000" stop-color="#000000"/></linearGradient><linearGradient id="r20"><stop offset="0.0000" stop-color="#2f0035"/><stop offset="0.0620" stop-color="#2f0035"/><stop offset="0.0658" stop-color="#25002b"/><stop offset="0.0771" stop-color="#25002b"/><stop offset="0.0789" stop-color="#1c0020"/><stop offset="0.9079" stop-color="#1c0020"/><stop offset="0.9098" stop-color="#130015"/><stop offset="0.9248" stop-color="#130015"/><stop offset="0.9286" stop-color="#09000b"/><stop offset="0.9398" stop-color="#09000b"/><stop offset="0.9417" stop-color="#000000"/><stop offset="1.0000" stop-color="#000000"/></linearGradient><clipPath id="cl"><rect x="48.9" y="28.1" width="266.40" height="367.50"/></clipPath><clipPath id="cr"><rect x="328.8" y="28.1" width="266.20" height="367.50"/></clipPath></defs><rect width="640" height="440" fill="#fff"/><g shape-rendering="crispEdges"><rect x="48.9" y="28.10" width="266.40" height="17.00" fill="url(#l0)"/><rect x="48.9" y="44.80" width="266.40" height="17.00" fill="url(#l1)"/><rect x="48.9" y="61.51" width="266.40" height="17.00" fill="url(#l2)"/><rect x="48.9" y="78.21" width="266.40" height="17.00" fill="url(#l3)"/><rect x="48.9" y="94.92" width="266.40" height="17.00" fill="url(#l3)"/><rect x="48.9" y="111.62" width="266.40" height="17.00" fill="url(#l5)"/><rect x="48.9" y="128.33" width="266.40" height="17.00" fill="url(#l6)"/><rect x="48.9" y="145.03" width="266.40" height="17.00" fill="url(#l6)"/><rect x="48.9" y="161.74" width="266.40" height="17.00" fill="url(#l8)"/><rect x="48.9" y="178.44" width="266.40" height="17.00" fill="url(#l9)"/><rect x="48.9" y="195.15" width="266.40" height="17.00" fill="url(#l10)"/><rect x="48.9" y="211.85" width="266.40" height="17.00" fill="url(#l11)"/><rect x="48.9" y="228.55" width="266.40" height="17.00" fill="url(#l12)"/><rect x="48.9" y="245.26" width="266.40" height="17.00" fill="url(#l13)"/><rect x="48.9" y="261.96" width="266.40" height="17.00" fill="url(#l14)"/><rect x="48.9" y="278.67" width="266.40" height="17.00" fill="url(#l15)"/><rect x="48.9" y="295.37" width="266.40" height="17.00" fill="url(#l16)"/><rect x="48.9" y="312.08" width="266.40" height="17.00" fill="url(#l17)"/><rect x="48.9" y="328.78" width="266.40" height="17.00" fill="url(#l18)"/><rect x="48.9" y="345.49" width="266.40" height="17.00" fill="url(#l19)"/><rect x="48.9" y="362.19" width="266.40" height="17.00" fill="url(#l20)"/><rect x="48.9" y="378.90" width="266.40" height="17.00" fill="url(#l20)"/><rect x="328.8" y="28.10" width="266.20" height="17.00" fill="url(#r0)"/><rect x="328.8" y="44.80" width="266.20" height="17.00" fill="url(#r0)"/><rect x="328.8" y="61.51" width="266.20" height="17.00" fill="url(#r2)"/><rect x="328.8" y="78.21" width="266.20" height="17.00" fill="url(#r3)"/><rect x="328.8" y="94.92" width="266.20" height="17.00" fill="url(#r4)"/><rect x="328.8" y="111.62" width="266.20" height="17.00" fill="url(#r5)"/><rect x="328.8" y="128.33" width="266.20" height="17.00" fill="url(#r6)"/><rect x="328.8" y="145.03" width="266.20" height="17.00" fill="url(#r7)"/><rect x="328.8" y="161.74" width="266.20" height="17.00" fill="url(#r8)"/><rect x="328.8" y="178.44" width="266.20" height="17.00" fill="url(#r9)"/><rect x="328.8" y="195.15" width="266.20" height="17.00" fill="url(#r10)"/><rect x="328.8" y="211.85" width="266.20" height="17.00" fill="url(#r11)"/><rect x="328.8" y="228.55" width="266.20" height="17.00" fill="url(#r12)"/><rect x="328.8" y="245.26" width="266.20" height="17.00" fill="url(#r13)"/><rect x="328.8" y="261.96" width="266.20" height="17.00" fill="url(#r14)"/><rect x="328.8" y="278.67" width="266.20" height="17.00" fill="url(#r15)"/><rect x="328.8" y="295.37" width="266.20" height="17.00" fill="url(#r16)"/><rect x="328.8" y="312.08" width="266.20" height="17.00" fill="url(#r17)"/><rect x="328.8" y="328.78" width="266.20" height="17.00" fill="url(#r18)"/><rect x="328.8" y="345.49" width="266.20" height="17.00" fill="url(#r19)"/><rect x="328.8" y="362.19" width="266.20" height="17.00" fill="url(#r20)"/><rect x="328.8" y="378.90" width="266.20" height="17.00" fill="url(#r0)"/></g><g><rect x="232.6" y="95" width="1.0" height="16.70" fill="#0000a8"/><rect x="240.6" y="95" width="1.0" height="16.70" fill="#0000a8"/><rect x="148.0" y="262" width="1.2" height="16.70" fill="#e8e060"/><rect x="147.6" y="262" width="0.5" height="16.70" fill="#e03010"/><rect x="149.1" y="262" width="0.4" height="16.70" fill="#60c000"/><rect x="285.0" y="362" width="1.0" height="16.70" fill="#0060dd"/><rect x="57" y="262" width="28" height="16.70" fill="#20002a"/><rect x="58" y="362.2" width="26.5" height="33.40" fill="#21002a"/><rect x="59" y="28.1" width="25.5" height="16.60" fill="#21002a"/><rect x="66" y="95" width="18" height="16.70" fill="#22002a"/><rect x="72.5" y="312" width="9" height="16.70" fill="#22002a"/><rect x="447.3" y="45" width="0.9" height="16.50" fill="#009a00"/><rect x="435.1" y="95" width="1.8" height="16.70" fill="#00aa88"/><rect x="511.9" y="95" width="1.8" height="16.70" fill="#0000c0"/><rect x="521.0" y="95" width="0.9" height="16.70" fill="#0000c0"/><rect x="428.3" y="262" width="0.8" height="16.70" fill="#e02000"/><rect x="437.1" y="278.5" width="1.0" height="16.70" fill="#00a000"/><rect x="475" y="278.5" width="3" height="16.70" fill="#0090dd"/><rect x="350" y="228" width="15" height="83.52" fill="#20002a"/></g><rect x="48.1" y="28.1" width="1.0" height="77.4" fill="#e6f000"/><rect x="48.1" y="302" width="1.0" height="93.6" fill="#e6f000"/><rect x="48.1" y="302" width="1.0" height="10" fill="#60e000"/><rect x="48.5" y="105.5" width="1.4" height="195" fill="#fff"/><rect x="328.4" y="102.5" width="1.2" height="198" fill="#fff"/><rect x="328.1" y="28.1" width="1.0" height="67" fill="#e6e000"/><rect x="328.1" y="95" width="1.0" height="7.5" fill="#20c020"/><rect x="328.1" y="303" width="1.0" height="92.6" fill="#e6e000"/><rect x="328.1" y="378" width="1.0" height="17.6" fill="#80e000"/><g fill="#fff" font-size="13.9px"><rect x="69.1" y="43.60" width="5.5" height="1.2"/><text x="79" y="49.3">25</text><rect x="350.5" y="43.60" width="5.5" height="1.2"/><text x="359.3" y="49.3">25</text><rect x="69.1" y="91.60" width="5.5" height="1.2"/><text x="79" y="97.3">20</text><rect x="350.5" y="91.60" width="5.5" height="1.2"/><text x="359.3" y="97.3">20</text><rect x="69.1" y="139.60" width="5.5" height="1.2"/><text x="79" y="145.3">15</text><rect x="350.5" y="139.60" width="5.5" height="1.2"/><text x="359.3" y="145.3">15</text><rect x="69.1" y="187.60" width="5.5" height="1.2"/><text x="79" y="193.3">10</text><rect x="350.5" y="187.60" width="5.5" height="1.2"/><text x="359.3" y="193.3">10</text><rect x="69.1" y="235.60" width="5.5" height="1.2"/><text x="79" y="241.3">5</text><rect x="350.5" y="235.60" width="5.5" height="1.2"/><text x="359.3" y="241.3">5</text><rect x="69.1" y="283.60" width="5.5" height="1.2"/><text x="79" y="289.3">0</text><rect x="350.5" y="283.60" width="5.5" height="1.2"/><text x="359.3" y="289.3">0</text></g><g fill="#fff" font-size="13.9px" text-anchor="end" clip-path="url(#cl)"><text x="319.3" y="49.3">25</text><text x="319.3" y="97.3">20</text><text x="319.3" y="145.3">15</text><text x="319.3" y="193.3">10</text><text x="319.3" y="241.3">5</text><text x="319.3" y="289.3">0</text></g><g fill="none" stroke="#fff" stroke-linejoin="round" stroke-linecap="butt" clip-path="url(#cl)"><polyline points="49.0,301.0 83.0,301.5 83.9,299.7 86.6,294.5 89.4,285.0 93.0,270.0 96.6,255.0 99.6,238.0 101.6,227.0 107.0,213.8 109.0,210.9 111.0,206.9 113.0,204.5 115.0,203.3 117.0,202.8 119.0,201.9 121.0,201.7 123.0,201.5 125.0,201.6 127.0,202.9 129.0,204.7 131.0,206.9 133.0,207.9 135.0,208.4 137.0,208.8 139.0,208.3 141.0,214.4 143.0,214.5 145.0,214.5 147.0,212.9 149.0,212.3 151.0,211.8 153.0,210.6 155.0,208.9 157.0,207.9 159.0,206.7 161.0,204.3 163.0,201.8 165.0,200.0 167.0,200.2 169.0,199.1 171.0,197.4 173.0,195.6 175.0,194.3 177.0,193.5 179.0,193.1 181.0,194.0 183.0,194.3 185.0,193.7 187.0,193.1 189.0,193.1 191.0,192.8 193.0,192.3 195.0,193.8 197.0,194.7 199.0,198.8 201.0,202.6 203.0,207.4 205.0,211.6 207.0,216.4 209.0,221.4 211.0,226.2 213.0,230.5 215.0,233.1 217.0,236.0 219.0,238.5 221.0,241.7 223.0,244.1 225.0,247.9 227.0,251.9 229.0,255.2 231.0,258.0 233.0,260.2 235.0,262.8 237.0,265.0 239.0,266.6 241.0,268.2 243.0,270.6 245.0,272.5 246.8,268.0 247.5,230.0 263.0,240.0 267.5,245.0 268.8,262.0 269.8,276.0 270.6,281.2 272.0,285.2 275.0,287.2 280.0,286.7 283.0,288.2 286.0,290.2 290.0,293.2 294.0,297.7 298.0,301.2 302.0,303.5 308.0,304.7 316.0,305.2" stroke-width="2.4" /><polyline points="49.0,301.2 83.0,301.8 84.4,299.9 87.1,294.5 89.9,285.0 93.5,270.0 97.1,255.0 100.1,238.0 102.1,227.0 107.0,217.6 109.0,215.3 111.0,212.6 113.0,210.8 115.0,209.2 117.0,207.6 119.0,207.7 121.0,210.4 123.0,212.7 125.0,213.9 127.0,214.3 129.0,215.3 131.0,216.5 133.0,217.1 135.0,218.0 137.0,218.4 139.0,217.8 141.0,217.4 143.0,218.1 145.0,218.0 147.0,216.2 149.0,214.6 151.0,214.1 153.0,212.9 155.0,211.2 157.0,209.4 159.0,208.0 161.0,205.2 163.0,202.7 165.0,200.6 167.0,200.0 169.0,199.0 171.0,198.1 173.0,197.4 175.0,196.3 177.0,195.4 179.0,194.9 181.0,195.4 183.0,195.0 185.0,194.5 187.0,193.8 189.0,193.9 191.0,194.2 193.0,195.6 195.0,197.3 197.0,197.6 199.0,201.2 201.0,206.6 203.0,212.2 205.0,215.9 207.0,219.3 209.0,224.2 211.0,229.0 213.0,231.9 215.0,234.4 217.0,237.7 219.0,241.5 221.0,244.7 223.0,247.7 225.0,250.5 227.0,253.5 229.0,255.8 231.0,257.9 233.0,260.9 235.0,263.4 237.0,266.5 239.0,268.1 241.0,270.1 243.0,271.4 245.0,272.8 246.8,268.0 247.5,230.0 263.0,240.0 267.5,245.0 268.8,262.0 269.8,276.0 270.6,281.6 272.0,285.6 275.0,287.6 280.0,287.1 283.0,288.6 286.0,290.6 290.0,293.6 294.0,298.1 298.0,301.6 302.0,303.9 308.0,305.1 316.0,305.6" stroke-width="2.4" /><polyline points="49.0,301.5 83.0,302.0 84.8,300.2 87.5,294.5 90.3,285.0 93.9,270.0 97.5,255.0 100.5,238.0 102.5,227.0 107.0,216.8 109.0,214.4 111.0,212.5 113.0,210.6 115.0,209.6 117.0,208.7 119.0,209.6 121.0,211.1 123.0,212.6 125.0,213.6 127.0,214.3 129.0,215.9 131.0,217.2 133.0,217.6 135.0,217.8 137.0,218.5 139.0,218.7 141.0,218.5 143.0,218.6 145.0,218.0 147.0,216.4 149.0,215.2 151.0,213.7 153.0,212.4 155.0,211.5 157.0,211.8 159.0,212.1 161.0,211.9 163.0,210.4 165.0,208.4 167.0,206.4 169.0,204.4 171.0,203.0 173.0,201.7 175.0,201.4 177.0,201.5 179.0,201.0 181.0,200.1 183.0,199.0 185.0,198.7 187.0,199.0 189.0,199.5 191.0,198.9 193.0,198.8 195.0,199.6 197.0,200.5 199.0,203.7 201.0,207.8 203.0,213.0 205.0,217.0 207.0,221.1 209.0,225.5 211.0,230.3 213.0,234.1 215.0,236.7 217.0,239.1 219.0,241.9 221.0,244.8 223.0,248.3 225.0,251.4 227.0,254.8 229.0,257.0 231.0,259.7 233.0,262.2 235.0,265.1 237.0,267.7 239.0,268.9 241.0,270.3 243.0,271.5 245.0,272.9 246.8,268.0 247.5,230.0 263.0,240.0 267.5,245.0 268.8,262.0 269.8,276.0 270.6,281.9 272.0,285.9 275.0,287.9 280.0,287.4 283.0,288.9 286.0,290.9 290.0,293.9 294.0,298.4 298.0,301.9 302.0,304.2 308.0,305.4 316.0,305.9" stroke-width="2.4" /><polyline points="49.0,301.7 83.0,302.2 85.3,300.4 88.0,294.5 90.8,285.0 94.4,270.0 98.0,255.0 101.0,238.0 103.0,227.0 107.0,217.8 109.0,215.5 111.0,212.9 113.0,211.2 115.0,210.4 117.0,209.6 119.0,210.4 121.0,211.9 123.0,213.4 125.0,214.3 127.0,215.6 129.0,216.2 131.0,217.1 133.0,217.8 135.0,218.5 137.0,219.8 139.0,219.8 141.0,219.6 143.0,218.5 145.0,218.8 147.0,218.2 149.0,217.7 151.0,216.6 153.0,215.2 155.0,213.7 157.0,213.1 159.0,212.8 161.0,211.4 163.0,208.9 165.0,207.1 167.0,205.6 169.0,205.0 171.0,204.4 173.0,204.2 175.0,202.9 177.0,202.6 179.0,201.7 181.0,201.8 183.0,201.7 185.0,201.6 187.0,200.7 189.0,200.1 191.0,199.9 193.0,199.6 195.0,200.1 197.0,200.6 199.0,204.6 201.0,209.3 203.0,214.9 205.0,219.0 207.0,222.9 209.0,226.5 211.0,230.4 213.0,233.3 215.0,236.2 217.0,238.3 219.0,242.0 221.0,245.6 223.0,249.1 225.0,251.5 227.0,255.1 229.0,257.3 231.0,260.3 233.0,262.5 235.0,265.7 237.0,267.9 239.0,270.2 241.0,271.5 243.0,273.0 245.0,274.3 246.8,268.0 247.5,230.0 263.0,240.0 267.5,245.0 268.8,262.0 269.8,276.0 270.6,282.3 272.0,286.3 275.0,288.3 280.0,287.8 283.0,289.3 286.0,291.3 290.0,294.3 294.0,298.8 298.0,302.3 302.0,304.6 308.0,305.8 316.0,306.3" stroke-width="2.4" /><polyline points="49.0,301.9 83.0,302.4 85.7,300.6 88.4,294.5 91.2,285.0 94.8,270.0 98.4,255.0 101.4,238.0 103.4,227.0 107.0,221.0 109.0,218.1 111.0,214.5 113.0,212.3 115.0,212.4 117.0,211.8 119.0,211.5 121.0,212.2 123.0,214.1 125.0,215.6 127.0,216.8 129.0,217.7 131.0,218.7 133.0,218.5 135.0,219.0 137.0,219.6 139.0,218.9 141.0,218.6 143.0,218.2 145.0,218.5 147.0,217.0 149.0,217.0 151.0,216.5 153.0,216.3 155.0,215.2 157.0,213.9 159.0,211.9 161.0,210.6 163.0,210.4 165.0,210.2 167.0,209.5 169.0,208.5 171.0,206.8 173.0,205.2 175.0,204.6 177.0,204.3 179.0,202.4 181.0,200.9 183.0,200.7 185.0,201.1 187.0,200.7 189.0,200.5 191.0,199.5 193.0,199.7 195.0,201.3 197.0,203.6 199.0,207.3 201.0,211.4 203.0,215.5 205.0,219.9 207.0,224.3 209.0,228.8 211.0,232.6 213.0,236.0 215.0,239.2 217.0,241.8 219.0,244.8 221.0,246.8 223.0,249.0 225.0,251.5 227.0,255.0 229.0,258.2 231.0,261.6 233.0,264.0 235.0,266.4 237.0,268.7 239.0,270.6 241.0,272.3 243.0,273.5 245.0,274.7 246.8,268.0 247.5,230.0 263.0,240.0 267.5,245.0 268.8,262.0 269.8,276.0 270.6,282.7 272.0,286.7 275.0,288.7 280.0,288.2 283.0,289.7 286.0,291.7 290.0,294.7 294.0,299.2 298.0,302.7 302.0,305.0 308.0,306.2 316.0,306.7" stroke-width="2.4" /><polyline points="49.0,302.1 83.0,302.6 86.2,300.8 88.9,294.5 91.7,285.0 95.3,270.0 98.9,255.0 101.9,238.0 103.9,227.0 107.0,220.5 109.0,218.6 111.0,216.9 113.0,214.8 115.0,214.3 117.0,214.5 119.0,215.1 121.0,215.9 123.0,216.8 125.0,218.2 127.0,218.6 129.0,220.2 131.0,221.2 133.0,221.5 135.0,221.2 137.0,222.0 139.0,221.8 141.0,221.3 143.0,220.8 145.0,220.8 147.0,219.5 149.0,218.4 151.0,217.7 153.0,216.7 155.0,214.8 157.0,214.0 159.0,213.7 161.0,212.1 163.0,210.6 165.0,210.0 167.0,209.7 169.0,208.3 171.0,207.0 173.0,206.1 175.0,205.3 177.0,204.5 179.0,203.1 181.0,202.0 183.0,201.8 185.0,202.4 187.0,202.3 189.0,202.1 191.0,202.2 193.0,202.8 195.0,203.4 197.0,204.1 199.0,207.8 201.0,212.3 203.0,217.5 205.0,221.8 207.0,226.2 209.0,229.9 211.0,233.1 213.0,236.0 215.0,239.1 217.0,241.7 219.0,243.8 221.0,247.1 223.0,250.8 225.0,254.0 227.0,256.9 229.0,259.9 231.0,262.4 233.0,264.3 235.0,266.6 237.0,269.7 239.0,271.0 241.0,272.3 243.0,274.2 245.0,276.1 246.8,268.0 247.5,230.0 263.0,240.0 267.5,245.0 268.8,262.0 269.8,276.0 270.6,283.1 272.0,287.1 275.0,289.1 280.0,288.6 283.0,290.1 286.0,292.1 290.0,295.1 294.0,299.6 298.0,303.1 302.0,305.4 308.0,306.6 316.0,307.1" stroke-width="2.4" /><polyline points="49.0,302.4 83.0,302.9 86.6,301.1 89.3,294.5 92.1,285.0 95.7,270.0 99.3,255.0 102.3,238.0 104.3,227.0 107.0,220.5 109.0,218.4 111.0,216.7 113.0,215.5 115.0,215.0 117.0,214.6 119.0,215.3 121.0,216.6 123.0,218.1 125.0,219.4 127.0,220.0 129.0,220.3 131.0,220.7 133.0,221.0 135.0,222.4 137.0,223.2 139.0,222.7 141.0,221.4 143.0,221.0 145.0,221.2 147.0,221.1 149.0,219.8 151.0,218.0 153.0,216.5 155.0,215.4 157.0,214.1 159.0,213.2 161.0,212.7 163.0,212.2 165.0,211.5 167.0,210.2 169.0,208.2 171.0,206.7 173.0,205.5 175.0,205.1 177.0,204.8 179.0,204.6 181.0,203.6 183.0,202.3 185.0,201.9 187.0,202.6 189.0,202.6 191.0,202.0 193.0,202.4 195.0,203.7 197.0,205.1 199.0,209.7 201.0,214.5 203.0,219.9 205.0,224.6 207.0,228.9 209.0,232.3 211.0,235.2 213.0,238.7 215.0,240.9 217.0,243.7 219.0,246.1 221.0,249.4 223.0,252.5 225.0,255.0 227.0,257.5 229.0,260.0 231.0,262.7 233.0,265.1 235.0,267.7 237.0,270.3 239.0,272.3 241.0,274.4 243.0,276.4 245.0,277.4 246.8,268.0 247.5,230.0 263.0,240.0 267.5,245.0 268.8,262.0 269.8,276.0 270.6,283.4 272.0,287.4 275.0,289.4 280.0,288.9 283.0,290.4 286.0,292.4 290.0,295.4 294.0,299.9 298.0,303.4 302.0,305.8 308.0,306.9 316.0,307.4" stroke-width="2.4" /><polyline points="49.0,302.6 83.0,303.1 87.1,301.3 89.8,294.5 92.6,285.0 96.2,270.0 99.8,255.0 102.8,238.0 104.8,227.0 107.0,223.1 109.0,220.8 111.0,218.3 113.0,216.8 115.0,216.5 117.0,216.7 119.0,217.4 121.0,218.5 123.0,219.4 125.0,220.4 127.0,221.3 129.0,222.3 131.0,223.1 133.0,223.5 135.0,223.7 137.0,223.7 139.0,223.6 141.0,223.3 143.0,223.4 145.0,222.6 147.0,221.4 149.0,220.1 151.0,219.5 153.0,218.6 155.0,217.7 157.0,216.4 159.0,215.2 161.0,214.1 163.0,213.0 165.0,211.9 167.0,210.5 169.0,209.4 171.0,208.4 173.0,207.2 175.0,206.1 177.0,205.3 179.0,204.7 181.0,204.3 183.0,204.0 185.0,203.6 187.0,203.2 189.0,202.8 191.0,202.6 193.0,203.0 195.0,204.4 197.0,205.8 199.0,210.2 201.0,214.8 203.0,219.7 205.0,223.9 207.0,228.4 209.0,232.2 211.0,235.7 213.0,238.3 215.0,240.6 217.0,243.1 219.0,246.6 221.0,249.6 223.0,252.2 225.0,254.7 227.0,257.4 229.0,260.0 231.0,262.8 233.0,265.6 235.0,268.7 237.0,271.3 239.0,273.3 241.0,274.9 243.0,276.4 245.0,277.3 246.8,268.0 247.5,230.0 263.0,240.0 267.5,245.0 268.8,262.0 269.8,276.0 270.6,283.8 272.0,287.8 275.0,289.8 280.0,289.3 283.0,290.8 286.0,292.8 290.0,295.8 294.0,300.3 298.0,303.8 302.0,306.1 308.0,307.3 316.0,307.8" stroke-width="2.4" /><polyline points="49.0,301.5 81.5,302.0 84.3,300.0 87.2,291.0 89.7,277.0 92.2,260.0 94.3,235.0 96.0,222.0 97.3,211.0 99.0,209.0 101.0,197.0 103.0,190.5 105.0,197.0 107.5,207.0 110.0,209.0 113.0,205.0 116.0,200.5 118.0,199.0 121.0,201.0 125.0,203.0 130.0,205.0 137.0,209.0 145.0,209.5 147.3,208.0 148.3,60.0 148.6,-80.0 148.9,60.0 150.0,205.0 152.0,206.0 156.0,205.0 160.0,204.0 165.0,198.0 170.0,196.0 175.0,194.0 180.0,193.0 185.0,192.5 190.0,192.0 193.0,190.5 195.0,183.0 196.2,177.3 197.5,184.0 199.0,194.5 201.0,199.0 203.0,204.0 207.0,211.0 212.0,224.0 217.0,233.0 222.0,241.8 227.0,249.5 232.0,256.0 237.0,262.5 242.0,266.7 246.0,269.5 246.8,268.0 247.5,230.0 263.0,240.0 267.5,245.0 268.8,262.0 269.8,276.0 270.6,282.5 272.0,286.5 275.0,288.5 280.0,288.0 283.0,289.5 286.0,291.5 290.0,294.5 294.0,299.0 298.0,302.5 302.0,304.8 308.0,306.0 316.0,306.5" stroke-width="2.2" /><polyline points="148.6,215.0 148.6,20.0" stroke-width="2.9" /><polyline points="49.0,301.8 83.0,302.3 84.3,300.5 87.0,294.5 89.8,285.0 93.4,270.0 97.0,255.0 100.0,238.0 102.0,227.0 105.0,222.0 107.0,212.0 109.0,205.0 113.0,195.0 116.0,188.5 118.8,184.3 120.0,190.0 121.5,197.0 124.0,202.5 128.0,202.5 132.0,205.0 137.0,207.5 142.0,208.5 146.0,207.5 151.5,207.0 152.6,120.0 153.0,79.5 153.4,120.0 154.5,206.0 158.0,205.0 160.0,204.5 165.0,199.0 170.0,197.0 175.0,195.0 180.0,193.5 185.0,192.5 190.0,192.0 194.0,191.0 197.0,192.0 200.0,197.0 203.0,204.5 207.0,212.0 212.0,225.0 217.0,234.0 222.0,242.8 227.0,250.5 232.0,257.0 237.0,263.5 242.0,267.7 246.0,270.5 246.8,268.0 247.5,230.0 263.0,240.0 267.5,245.0 268.8,262.0 269.8,276.0 270.6,282.5 272.0,286.5 275.0,288.5 280.0,288.0 283.0,289.5 286.0,291.5 290.0,294.5 294.0,299.0 298.0,302.5 302.0,304.8 308.0,306.0 316.0,306.5" stroke-width="2.2" /><polyline points="146.0,214.0 150.0,213.0 154.6,212.0 155.6,130.0 156.0,91.0 156.4,130.0 157.5,190.0 159.0,210.0 162.0,210.0" stroke-width="2.0" /><polygon points="147.2,215.0 147.2,200.0 157.0,200.0 157.2,170.0 158.6,172.0 160.0,200.0 161.0,215.0" fill="#fff" stroke="none"/><polyline points="153.0,212.0 153.0,81.0" stroke-width="2.3" /><polyline points="156.0,212.0 156.0,92.5" stroke-width="2.0" /><rect x="149.6" y="84" width="2.2" height="128" fill="#fff" fill-opacity=".55" stroke="none"/><rect x="149.6" y="150" width="2.2" height="62" fill="#fff" fill-opacity=".6" stroke="none"/><rect x="153.8" y="95" width="1.4" height="117" fill="#fff" fill-opacity=".5" stroke="none"/><rect x="153.8" y="150" width="1.4" height="62" fill="#fff" fill-opacity=".6" stroke="none"/><polyline points="107.0,214.0 110.0,206.0 113.0,201.0 116.0,197.5 118.0,199.0 121.0,204.0 124.0,209.0" stroke-width="2.0" /><polyline points="273.5,288.0 275.3,287.5 276.3,284.0 277.5,279.2 278.6,284.0 279.6,288.5" stroke-width="2.0" /><polyline points="232.0,262.0 232.8,240.0 233.1,237.0 233.4,240.0 234.2,265.0" stroke-width="2.0" /><polyline points="240.3,271.0 241.2,260.8 242.1,272.0" stroke-width="2.0" /><polygon points="246.1,278.0 246.1,176.0 246.8,173.6 248.6,173.6 249.3,176.0 249.5,205.0 251.0,212.0 252.5,205.0 253.3,190.0 254.2,187.0 255.5,185.0 257.2,178.4 258.8,186.0 260.4,205.0 261.0,200.0 261.3,185.0 262.0,183.6 263.3,183.6 264.0,186.0 264.3,230.0 266.2,250.0 266.4,238.0 267.2,235.6 268.2,235.8 268.9,240.0 269.5,262.0 270.5,278.0 271.5,284.0 268.0,283.0 267.0,278.0 265.5,268.0 264.0,275.0 263.0,285.0 262.0,270.0 260.5,262.0 259.5,274.0 258.5,280.0 257.5,268.0 256.5,262.0 255.5,270.0 254.5,279.0 253.5,268.0 252.5,262.0 251.5,268.0 250.5,278.0 249.5,284.0 248.5,282.0" fill="#fff" stroke="none"/></g><g fill="none" stroke="#fff" stroke-linejoin="round" stroke-linecap="butt" clip-path="url(#cr)"><polyline points="329.0,300.5 332.0,302.0 336.0,302.5 364.0,302.5 366.6,300.5 369.6,297.0 372.6,291.0 375.6,283.0 378.6,274.0 381.6,264.0 383.6,257.0 387.0,250.7 392.0,243.2 395.0,243.9 399.5,242.1 403.0,247.3 410.0,251.3 420.0,253.4 427.0,250.6 433.0,247.5 440.0,243.5 445.0,240.8 450.0,237.6 455.0,232.3 458.0,229.7 462.0,230.9 467.0,231.3 470.0,230.7 473.0,229.8 477.0,230.7 480.0,234.5 483.0,241.7 487.0,247.5 490.0,251.9 495.0,258.8 500.0,264.2 505.0,268.9 510.0,272.8 516.0,278.1 522.0,282.0 527.0,284.7 527.6,270.0 528.0,250.0 540.0,254.0 544.0,256.0 547.0,263.5 549.8,262.0 550.6,276.0 551.6,287.3 553.0,293.3 556.0,295.1 560.0,295.6 565.0,297.3 570.0,299.3 575.0,301.5 580.0,303.5 585.0,304.9 590.0,305.8 596.0,306.3" stroke-width="2.3" /><polyline points="329.0,300.5 332.0,302.0 336.0,302.5 364.0,302.5 367.1,300.5 370.1,297.0 373.1,291.0 376.1,283.0 379.1,274.0 382.1,264.0 384.1,257.0 387.0,252.1 392.0,244.3 395.0,245.4 399.5,243.0 403.0,248.5 410.0,251.8 420.0,254.2 427.0,251.6 433.0,249.1 440.0,244.7 445.0,242.6 450.0,239.0 455.0,234.2 458.0,231.1 462.0,232.0 467.0,233.5 470.0,232.7 473.0,232.6 477.0,232.9 480.0,236.7 483.0,243.3 487.0,249.0 490.0,253.4 495.0,260.2 500.0,265.4 505.0,270.8 510.0,274.3 516.0,278.8 522.0,282.4 527.0,285.8 527.6,270.0 528.0,250.0 540.0,254.0 544.0,256.0 547.0,263.5 549.8,262.0 550.6,276.0 551.6,288.4 553.0,294.4 556.0,296.2 560.0,296.7 565.0,298.4 570.0,300.4 575.0,302.6 580.0,304.6 585.0,306.0 590.0,306.9 596.0,307.4" stroke-width="2.3" /><polyline points="329.0,300.5 332.0,302.0 336.0,302.5 364.0,302.5 367.6,300.5 370.6,297.0 373.6,291.0 376.6,283.0 379.6,274.0 382.6,264.0 384.6,257.0 387.0,254.0 392.0,245.6 395.0,246.3 399.5,244.6 403.0,249.3 410.0,252.7 420.0,255.0 427.0,252.5 433.0,249.0 440.0,245.6 445.0,243.1 450.0,239.4 455.0,235.2 458.0,232.7 462.0,233.5 467.0,234.3 470.0,234.5 473.0,234.6 477.0,235.3 480.0,237.8 483.0,245.1 487.0,250.8 490.0,254.9 495.0,261.7 500.0,266.7 505.0,271.7 510.0,274.8 516.0,278.8 522.0,283.4 527.0,285.9 527.6,270.0 528.0,250.0 540.0,254.0 544.0,256.0 547.0,263.5 549.8,262.0 550.6,276.0 551.6,288.0 553.0,294.0 556.0,295.8 560.0,296.3 565.0,298.0 570.0,300.0 575.0,302.2 580.0,304.2 585.0,305.6 590.0,306.5 596.0,307.0" stroke-width="2.3" /><polyline points="329.0,300.5 332.0,302.0 336.0,302.5 364.0,302.5 368.0,300.5 371.0,297.0 374.0,291.0 377.0,283.0 380.0,274.0 383.0,264.0 385.0,257.0 387.0,255.1 392.0,246.2 395.0,246.7 399.5,246.8 403.0,249.9 410.0,254.2 420.0,255.7 427.0,253.5 433.0,250.6 440.0,246.5 445.0,243.8 450.0,240.7 455.0,236.2 458.0,233.9 462.0,234.5 467.0,236.0 470.0,236.6 473.0,235.9 477.0,237.2 480.0,239.7 483.0,245.8 487.0,252.5 490.0,256.9 495.0,263.5 500.0,268.2 505.0,272.4 510.0,276.1 516.0,280.2 522.0,283.9 527.0,287.2 527.6,270.0 528.0,250.0 540.0,254.0 544.0,256.0 547.0,263.5 549.8,262.0 550.6,276.0 551.6,288.7 553.0,294.7 556.0,296.5 560.0,297.0 565.0,298.7 570.0,300.7 575.0,302.9 580.0,304.9 585.0,306.3 590.0,307.2 596.0,307.7" stroke-width="2.3" /><polyline points="329.0,300.5 332.0,302.0 336.0,302.5 364.0,302.5 368.4,300.5 371.4,297.0 374.4,291.0 377.4,283.0 380.4,274.0 383.4,264.0 385.4,257.0 387.0,255.8 392.0,246.8 395.0,247.3 399.5,247.6 403.0,251.2 410.0,255.3 420.0,256.1 427.0,253.6 433.0,251.4 440.0,247.6 445.0,244.5 450.0,241.4 455.0,236.6 458.0,235.6 462.0,235.5 467.0,236.5 470.0,238.0 473.0,238.1 477.0,238.7 480.0,241.9 483.0,247.1 487.0,254.4 490.0,258.1 495.0,264.1 500.0,269.0 505.0,273.1 510.0,277.1 516.0,280.3 522.0,284.4 527.0,287.4 527.6,270.0 528.0,250.0 540.0,254.0 544.0,256.0 547.0,263.5 549.8,262.0 550.6,276.0 551.6,288.2 553.0,294.2 556.0,296.0 560.0,296.5 565.0,298.2 570.0,300.2 575.0,302.4 580.0,304.4 585.0,305.8 590.0,306.7 596.0,307.2" stroke-width="2.3" /><polyline points="329.0,300.5 332.0,302.0 336.0,302.5 364.0,302.5 368.9,300.5 371.9,297.0 374.9,291.0 377.9,283.0 380.9,274.0 383.9,264.0 385.9,257.0 387.0,256.7 392.0,247.6 395.0,248.3 399.5,249.1 403.0,252.5 410.0,255.7 420.0,257.2 427.0,254.5 433.0,251.8 440.0,249.1 445.0,246.0 450.0,242.6 455.0,237.7 458.0,236.5 462.0,237.1 467.0,238.2 470.0,239.6 473.0,239.1 477.0,240.2 480.0,242.9 483.0,248.6 487.0,255.1 490.0,259.2 495.0,265.4 500.0,269.4 505.0,273.4 510.0,277.1 516.0,281.0 522.0,284.7 527.0,288.2 527.6,270.0 528.0,250.0 540.0,254.0 544.0,256.0 547.0,263.5 549.8,262.0 550.6,276.0 551.6,288.1 553.0,294.1 556.0,295.9 560.0,296.4 565.0,298.1 570.0,300.1 575.0,302.3 580.0,304.3 585.0,305.7 590.0,306.6 596.0,307.1" stroke-width="2.3" /><polyline points="329.0,300.5 332.0,302.0 336.0,302.5 364.0,302.5 369.4,300.5 372.4,297.0 375.4,291.0 378.4,283.0 381.4,274.0 384.4,264.0 386.4,257.0 387.0,258.5 392.0,249.1 395.0,249.0 399.5,250.6 403.0,253.2 410.0,256.6 420.0,258.1 427.0,255.1 433.0,252.4 440.0,249.8 445.0,246.6 450.0,243.3 455.0,238.7 458.0,237.1 462.0,237.8 467.0,238.5 470.0,240.2 473.0,240.6 477.0,241.8 480.0,244.3 483.0,250.1 487.0,256.8 490.0,260.6 495.0,266.2 500.0,270.9 505.0,274.7 510.0,278.0 516.0,282.1 522.0,285.5 527.0,288.2 527.6,270.0 528.0,250.0 540.0,254.0 544.0,256.0 547.0,263.5 549.8,262.0 550.6,276.0 551.6,288.2 553.0,294.2 556.0,296.0 560.0,296.5 565.0,298.2 570.0,300.2 575.0,302.4 580.0,304.4 585.0,305.8 590.0,306.7 596.0,307.2" stroke-width="2.3" /><polyline points="329.0,300.5 332.0,302.0 336.0,302.5 364.0,302.5 367.0,300.5 370.0,297.0 373.0,291.0 376.0,283.0 379.0,274.0 382.0,264.0 384.0,257.0 387.0,249.0 390.0,243.5 392.0,241.5 394.5,243.5 397.0,242.0 399.8,238.6 402.0,244.0 405.0,248.0 410.0,250.5 420.0,252.5 426.0,250.5 427.8,249.0 430.0,247.0 432.0,246.0 436.0,243.0 440.0,243.0 445.0,240.5 450.0,236.5 455.0,231.5 458.0,229.0 462.0,229.5 467.0,230.5 470.0,229.5 473.0,227.5 475.5,224.0 476.9,221.0 478.3,225.0 480.0,233.0 483.0,240.5 487.0,246.5 490.0,251.0 495.0,258.0 500.0,263.5 505.0,268.5 510.0,272.5 516.0,277.0 522.0,281.0 527.0,284.5 527.6,270.0 528.0,250.0 540.0,254.0 544.0,256.0 547.0,263.5 549.8,262.0 550.6,276.0 551.6,288.0 553.0,294.0 556.0,295.8 560.0,296.3 565.0,298.0 570.0,300.0 575.0,302.2 580.0,304.2 585.0,305.6 590.0,306.5 596.0,307.0" stroke-width="2.2" /><polyline points="428.9,250.0 428.9,34.5" stroke-width="2.8" /><polyline points="429.3,250.0 429.3,120.0" stroke-width="3.0" /><polyline points="438.5,244.0 438.5,118.3" stroke-width="3.0" /><polyline points="435.8,246.0 435.8,163.3" stroke-width="2.6" /><polyline points="432.6,248.0 432.8,229.0 433.4,248.0" stroke-width="1.6" /><polygon points="434.4,247.0 434.5,225.0 440.0,225.0 440.4,236.0 442.0,245.0" fill="#fff" stroke="none"/><polyline points="470.0,232.0 473.0,229.5 475.5,225.5 476.9,222.5 478.5,229.0 480.0,236.0" stroke-width="1.8" /><polyline points="385.0,259.0 388.0,253.0 392.0,250.0 396.0,251.0 400.0,253.0 405.0,255.5 410.0,258.0 415.0,259.0 420.0,256.5 425.0,254.0 430.0,252.0" stroke-width="2.0" /><polyline points="329.0,300.5 332.0,302.0 336.0,302.5 364.0,302.5 370.0,300.5 373.0,297.0 376.0,291.0 379.0,283.0 382.0,274.0 385.0,264.0 387.0,262.0 390.0,258.0 395.0,256.0 398.0,258.0 400.0,260.0 403.0,260.5 405.0,262.0 408.0,262.5 410.0,264.0 413.0,264.5 415.0,266.0 418.0,266.0 420.0,265.0 423.0,264.5 425.0,263.0 428.0,262.5 430.0,261.0 433.0,260.5 435.0,259.0 438.0,258.0 440.0,256.0 443.0,254.5 445.0,253.0 448.0,252.5 450.0,252.0 453.0,250.0 456.0,244.5 458.0,243.5 460.0,246.0 462.0,248.3 464.0,246.0 466.0,244.5 468.0,246.0 470.0,250.0 472.0,252.3 475.0,251.0 478.0,252.5 480.0,256.0 483.0,261.0 486.0,264.5 490.0,271.0 493.0,276.5 497.0,280.0 502.0,283.0 508.0,286.0 515.0,289.0 522.0,291.5 527.0,293.0" stroke-width="2.0" /><polyline points="555.0,296.0 556.6,294.5 558.0,290.4 559.4,295.0 560.2,296.5" stroke-width="2.0" /><polyline points="512.6,276.0 513.3,250.0 513.5,245.5 513.8,250.0 514.5,277.0" stroke-width="2.2" /><polyline points="520.5,282.0 521.3,264.3 522.1,283.0" stroke-width="2.0" /><polygon points="525.9,290.0 526.2,200.0 526.8,196.3 528.8,196.3 529.4,200.0 530.2,222.0 531.0,210.0 531.4,203.0 532.8,203.0 533.4,212.0 534.5,214.5 536.0,213.5 537.5,210.8 538.8,214.0 540.0,212.5 541.5,209.3 543.0,211.0 544.0,220.0 544.6,230.0 545.5,250.0 547.0,262.0 548.5,250.0 549.1,245.0 550.0,246.0 550.6,262.0 551.5,280.0 553.0,293.0 550.0,295.0 548.5,294.0 547.5,284.0 546.5,272.0 545.5,280.0 544.5,288.0 543.0,288.0 542.0,275.0 541.0,266.0 540.0,274.0 539.0,262.0 538.0,270.0 537.0,262.0 536.0,272.0 535.0,264.0 534.0,276.0 533.0,285.0 532.0,275.0 531.0,268.0 530.0,280.0 529.0,290.0 527.5,292.0" fill="#fff" stroke="none"/></g><g fill="#000" font-size="16.67px" text-anchor="middle"><text x="181.7" y="16">26.5 (HexS1=1037) X</text><text x="461.5" y="16">26.5 (HexS1=1037) Y</text></g><g fill="#000" font-size="13.9px"><text x="32.8" y="41.9" text-anchor="end">On</text><text x="612" y="41.9">On</text><text x="32.8" y="58.6" text-anchor="end">Y</text><text x="612" y="58.6">Y</text><text x="32.8" y="75.3" text-anchor="end">Off</text><text x="612" y="75.3">Off</text><text x="32.8" y="92.0" text-anchor="end">P</text><text x="612" y="92.0">P</text><text x="32.8" y="108.7" text-anchor="end">O</text><text x="612" y="108.7">O</text><text x="32.8" y="125.4" text-anchor="end">N</text><text x="612" y="125.4">N</text><text x="32.8" y="142.1" text-anchor="end">M</text><text x="612" y="142.1">M</text><text x="32.8" y="158.8" text-anchor="end">L</text><text x="612" y="158.8">L</text><text x="32.8" y="175.5" text-anchor="end">K</text><text x="612" y="175.5">K</text><text x="32.8" y="192.2" text-anchor="end">J</text><text x="612" y="192.2">J</text><text x="32.8" y="208.9" text-anchor="end">I</text><text x="612" y="208.9">I</text><text x="32.8" y="225.6" text-anchor="end">H</text><text x="612" y="225.6">H</text><text x="32.8" y="242.3" text-anchor="end">G</text><text x="612" y="242.3">G</text><text x="32.8" y="259.0" text-anchor="end">F</text><text x="612" y="259.0">F</text><text x="32.8" y="275.7" text-anchor="end">E</text><text x="612" y="275.7">E</text><text x="32.8" y="292.4" text-anchor="end">D</text><text x="612" y="292.4">D</text><text x="32.8" y="309.1" text-anchor="end">C</text><text x="612" y="309.1">C</text><text x="32.8" y="325.8" text-anchor="end">B</text><text x="612" y="325.8">B</text><text x="32.8" y="342.5" text-anchor="end">A</text><text x="612" y="342.5">A</text><text x="32.8" y="359.2" text-anchor="end">Off</text><text x="612" y="359.2">Off</text><text x="32.8" y="375.9" text-anchor="end">X</text><text x="612" y="375.9">X</text><text x="32.8" y="392.6" text-anchor="end">On</text><text x="612" y="392.6">On</text><text transform="translate(2.7,217.9) rotate(-90)" text-anchor="middle">Dipole</text></g><g fill="#000" font-size="9.3px" text-anchor="middle"><rect x="48.75" y="408.6" width="1.1" height="4.9"/><text x="48.8" y="425.7">0</text><rect x="89.42" y="408.6" width="1.1" height="4.9"/><text x="89.5" y="425.7">50</text><rect x="130.09" y="408.6" width="1.1" height="4.9"/><text x="130.1" y="425.7">100</text><rect x="170.76" y="408.6" width="1.1" height="4.9"/><text x="170.8" y="425.7">150</text><rect x="211.43" y="408.6" width="1.1" height="4.9"/><text x="211.5" y="425.7">200</text><rect x="252.10" y="408.6" width="1.1" height="4.9"/><text x="252.2" y="425.7">250</text><rect x="292.77" y="408.6" width="1.1" height="4.9"/><text x="292.8" y="425.7">300</text><rect x="328.70" y="408.6" width="1.1" height="4.9"/><text x="328.8" y="425.7">0</text><rect x="369.37" y="408.6" width="1.1" height="4.9"/><text x="369.4" y="425.7">50</text><rect x="410.04" y="408.6" width="1.1" height="4.9"/><text x="410.1" y="425.7">100</text><rect x="450.71" y="408.6" width="1.1" height="4.9"/><text x="450.8" y="425.7">150</text><rect x="491.38" y="408.6" width="1.1" height="4.9"/><text x="491.4" y="425.7">200</text><rect x="532.05" y="408.6" width="1.1" height="4.9"/><text x="532.1" y="425.7">250</text><rect x="572.72" y="408.6" width="1.1" height="4.9"/><text x="572.8" y="425.7">300</text></g></svg></body></html>
